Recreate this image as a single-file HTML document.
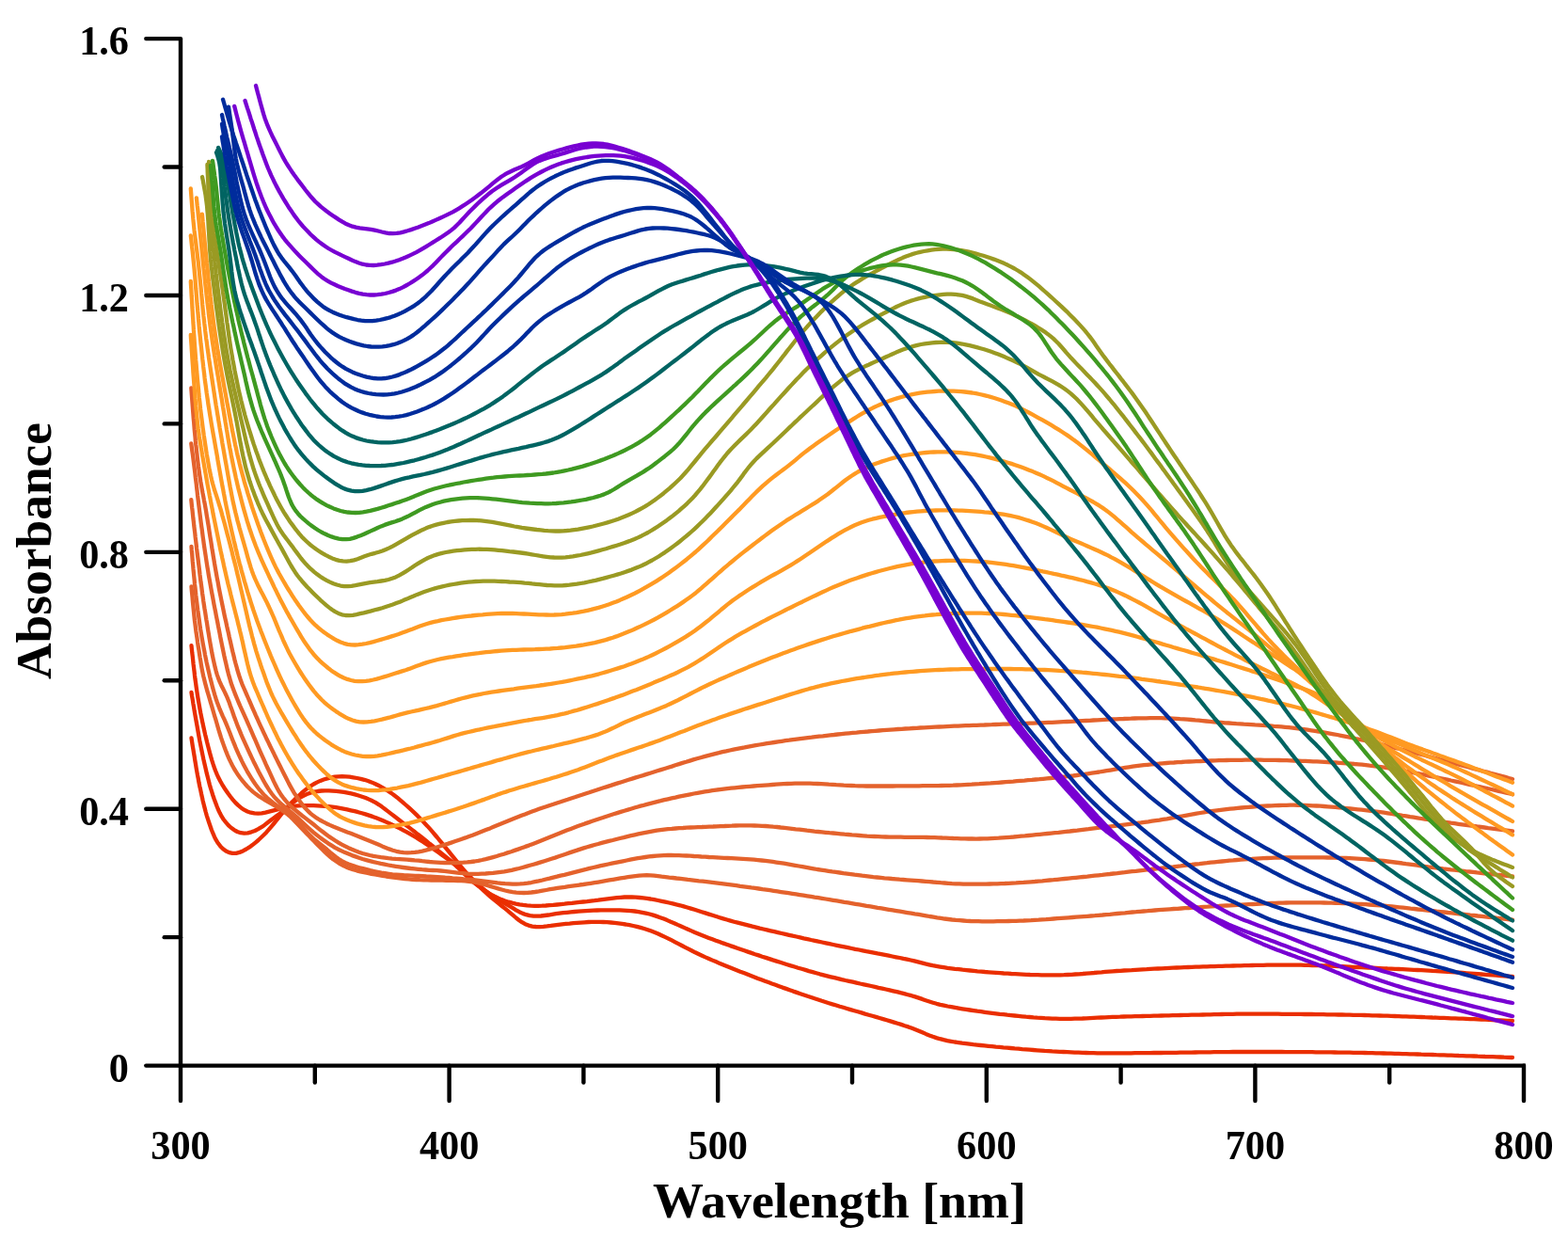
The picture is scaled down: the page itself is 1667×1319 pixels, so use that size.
<!DOCTYPE html>
<html><head><meta charset="utf-8"><title>Absorbance spectra</title>
<style>html,body{margin:0;padding:0;background:#fff;overflow:hidden}svg{display:block}</style></head>
<body><svg width="1667" height="1319" viewBox="0 0 1667 1319">
<rect width="1667" height="1319" fill="#fff"/>
<g fill="none" stroke-width="4.3" stroke-linejoin="round" stroke-linecap="round"><path d="M203.5,784.4 L204.1,788.4 L204.7,792.3 L205.4,796.3 L206.0,800.2 L206.7,804.2 L207.3,808.1 L208.0,812.1 L208.6,816.0 L209.3,820.0 L210.0,823.9 L210.8,827.8 L211.5,831.8 L212.3,835.7 L213.2,839.6 L214.0,843.5 L214.9,847.4 L215.7,851.3 L216.7,855.2 L217.7,859.1 L218.7,863.0 L219.8,866.8 L221.0,870.6 L222.3,874.5 L223.6,878.2 L224.9,882.0 L226.4,885.7 L228.0,889.4 L229.8,892.9 L231.9,896.3 L234.3,899.4 L237.1,902.2 L240.2,904.5 L243.6,906.1 L247.2,906.9 L251.0,906.8 L254.7,905.9 L258.3,904.4 L261.8,902.5 L265.2,900.4 L268.4,898.1 L271.5,895.6 L274.6,893.0 L277.5,890.3 L280.4,887.5 L283.2,884.7 L285.8,881.7 L288.4,878.6 L291.0,875.5 L293.5,872.4 L296.0,869.3 L298.5,866.2 L301.1,863.1 L303.7,860.1 L306.3,857.1 L309.0,854.1 L311.8,851.2 L314.7,848.4 L317.6,845.7 L320.5,843.0 L323.6,840.4 L326.7,837.9 L330.0,835.6 L333.3,833.5 L336.8,831.6 L340.5,829.9 L344.2,828.5 L348.0,827.4 L351.9,826.4 L355.8,825.7 L359.8,825.3 L363.7,825.2 L367.7,825.4 L371.7,825.7 L375.6,826.3 L379.6,827.0 L383.5,827.8 L387.4,828.8 L391.2,830.0 L394.9,831.4 L398.6,833.0 L402.2,834.7 L405.7,836.6 L409.2,838.6 L412.6,840.7 L415.9,842.9 L419.1,845.3 L422.3,847.7 L425.4,850.3 L428.4,852.9 L431.4,855.5 L434.4,858.2 L437.4,860.9 L440.3,863.6 L443.2,866.4 L446.0,869.2 L448.8,872.1 L451.5,875.0 L454.3,877.9 L457.0,880.9 L459.6,883.9 L462.2,887.0 L464.8,890.0 L467.3,893.1 L469.9,896.2 L472.4,899.3 L474.9,902.4 L477.5,905.5 L480.0,908.6 L482.5,911.7 L485.1,914.8 L487.6,917.9 L490.1,921.0 L492.7,924.1 L495.3,927.1 L498.0,930.1 L500.7,933.0 L503.4,936.0 L506.2,938.8 L509.1,941.7 L511.9,944.4 L514.8,947.2 L517.8,949.9 L520.8,952.6 L523.8,955.2 L526.9,957.7 L530.0,960.2 L533.2,962.7 L536.3,965.2 L539.4,967.7 L542.5,970.3 L545.6,972.9 L548.6,975.5 L551.7,978.0 L554.9,980.2 L558.4,982.2 L562.0,983.6 L565.8,984.6 L569.7,985.0 L573.7,985.1 L577.6,984.8 L581.6,984.4 L585.6,983.9 L589.6,983.3 L593.5,982.8 L597.5,982.3 L601.5,981.9 L605.5,981.6 L609.5,981.2 L613.4,980.9 L617.4,980.6 L621.4,980.3 L625.4,980.0 L629.4,979.8 L633.4,979.8 L637.4,979.8 L641.4,980.0 L645.4,980.2 L649.4,980.5 L653.4,980.9 L657.4,981.4 L661.3,981.9 L665.3,982.5 L669.2,983.2 L673.1,984.0 L677.0,984.9 L680.9,985.9 L684.8,987.0 L688.6,988.2 L692.4,989.6 L696.1,991.0 L699.8,992.5 L703.4,994.2 L707.0,995.9 L710.6,997.6 L714.2,999.4 L717.8,1001.3 L721.3,1003.1 L724.9,1005.0 L728.4,1006.8 L732.0,1008.7 L735.6,1010.5 L739.1,1012.3 L742.7,1014.0 L746.4,1015.7 L750.0,1017.4 L753.7,1019.0 L757.4,1020.6 L761.0,1022.1 L764.7,1023.7 L768.4,1025.2 L772.1,1026.7 L775.9,1028.2 L779.6,1029.7 L783.3,1031.2 L787.0,1032.7 L790.7,1034.1 L794.5,1035.6 L798.2,1037.0 L802.0,1038.4 L805.7,1039.9 L809.4,1041.3 L813.2,1042.7 L817.0,1044.1 L820.7,1045.5 L824.5,1046.8 L828.2,1048.2 L832.0,1049.6 L835.8,1050.9 L839.5,1052.2 L843.3,1053.6 L847.1,1054.9 L850.9,1056.2 L854.7,1057.5 L858.5,1058.8 L862.3,1060.0 L866.1,1061.3 L869.9,1062.5 L873.7,1063.8 L877.5,1065.0 L881.3,1066.2 L885.1,1067.4 L889.0,1068.5 L892.8,1069.7 L896.6,1070.8 L900.5,1072.0 L904.3,1073.1 L908.2,1074.2 L912.0,1075.3 L915.9,1076.4 L919.7,1077.6 L923.6,1078.7 L927.4,1079.8 L931.3,1080.9 L935.1,1082.0 L938.9,1083.1 L942.8,1084.3 L946.6,1085.4 L950.5,1086.6 L954.3,1087.7 L958.1,1088.9 L961.9,1090.2 L965.7,1091.4 L969.5,1092.8 L973.2,1094.2 L976.9,1095.7 L980.6,1097.3 L984.3,1098.9 L988.0,1100.4 L991.7,1101.8 L995.5,1103.1 L999.3,1104.2 L1003.2,1105.2 L1007.1,1106.1 L1011.1,1106.8 L1015.0,1107.5 L1019.0,1108.1 L1022.9,1108.7 L1026.9,1109.2 L1030.9,1109.7 L1034.8,1110.2 L1038.8,1110.6 L1042.8,1111.0 L1046.8,1111.4 L1050.8,1111.8 L1054.8,1112.2 L1058.7,1112.6 L1062.7,1112.9 L1066.7,1113.3 L1070.7,1113.6 L1074.7,1114.0 L1078.7,1114.4 L1082.7,1114.7 L1086.7,1115.1 L1090.6,1115.4 L1094.6,1115.7 L1098.6,1116.0 L1102.6,1116.3 L1106.6,1116.6 L1110.6,1116.9 L1114.6,1117.1 L1118.6,1117.4 L1122.6,1117.6 L1126.6,1117.8 L1130.6,1118.0 L1134.6,1118.2 L1138.6,1118.4 L1142.6,1118.6 L1146.6,1118.7 L1150.6,1118.9 L1154.6,1119.0 L1158.6,1119.1 L1162.6,1119.2 L1166.6,1119.3 L1170.6,1119.3 L1174.6,1119.3 L1178.6,1119.4 L1182.6,1119.4 L1186.6,1119.4 L1190.6,1119.3 L1194.6,1119.3 L1198.7,1119.3 L1202.7,1119.3 L1206.7,1119.2 L1210.7,1119.2 L1214.7,1119.1 L1218.7,1119.1 L1222.7,1119.1 L1226.7,1119.0 L1230.7,1119.0 L1234.7,1119.0 L1238.7,1118.9 L1242.7,1118.9 L1246.7,1118.8 L1250.7,1118.8 L1254.7,1118.7 L1258.7,1118.7 L1262.7,1118.6 L1266.7,1118.6 L1270.7,1118.5 L1274.7,1118.4 L1278.7,1118.4 L1282.7,1118.3 L1286.7,1118.3 L1290.7,1118.2 L1294.7,1118.2 L1298.8,1118.1 L1302.8,1118.1 L1306.8,1118.1 L1310.8,1118.0 L1314.8,1118.0 L1318.8,1118.0 L1322.8,1118.0 L1326.8,1118.0 L1330.8,1118.0 L1334.8,1118.0 L1338.8,1118.0 L1342.8,1118.0 L1346.8,1118.0 L1350.8,1118.0 L1354.8,1118.0 L1358.8,1118.0 L1362.8,1118.0 L1366.8,1118.1 L1370.8,1118.1 L1374.8,1118.1 L1378.8,1118.1 L1382.8,1118.1 L1386.8,1118.2 L1390.9,1118.2 L1394.9,1118.2 L1398.9,1118.3 L1402.9,1118.3 L1406.9,1118.4 L1410.9,1118.4 L1414.9,1118.4 L1418.9,1118.5 L1422.9,1118.6 L1426.9,1118.6 L1430.9,1118.7 L1434.9,1118.7 L1438.9,1118.8 L1442.9,1118.9 L1446.9,1118.9 L1450.9,1119.0 L1454.9,1119.1 L1458.9,1119.2 L1462.9,1119.3 L1466.9,1119.4 L1470.9,1119.5 L1474.9,1119.6 L1478.9,1119.7 L1482.9,1119.8 L1486.9,1119.9 L1490.9,1120.1 L1494.9,1120.2 L1498.9,1120.3 L1502.9,1120.4 L1506.9,1120.5 L1511.0,1120.7 L1515.0,1120.8 L1519.0,1120.9 L1523.0,1121.0 L1527.0,1121.2 L1531.0,1121.3 L1535.0,1121.4 L1539.0,1121.6 L1543.0,1121.7 L1547.0,1121.8 L1551.0,1122.0 L1555.0,1122.1 L1559.0,1122.3 L1563.0,1122.4 L1567.0,1122.5 L1571.0,1122.7 L1575.0,1122.8 L1579.0,1123.0 L1583.0,1123.1 L1587.0,1123.2 L1591.0,1123.4 L1595.0,1123.5 L1599.0,1123.7 L1603.0,1123.8 L1607.0,1124.0 L1608.0,1124.0" stroke="#ea2e00"/><path d="M203.5,735.9 L204.1,739.9 L204.8,743.8 L205.4,747.8 L206.1,751.7 L206.7,755.7 L207.4,759.6 L208.1,763.6 L208.8,767.5 L209.5,771.4 L210.2,775.4 L210.9,779.3 L211.6,783.3 L212.3,787.2 L213.1,791.1 L213.9,795.1 L214.7,799.0 L215.5,802.9 L216.3,806.8 L217.2,810.7 L218.1,814.6 L219.0,818.5 L219.9,822.4 L220.9,826.3 L221.9,830.2 L222.9,834.1 L224.0,837.9 L225.2,841.7 L226.4,845.5 L227.7,849.3 L229.1,853.1 L230.5,856.8 L232.0,860.5 L233.7,864.1 L235.6,867.7 L237.7,871.0 L240.2,874.1 L242.8,877.1 L245.7,879.8 L248.9,882.1 L252.3,884.0 L255.9,885.2 L259.6,885.6 L263.5,885.3 L267.2,884.3 L271.0,883.0 L274.5,881.2 L277.9,879.2 L281.2,876.9 L284.3,874.5 L287.5,872.0 L290.7,869.6 L293.9,867.3 L297.2,864.9 L300.3,862.5 L303.4,859.9 L306.4,857.3 L309.4,854.7 L312.5,852.2 L315.8,849.8 L319.1,847.7 L322.6,845.8 L326.2,844.1 L330.0,842.7 L333.8,841.7 L337.7,841.0 L341.7,840.5 L345.6,840.3 L349.6,840.4 L353.6,840.6 L357.6,840.9 L361.6,841.3 L365.6,841.9 L369.5,842.6 L373.4,843.4 L377.3,844.4 L381.1,845.5 L384.9,846.7 L388.7,848.0 L392.4,849.6 L396.0,851.3 L399.5,853.2 L402.9,855.3 L406.2,857.6 L409.4,860.0 L412.5,862.4 L415.7,864.9 L418.9,867.3 L422.1,869.7 L425.3,872.2 L428.4,874.6 L431.6,877.0 L434.8,879.4 L438.0,881.9 L441.2,884.3 L444.3,886.8 L447.5,889.2 L450.6,891.7 L453.7,894.2 L456.8,896.8 L460.0,899.3 L463.1,901.8 L466.2,904.3 L469.3,906.9 L472.4,909.4 L475.5,911.9 L478.6,914.5 L481.7,917.0 L484.8,919.5 L487.9,922.0 L491.0,924.6 L494.1,927.1 L497.1,929.8 L500.1,932.4 L503.0,935.1 L506.0,937.8 L508.9,940.5 L511.9,943.2 L515.0,945.8 L518.1,948.3 L521.3,950.7 L524.6,953.0 L528.0,955.1 L531.4,957.2 L534.9,959.2 L538.3,961.2 L541.8,963.2 L545.2,965.2 L548.7,967.3 L552.1,969.2 L555.7,970.9 L559.4,972.2 L563.3,973.2 L567.2,973.6 L571.2,973.7 L575.1,973.5 L579.1,973.0 L583.1,972.5 L587.0,971.9 L591.0,971.2 L594.9,970.7 L598.9,970.2 L602.9,969.8 L606.9,969.4 L610.9,969.0 L614.9,968.7 L618.8,968.4 L622.8,968.1 L626.8,967.8 L630.8,967.6 L634.8,967.5 L638.8,967.4 L642.8,967.3 L646.8,967.3 L650.9,967.3 L654.9,967.3 L658.9,967.4 L662.9,967.6 L666.9,967.8 L670.8,968.1 L674.8,968.5 L678.8,969.1 L682.7,969.8 L686.6,970.6 L690.5,971.5 L694.4,972.6 L698.2,973.9 L701.9,975.2 L705.7,976.6 L709.4,978.1 L713.1,979.7 L716.8,981.2 L720.4,982.9 L724.1,984.5 L727.7,986.1 L731.4,987.8 L735.1,989.4 L738.7,991.0 L742.4,992.5 L746.1,994.0 L749.9,995.5 L753.6,996.9 L757.4,998.3 L761.1,999.7 L764.9,1001.0 L768.6,1002.4 L772.4,1003.7 L776.2,1005.1 L780.0,1006.4 L783.8,1007.7 L787.5,1009.0 L791.3,1010.3 L795.1,1011.6 L798.9,1012.9 L802.7,1014.2 L806.5,1015.4 L810.3,1016.7 L814.1,1017.9 L817.9,1019.1 L821.7,1020.4 L825.6,1021.6 L829.4,1022.8 L833.2,1024.0 L837.0,1025.2 L840.8,1026.4 L844.7,1027.5 L848.5,1028.7 L852.4,1029.8 L856.2,1030.9 L860.0,1032.1 L863.9,1033.1 L867.8,1034.2 L871.6,1035.3 L875.5,1036.3 L879.4,1037.3 L883.3,1038.3 L887.1,1039.2 L891.0,1040.1 L894.9,1041.1 L898.8,1042.0 L902.7,1042.8 L906.7,1043.7 L910.6,1044.6 L914.5,1045.5 L918.4,1046.3 L922.3,1047.2 L926.2,1048.0 L930.1,1048.9 L934.0,1049.8 L937.9,1050.6 L941.8,1051.5 L945.7,1052.4 L949.6,1053.3 L953.5,1054.2 L957.4,1055.2 L961.3,1056.1 L965.2,1057.2 L969.0,1058.2 L972.9,1059.4 L976.7,1060.6 L980.5,1061.9 L984.2,1063.3 L988.0,1064.5 L991.9,1065.7 L995.7,1066.8 L999.6,1067.8 L1003.5,1068.6 L1007.4,1069.5 L1011.3,1070.2 L1015.3,1070.9 L1019.2,1071.6 L1023.2,1072.3 L1027.1,1072.9 L1031.1,1073.5 L1035.1,1074.1 L1039.0,1074.7 L1043.0,1075.2 L1047.0,1075.8 L1050.9,1076.3 L1054.9,1076.8 L1058.9,1077.3 L1062.8,1077.8 L1066.8,1078.2 L1070.8,1078.7 L1074.8,1079.1 L1078.8,1079.5 L1082.7,1079.9 L1086.7,1080.3 L1090.7,1080.7 L1094.7,1081.0 L1098.7,1081.4 L1102.7,1081.7 L1106.7,1081.9 L1110.7,1082.2 L1114.7,1082.4 L1118.7,1082.6 L1122.7,1082.7 L1126.7,1082.8 L1130.7,1082.8 L1134.7,1082.8 L1138.7,1082.8 L1142.7,1082.7 L1146.7,1082.6 L1150.7,1082.5 L1154.7,1082.3 L1158.7,1082.1 L1162.7,1081.9 L1166.7,1081.7 L1170.7,1081.5 L1174.7,1081.3 L1178.7,1081.1 L1182.7,1080.9 L1186.7,1080.8 L1190.7,1080.7 L1194.7,1080.5 L1198.7,1080.4 L1202.7,1080.3 L1206.7,1080.2 L1210.7,1080.1 L1214.7,1080.0 L1218.7,1079.9 L1222.7,1079.8 L1226.7,1079.7 L1230.7,1079.6 L1234.7,1079.5 L1238.7,1079.4 L1242.7,1079.3 L1246.7,1079.2 L1250.8,1079.1 L1254.8,1079.0 L1258.8,1078.9 L1262.8,1078.8 L1266.8,1078.7 L1270.8,1078.7 L1274.8,1078.6 L1278.8,1078.5 L1282.8,1078.4 L1286.8,1078.3 L1290.8,1078.2 L1294.8,1078.1 L1298.8,1078.0 L1302.8,1077.9 L1306.8,1077.8 L1310.8,1077.8 L1314.8,1077.7 L1318.8,1077.7 L1322.8,1077.7 L1326.8,1077.7 L1330.8,1077.7 L1334.8,1077.7 L1338.8,1077.7 L1342.8,1077.7 L1346.8,1077.7 L1350.8,1077.7 L1354.8,1077.7 L1358.9,1077.7 L1362.9,1077.8 L1366.9,1077.8 L1370.9,1077.8 L1374.9,1077.8 L1378.9,1077.9 L1382.9,1077.9 L1386.9,1078.0 L1390.9,1078.0 L1394.9,1078.0 L1398.9,1078.1 L1402.9,1078.1 L1406.9,1078.2 L1410.9,1078.3 L1414.9,1078.3 L1418.9,1078.4 L1422.9,1078.5 L1426.9,1078.5 L1430.9,1078.6 L1434.9,1078.7 L1438.9,1078.8 L1442.9,1078.8 L1446.9,1078.9 L1450.9,1079.0 L1454.9,1079.1 L1458.9,1079.3 L1463.0,1079.4 L1467.0,1079.5 L1471.0,1079.6 L1475.0,1079.7 L1479.0,1079.9 L1483.0,1080.0 L1487.0,1080.1 L1491.0,1080.3 L1495.0,1080.4 L1499.0,1080.6 L1503.0,1080.7 L1507.0,1080.9 L1511.0,1081.0 L1515.0,1081.2 L1519.0,1081.3 L1523.0,1081.5 L1527.0,1081.6 L1531.0,1081.8 L1535.0,1081.9 L1539.0,1082.1 L1543.0,1082.3 L1547.0,1082.4 L1551.0,1082.6 L1555.0,1082.7 L1559.0,1082.9 L1563.0,1083.1 L1567.0,1083.2 L1571.0,1083.4 L1575.0,1083.6 L1579.0,1083.7 L1583.0,1083.9 L1587.0,1084.1 L1591.0,1084.3 L1595.0,1084.4 L1599.0,1084.6 L1603.0,1084.8 L1607.0,1085.0 L1608.0,1085.0" stroke="#ea2e00"/><path d="M203.5,686.1 L203.9,690.1 L204.3,694.1 L204.8,698.0 L205.2,702.0 L205.6,706.0 L206.1,710.0 L206.6,714.0 L207.0,717.9 L207.5,721.9 L208.1,725.9 L208.6,729.8 L209.2,733.8 L209.8,737.8 L210.4,741.7 L211.1,745.7 L211.8,749.6 L212.5,753.6 L213.2,757.5 L214.0,761.4 L214.8,765.3 L215.6,769.3 L216.5,773.2 L217.3,777.1 L218.2,781.0 L219.2,784.9 L220.1,788.8 L221.1,792.7 L222.1,796.5 L223.1,800.4 L224.2,804.3 L225.3,808.1 L226.5,811.9 L227.8,815.7 L229.2,819.5 L230.7,823.1 L232.4,826.8 L234.2,830.3 L236.2,833.8 L238.3,837.2 L240.5,840.5 L242.8,843.8 L245.2,847.0 L247.7,850.1 L250.3,853.1 L253.2,855.9 L256.2,858.4 L259.5,860.7 L263.0,862.5 L266.6,863.7 L270.5,864.4 L274.4,864.6 L278.3,864.3 L282.2,863.6 L286.1,862.6 L290.0,861.6 L293.9,860.6 L297.7,859.7 L301.6,858.7 L305.5,857.9 L309.5,857.2 L313.4,856.7 L317.4,856.3 L321.4,856.1 L325.4,856.1 L329.4,856.1 L333.4,856.2 L337.4,856.4 L341.4,856.6 L345.4,856.9 L349.4,857.2 L353.4,857.6 L357.3,858.2 L361.3,858.8 L365.2,859.6 L369.1,860.4 L373.0,861.3 L376.9,862.2 L380.8,863.2 L384.7,864.3 L388.5,865.4 L392.3,866.6 L396.1,867.9 L399.9,869.3 L403.6,870.7 L407.3,872.3 L411.0,873.9 L414.6,875.5 L418.2,877.2 L421.8,878.9 L425.4,880.7 L429.0,882.6 L432.5,884.4 L436.0,886.4 L439.5,888.4 L442.9,890.4 L446.3,892.6 L449.7,894.7 L453.0,897.0 L456.3,899.2 L459.6,901.5 L462.9,903.8 L466.2,906.1 L469.5,908.4 L472.7,910.7 L475.9,913.1 L479.1,915.5 L482.2,918.0 L485.2,920.6 L488.2,923.4 L491.0,926.2 L493.8,929.0 L496.7,931.8 L499.7,934.5 L502.7,937.1 L505.8,939.6 L509.0,942.0 L512.3,944.3 L515.6,946.6 L518.9,948.8 L522.3,950.8 L525.8,952.7 L529.4,954.5 L533.1,956.1 L536.9,957.5 L540.7,958.7 L544.5,959.7 L548.4,960.6 L552.3,961.4 L556.3,961.9 L560.3,962.3 L564.3,962.6 L568.3,962.8 L572.3,962.8 L576.3,962.7 L580.2,962.5 L584.2,962.2 L588.2,961.9 L592.2,961.5 L596.2,961.1 L600.2,960.7 L604.2,960.2 L608.1,959.8 L612.1,959.3 L616.1,958.9 L620.1,958.5 L624.1,958.1 L628.0,957.6 L632.0,957.2 L636.0,956.7 L640.0,956.1 L643.9,955.6 L647.9,955.1 L651.9,954.6 L655.8,954.1 L659.8,953.8 L663.8,953.5 L667.8,953.4 L671.8,953.5 L675.8,953.7 L679.8,954.0 L683.8,954.4 L687.7,954.9 L691.7,955.5 L695.6,956.2 L699.6,957.0 L703.5,957.8 L707.4,958.6 L711.3,959.5 L715.2,960.4 L719.1,961.4 L723.0,962.3 L726.9,963.4 L730.7,964.5 L734.5,965.6 L738.4,966.8 L742.2,968.0 L746.0,969.2 L749.8,970.4 L753.6,971.6 L757.4,972.8 L761.3,974.0 L765.1,975.2 L768.9,976.4 L772.8,977.5 L776.6,978.6 L780.5,979.7 L784.3,980.7 L788.2,981.7 L792.1,982.7 L796.0,983.7 L799.9,984.7 L803.8,985.6 L807.6,986.6 L811.5,987.5 L815.4,988.4 L819.3,989.3 L823.2,990.2 L827.1,991.1 L831.0,992.0 L834.9,992.9 L838.9,993.8 L842.8,994.7 L846.7,995.5 L850.6,996.4 L854.5,997.3 L858.4,998.1 L862.3,999.0 L866.2,999.8 L870.1,1000.7 L874.0,1001.5 L878.0,1002.4 L881.9,1003.2 L885.8,1004.0 L889.7,1004.8 L893.6,1005.6 L897.6,1006.4 L901.5,1007.2 L905.4,1008.0 L909.3,1008.8 L913.3,1009.5 L917.2,1010.3 L921.1,1011.1 L925.1,1011.8 L929.0,1012.6 L932.9,1013.4 L936.9,1014.1 L940.8,1014.9 L944.7,1015.7 L948.6,1016.5 L952.6,1017.3 L956.5,1018.0 L960.4,1018.9 L964.3,1019.7 L968.2,1020.5 L972.1,1021.4 L976.0,1022.4 L979.9,1023.4 L983.8,1024.4 L987.7,1025.3 L991.6,1026.2 L995.5,1026.9 L999.5,1027.6 L1003.4,1028.2 L1007.4,1028.8 L1011.4,1029.3 L1015.3,1029.8 L1019.3,1030.2 L1023.3,1030.7 L1027.3,1031.1 L1031.3,1031.5 L1035.2,1031.9 L1039.2,1032.3 L1043.2,1032.6 L1047.2,1033.0 L1051.2,1033.3 L1055.2,1033.6 L1059.2,1033.9 L1063.2,1034.2 L1067.2,1034.5 L1071.2,1034.7 L1075.2,1035.0 L1079.2,1035.2 L1083.2,1035.4 L1087.2,1035.6 L1091.2,1035.8 L1095.2,1036.0 L1099.2,1036.1 L1103.2,1036.2 L1107.2,1036.3 L1111.2,1036.4 L1115.2,1036.4 L1119.2,1036.4 L1123.2,1036.4 L1127.2,1036.3 L1131.2,1036.2 L1135.2,1036.0 L1139.2,1035.8 L1143.2,1035.5 L1147.2,1035.3 L1151.2,1035.0 L1155.1,1034.6 L1159.1,1034.3 L1163.1,1034.0 L1167.1,1033.6 L1171.1,1033.3 L1175.1,1032.9 L1179.1,1032.6 L1183.1,1032.3 L1187.1,1032.0 L1191.1,1031.8 L1195.1,1031.5 L1199.1,1031.3 L1203.1,1031.1 L1207.1,1030.8 L1211.1,1030.6 L1215.1,1030.4 L1219.1,1030.2 L1223.0,1029.9 L1227.0,1029.7 L1231.0,1029.5 L1235.0,1029.3 L1239.0,1029.1 L1243.0,1028.9 L1247.0,1028.7 L1251.0,1028.5 L1255.0,1028.4 L1259.0,1028.2 L1263.0,1028.0 L1267.0,1027.9 L1271.0,1027.7 L1275.0,1027.6 L1279.0,1027.4 L1283.1,1027.3 L1287.1,1027.2 L1291.1,1027.1 L1295.1,1026.9 L1299.1,1026.8 L1303.1,1026.7 L1307.1,1026.6 L1311.1,1026.5 L1315.1,1026.4 L1319.1,1026.3 L1323.1,1026.2 L1327.1,1026.1 L1331.1,1026.0 L1335.1,1025.9 L1339.1,1025.8 L1343.1,1025.8 L1347.1,1025.7 L1351.1,1025.7 L1355.1,1025.6 L1359.1,1025.6 L1363.1,1025.6 L1367.1,1025.6 L1371.1,1025.6 L1375.1,1025.6 L1379.1,1025.6 L1383.1,1025.7 L1387.1,1025.8 L1391.1,1025.9 L1395.1,1026.0 L1399.1,1026.1 L1403.1,1026.2 L1407.1,1026.4 L1411.1,1026.5 L1415.1,1026.7 L1419.1,1026.9 L1423.1,1027.1 L1427.1,1027.2 L1431.1,1027.4 L1435.1,1027.6 L1439.1,1027.8 L1443.1,1028.0 L1447.1,1028.2 L1451.1,1028.4 L1455.1,1028.6 L1459.1,1028.7 L1463.1,1028.9 L1467.1,1029.1 L1471.1,1029.3 L1475.1,1029.5 L1479.1,1029.6 L1483.1,1029.8 L1487.1,1030.0 L1491.1,1030.2 L1495.1,1030.4 L1499.1,1030.6 L1503.1,1030.8 L1507.1,1031.0 L1511.1,1031.2 L1515.1,1031.4 L1519.1,1031.6 L1523.1,1031.9 L1527.1,1032.1 L1531.1,1032.4 L1535.1,1032.6 L1539.1,1032.9 L1543.1,1033.1 L1547.1,1033.4 L1551.1,1033.7 L1555.1,1034.0 L1559.1,1034.3 L1563.1,1034.6 L1567.1,1034.9 L1571.1,1035.2 L1575.1,1035.5 L1579.1,1035.8 L1583.0,1036.1 L1587.0,1036.4 L1591.0,1036.7 L1595.0,1037.0 L1599.0,1037.3 L1603.0,1037.6 L1607.0,1037.9 L1608.0,1038.0" stroke="#ea2e00"/><path d="M203.5,623.3 L203.8,627.3 L204.2,631.3 L204.6,635.3 L204.9,639.3 L205.3,643.2 L205.7,647.2 L206.1,651.2 L206.5,655.2 L206.9,659.2 L207.4,663.1 L207.9,667.1 L208.4,671.1 L209.0,675.0 L209.6,679.0 L210.1,683.0 L210.7,686.9 L211.4,690.9 L212.0,694.8 L212.6,698.8 L213.3,702.7 L213.9,706.7 L214.6,710.6 L215.4,714.6 L216.2,718.5 L217.2,722.4 L218.1,726.2 L219.2,730.1 L220.2,734.0 L221.4,737.8 L222.5,741.6 L223.6,745.5 L224.8,749.3 L225.9,753.2 L227.0,757.0 L228.1,760.8 L229.3,764.7 L230.4,768.5 L231.5,772.4 L232.6,776.2 L233.8,780.0 L235.0,783.9 L236.3,787.7 L237.6,791.4 L239.0,795.2 L240.4,798.9 L241.9,802.6 L243.5,806.3 L245.2,809.9 L247.0,813.5 L248.9,817.0 L251.0,820.4 L253.2,823.8 L255.5,827.0 L258.0,830.1 L260.6,833.2 L263.3,836.2 L266.1,839.0 L269.0,841.6 L272.2,844.1 L275.4,846.4 L278.8,848.5 L282.2,850.6 L285.7,852.6 L289.2,854.6 L292.6,856.6 L296.0,858.7 L299.4,860.9 L302.6,863.2 L305.8,865.6 L308.8,868.2 L311.7,871.0 L314.5,873.9 L317.2,876.8 L320.0,879.7 L322.7,882.6 L325.5,885.5 L328.3,888.3 L331.1,891.2 L333.9,894.0 L336.7,896.9 L339.5,899.8 L342.3,902.6 L345.2,905.4 L348.1,908.2 L351.1,910.8 L354.2,913.3 L357.5,915.6 L360.8,917.8 L364.3,919.7 L367.9,921.4 L371.6,922.9 L375.4,924.2 L379.2,925.3 L383.1,926.3 L387.0,927.2 L390.9,928.0 L394.8,928.8 L398.7,929.5 L402.7,930.2 L406.6,930.8 L410.6,931.5 L414.6,932.0 L418.5,932.6 L422.5,933.1 L426.5,933.6 L430.4,934.0 L434.4,934.4 L438.4,934.8 L442.4,935.0 L446.4,935.2 L450.4,935.3 L454.4,935.4 L458.4,935.5 L462.4,935.6 L466.4,935.6 L470.4,935.7 L474.4,935.8 L478.4,935.8 L482.4,935.9 L486.4,936.0 L490.4,936.1 L494.4,936.4 L498.4,936.8 L502.4,937.3 L506.3,938.0 L510.2,938.9 L514.1,939.9 L517.9,941.0 L521.7,942.1 L525.6,943.3 L529.4,944.4 L533.3,945.5 L537.1,946.5 L541.0,947.4 L545.0,948.1 L548.9,948.6 L552.9,948.9 L556.9,949.0 L560.9,948.8 L564.8,948.5 L568.8,948.0 L572.8,947.4 L576.7,946.7 L580.6,946.0 L584.6,945.2 L588.5,944.6 L592.5,943.9 L596.4,943.3 L600.4,942.8 L604.4,942.2 L608.3,941.7 L612.3,941.1 L616.2,940.5 L620.2,940.0 L624.2,939.4 L628.1,938.8 L632.1,938.1 L636.0,937.5 L640.0,936.8 L643.9,936.1 L647.9,935.4 L651.8,934.8 L655.8,934.1 L659.7,933.4 L663.7,932.8 L667.6,932.2 L671.6,931.6 L675.5,931.1 L679.5,930.6 L683.5,930.3 L687.5,930.2 L691.5,930.4 L695.4,930.7 L699.4,931.2 L703.4,931.7 L707.4,932.1 L711.3,932.6 L715.3,933.0 L719.3,933.5 L723.3,933.9 L727.2,934.4 L731.2,934.9 L735.2,935.3 L739.2,935.8 L743.1,936.3 L747.1,936.7 L751.1,937.2 L755.1,937.7 L759.0,938.2 L763.0,938.7 L767.0,939.2 L771.0,939.7 L774.9,940.2 L778.9,940.7 L782.9,941.2 L786.8,941.8 L790.8,942.3 L794.8,942.8 L798.7,943.4 L802.7,943.9 L806.7,944.5 L810.6,945.1 L814.6,945.6 L818.6,946.2 L822.5,946.8 L826.5,947.4 L830.4,948.0 L834.4,948.6 L838.3,949.2 L842.3,949.8 L846.3,950.4 L850.2,951.0 L854.2,951.7 L858.1,952.3 L862.1,952.9 L866.0,953.6 L870.0,954.2 L873.9,954.8 L877.9,955.5 L881.8,956.1 L885.8,956.8 L889.7,957.4 L893.7,958.1 L897.6,958.8 L901.6,959.4 L905.5,960.1 L909.5,960.8 L913.4,961.4 L917.4,962.1 L921.3,962.8 L925.3,963.4 L929.2,964.1 L933.1,964.8 L937.1,965.4 L941.0,966.1 L945.0,966.8 L948.9,967.4 L952.9,968.1 L956.8,968.7 L960.8,969.4 L964.7,970.0 L968.7,970.6 L972.6,971.3 L976.6,971.9 L980.5,972.6 L984.5,973.3 L988.4,974.0 L992.4,974.6 L996.3,975.3 L1000.3,975.9 L1004.2,976.5 L1008.2,977.0 L1012.2,977.5 L1016.2,977.9 L1020.2,978.2 L1024.1,978.5 L1028.1,978.8 L1032.1,979.0 L1036.1,979.1 L1040.1,979.2 L1044.1,979.3 L1048.1,979.3 L1052.2,979.3 L1056.2,979.3 L1060.2,979.2 L1064.2,979.2 L1068.2,979.1 L1072.2,979.0 L1076.2,978.9 L1080.2,978.8 L1084.2,978.6 L1088.2,978.5 L1092.2,978.3 L1096.2,978.1 L1100.2,977.8 L1104.2,977.6 L1108.2,977.3 L1112.1,977.1 L1116.1,976.8 L1120.1,976.5 L1124.1,976.2 L1128.1,975.9 L1132.1,975.6 L1136.1,975.3 L1140.1,975.0 L1144.1,974.7 L1148.1,974.4 L1152.1,974.1 L1156.1,973.8 L1160.0,973.5 L1164.0,973.2 L1168.0,972.8 L1172.0,972.5 L1176.0,972.1 L1180.0,971.8 L1184.0,971.4 L1188.0,971.0 L1192.0,970.6 L1195.9,970.3 L1199.9,969.9 L1203.9,969.5 L1207.9,969.2 L1211.9,968.8 L1215.9,968.5 L1219.9,968.2 L1223.9,967.8 L1227.8,967.5 L1231.8,967.2 L1235.8,966.9 L1239.8,966.6 L1243.8,966.3 L1247.8,966.0 L1251.8,965.8 L1255.8,965.5 L1259.8,965.2 L1263.8,965.0 L1267.8,964.7 L1271.8,964.4 L1275.8,964.2 L1279.8,963.9 L1283.8,963.7 L1287.8,963.4 L1291.7,963.2 L1295.7,963.0 L1299.7,962.7 L1303.7,962.5 L1307.7,962.3 L1311.7,962.0 L1315.7,961.8 L1319.7,961.6 L1323.7,961.4 L1327.7,961.2 L1331.7,961.0 L1335.7,960.8 L1339.7,960.5 L1343.7,960.3 L1347.7,960.2 L1351.7,960.0 L1355.7,959.8 L1359.7,959.7 L1363.7,959.6 L1367.7,959.5 L1371.7,959.4 L1375.7,959.3 L1379.7,959.3 L1383.7,959.3 L1387.7,959.3 L1391.7,959.3 L1395.7,959.3 L1399.7,959.4 L1403.7,959.4 L1407.7,959.5 L1411.7,959.6 L1415.7,959.7 L1419.7,959.8 L1423.8,959.9 L1427.8,960.1 L1431.8,960.2 L1435.8,960.4 L1439.8,960.6 L1443.7,960.8 L1447.7,961.0 L1451.7,961.2 L1455.7,961.5 L1459.7,961.8 L1463.7,962.1 L1467.7,962.4 L1471.7,962.7 L1475.7,963.1 L1479.7,963.5 L1483.7,963.9 L1487.6,964.3 L1491.6,964.7 L1495.6,965.1 L1499.6,965.6 L1503.6,966.0 L1507.5,966.5 L1511.5,966.9 L1515.5,967.4 L1519.5,967.8 L1523.4,968.2 L1527.4,968.7 L1531.4,969.1 L1535.4,969.5 L1539.4,970.0 L1543.3,970.4 L1547.3,970.8 L1551.3,971.3 L1555.3,971.7 L1559.3,972.1 L1563.2,972.6 L1567.2,973.0 L1571.2,973.5 L1575.2,973.9 L1579.2,974.4 L1583.1,974.8 L1587.1,975.2 L1591.1,975.7 L1595.1,976.1 L1599.0,976.6 L1603.0,977.0 L1607.0,977.5 L1608.0,977.6" stroke="#e4622c"/><path d="M203.5,581.0 L203.8,585.0 L204.2,589.0 L204.5,593.0 L204.8,597.0 L205.2,600.9 L205.5,604.9 L205.9,608.9 L206.3,612.9 L206.7,616.9 L207.0,620.9 L207.5,624.8 L207.9,628.8 L208.3,632.8 L208.8,636.8 L209.3,640.8 L209.8,644.7 L210.3,648.7 L210.9,652.7 L211.4,656.6 L212.0,660.6 L212.5,664.5 L213.1,668.5 L213.8,672.5 L214.4,676.4 L215.1,680.4 L215.8,684.3 L216.5,688.2 L217.3,692.2 L218.0,696.1 L218.8,700.0 L219.6,703.9 L220.5,707.8 L221.4,711.7 L222.3,715.6 L223.2,719.5 L224.2,723.4 L225.2,727.3 L226.2,731.2 L227.3,735.0 L228.4,738.9 L229.6,742.7 L230.9,746.5 L232.3,750.2 L233.7,753.9 L235.3,757.6 L236.9,761.3 L238.6,764.9 L240.2,768.6 L241.7,772.3 L243.2,776.0 L244.7,779.7 L246.1,783.4 L247.6,787.2 L249.1,790.9 L250.6,794.6 L252.2,798.3 L253.8,801.9 L255.5,805.5 L257.2,809.1 L259.0,812.7 L260.9,816.3 L262.8,819.8 L264.8,823.2 L266.9,826.6 L269.1,830.0 L271.3,833.3 L273.7,836.5 L276.2,839.7 L278.8,842.7 L281.5,845.6 L284.4,848.3 L287.5,850.9 L290.6,853.4 L293.8,855.7 L297.2,858.0 L300.5,860.1 L303.8,862.4 L307.0,864.7 L310.1,867.3 L313.0,870.0 L315.8,872.8 L318.5,875.8 L321.2,878.8 L323.8,881.8 L326.5,884.7 L329.3,887.6 L332.2,890.4 L335.2,893.0 L338.3,895.5 L341.4,898.0 L344.6,900.5 L347.7,903.0 L350.7,905.6 L353.8,908.1 L356.9,910.6 L360.1,913.0 L363.5,915.1 L367.0,916.9 L370.7,918.5 L374.4,919.8 L378.2,921.1 L382.1,922.2 L385.9,923.2 L389.8,924.2 L393.7,925.2 L397.6,926.0 L401.5,926.8 L405.5,927.6 L409.4,928.2 L413.4,928.8 L417.3,929.3 L421.3,929.6 L425.3,929.9 L429.3,930.2 L433.3,930.4 L437.3,930.6 L441.3,930.8 L445.3,931.0 L449.3,931.2 L453.3,931.5 L457.3,931.7 L461.3,931.9 L465.3,932.1 L469.3,932.4 L473.3,932.7 L477.3,932.9 L481.2,933.3 L485.2,933.6 L489.2,933.9 L493.2,934.3 L497.2,934.6 L501.2,935.0 L505.2,935.4 L509.1,935.9 L513.1,936.4 L517.1,936.9 L521.0,937.4 L525.0,937.9 L529.0,938.4 L533.0,938.8 L536.9,939.2 L540.9,939.4 L544.9,939.6 L548.9,939.6 L552.9,939.4 L556.9,939.1 L560.9,938.6 L564.8,938.0 L568.7,937.2 L572.7,936.4 L576.6,935.5 L580.4,934.5 L584.3,933.6 L588.2,932.6 L592.1,931.7 L596.0,930.7 L599.9,929.8 L603.8,928.8 L607.6,927.8 L611.5,926.8 L615.4,925.8 L619.3,924.8 L623.2,923.9 L627.0,922.9 L630.9,922.0 L634.8,921.1 L638.7,920.2 L642.6,919.4 L646.6,918.5 L650.5,917.7 L654.4,916.9 L658.3,916.1 L662.2,915.3 L666.2,914.5 L670.1,913.7 L674.0,912.9 L678.0,912.2 L681.9,911.6 L685.9,911.0 L689.8,910.4 L693.8,910.0 L697.8,909.6 L701.8,909.3 L705.8,909.1 L709.8,909.0 L713.8,909.0 L717.8,909.1 L721.8,909.2 L725.8,909.3 L729.8,909.5 L733.8,909.7 L737.8,910.0 L741.7,910.2 L745.7,910.5 L749.7,910.7 L753.7,911.0 L757.7,911.2 L761.7,911.4 L765.7,911.6 L769.7,911.8 L773.7,912.0 L777.7,912.2 L781.7,912.4 L785.7,912.6 L789.7,912.8 L793.7,913.1 L797.7,913.4 L801.7,913.7 L805.7,914.1 L809.7,914.5 L813.6,914.9 L817.6,915.4 L821.6,915.9 L825.5,916.5 L829.5,917.1 L833.4,917.7 L837.4,918.4 L841.3,919.1 L845.3,919.8 L849.2,920.5 L853.1,921.2 L857.1,921.9 L861.0,922.6 L865.0,923.3 L868.9,924.0 L872.9,924.6 L876.8,925.2 L880.8,925.8 L884.7,926.4 L888.7,926.9 L892.7,927.5 L896.6,928.1 L900.6,928.6 L904.6,929.1 L908.5,929.7 L912.5,930.2 L916.5,930.7 L920.4,931.1 L924.4,931.6 L928.4,932.1 L932.4,932.5 L936.4,932.9 L940.3,933.3 L944.3,933.6 L948.3,934.0 L952.3,934.3 L956.3,934.7 L960.3,935.0 L964.3,935.3 L968.3,935.6 L972.3,935.9 L976.2,936.2 L980.2,936.5 L984.2,936.8 L988.2,937.1 L992.2,937.5 L996.2,937.8 L1000.2,938.2 L1004.2,938.5 L1008.2,938.8 L1012.1,939.1 L1016.1,939.3 L1020.1,939.4 L1024.1,939.6 L1028.1,939.6 L1032.1,939.7 L1036.2,939.7 L1040.2,939.7 L1044.2,939.6 L1048.2,939.6 L1052.2,939.5 L1056.2,939.4 L1060.2,939.3 L1064.2,939.1 L1068.2,939.0 L1072.2,938.8 L1076.2,938.6 L1080.2,938.4 L1084.1,938.1 L1088.1,937.9 L1092.1,937.6 L1096.1,937.3 L1100.1,937.0 L1104.1,936.6 L1108.1,936.3 L1112.1,935.9 L1116.1,935.5 L1120.0,935.2 L1124.0,934.8 L1128.0,934.4 L1132.0,934.0 L1136.0,933.6 L1140.0,933.2 L1143.9,932.8 L1147.9,932.4 L1151.9,932.0 L1155.9,931.6 L1159.9,931.1 L1163.8,930.7 L1167.8,930.3 L1171.8,929.9 L1175.8,929.4 L1179.8,929.0 L1183.7,928.5 L1187.7,928.1 L1191.7,927.6 L1195.7,927.2 L1199.6,926.7 L1203.6,926.2 L1207.6,925.8 L1211.6,925.3 L1215.6,924.9 L1219.5,924.4 L1223.5,924.0 L1227.5,923.5 L1231.5,923.1 L1235.4,922.6 L1239.4,922.2 L1243.4,921.7 L1247.4,921.3 L1251.3,920.8 L1255.3,920.4 L1259.3,919.9 L1263.3,919.4 L1267.2,919.0 L1271.2,918.5 L1275.2,918.1 L1279.2,917.6 L1283.2,917.2 L1287.1,916.7 L1291.1,916.3 L1295.1,915.9 L1299.1,915.5 L1303.1,915.1 L1307.0,914.7 L1311.0,914.4 L1315.0,914.0 L1319.0,913.7 L1323.0,913.4 L1327.0,913.1 L1331.0,912.9 L1335.0,912.6 L1339.0,912.4 L1343.0,912.2 L1347.0,912.0 L1351.0,911.9 L1355.0,911.7 L1359.0,911.6 L1363.0,911.5 L1367.0,911.4 L1371.0,911.4 L1375.0,911.3 L1379.0,911.3 L1383.0,911.3 L1387.0,911.3 L1391.0,911.3 L1395.0,911.3 L1399.0,911.3 L1403.0,911.3 L1407.0,911.4 L1411.0,911.5 L1415.0,911.5 L1419.0,911.6 L1423.0,911.8 L1427.0,911.9 L1431.0,912.0 L1435.0,912.2 L1439.0,912.4 L1443.0,912.6 L1447.0,912.9 L1451.0,913.2 L1455.0,913.5 L1459.0,913.8 L1463.0,914.2 L1466.9,914.6 L1470.9,915.0 L1474.9,915.5 L1478.9,916.0 L1482.8,916.5 L1486.8,917.0 L1490.8,917.5 L1494.7,918.1 L1498.7,918.6 L1502.7,919.2 L1506.6,919.7 L1510.6,920.3 L1514.5,920.8 L1518.5,921.4 L1522.5,921.9 L1526.5,922.4 L1530.4,922.9 L1534.4,923.4 L1538.4,923.8 L1542.4,924.3 L1546.3,924.7 L1550.3,925.2 L1554.3,925.6 L1558.3,926.1 L1562.2,926.5 L1566.2,926.9 L1570.2,927.4 L1574.2,927.8 L1578.2,928.3 L1582.1,928.7 L1586.1,929.1 L1590.1,929.6 L1594.1,930.0 L1598.1,930.4 L1602.0,930.9 L1606.0,931.3 L1608.0,931.5" stroke="#e4622c"/><path d="M203.3,531.2 L203.7,535.2 L204.1,539.2 L204.6,543.1 L205.0,547.1 L205.4,551.1 L205.9,555.1 L206.3,559.1 L206.8,563.0 L207.3,567.0 L207.7,571.0 L208.2,575.0 L208.7,578.9 L209.1,582.9 L209.6,586.9 L210.1,590.9 L210.6,594.8 L211.1,598.8 L211.6,602.8 L212.1,606.7 L212.5,610.7 L213.0,614.7 L213.5,618.7 L214.1,622.6 L214.6,626.6 L215.1,630.6 L215.7,634.5 L216.2,638.5 L216.8,642.4 L217.4,646.4 L218.1,650.4 L218.7,654.3 L219.3,658.3 L220.0,662.2 L220.6,666.2 L221.2,670.1 L221.9,674.1 L222.5,678.0 L223.2,682.0 L223.9,685.9 L224.6,689.8 L225.3,693.8 L226.1,697.7 L226.9,701.6 L227.8,705.5 L228.7,709.4 L229.7,713.3 L230.8,717.1 L232.1,720.9 L233.6,724.6 L235.2,728.2 L237.0,731.8 L238.8,735.4 L240.5,739.0 L242.1,742.7 L243.6,746.4 L244.9,750.2 L246.3,753.9 L247.6,757.7 L248.9,761.5 L250.3,765.2 L251.7,769.0 L253.1,772.7 L254.7,776.4 L256.2,780.1 L257.8,783.8 L259.4,787.4 L261.1,791.1 L262.7,794.7 L264.4,798.4 L266.1,802.0 L267.8,805.6 L269.5,809.2 L271.3,812.8 L273.1,816.4 L274.9,820.0 L276.8,823.5 L278.7,827.0 L280.6,830.5 L282.6,834.0 L284.7,837.4 L286.9,840.8 L289.2,844.0 L291.7,847.1 L294.4,850.0 L297.2,852.8 L300.2,855.5 L303.3,858.1 L306.3,860.7 L309.4,863.2 L312.5,865.8 L315.5,868.4 L318.4,871.1 L321.3,873.9 L324.2,876.6 L327.2,879.3 L330.2,882.0 L333.2,884.6 L336.3,887.1 L339.5,889.6 L342.7,892.0 L345.9,894.3 L349.2,896.6 L352.6,898.7 L356.0,900.8 L359.5,902.7 L363.1,904.4 L366.8,906.1 L370.5,907.6 L374.2,909.1 L377.9,910.4 L381.7,911.7 L385.5,913.0 L389.4,914.1 L393.2,915.1 L397.1,916.1 L401.0,917.0 L404.9,917.9 L408.8,918.7 L412.8,919.5 L416.7,920.2 L420.7,920.8 L424.6,921.4 L428.6,922.0 L432.5,922.5 L436.5,923.0 L440.5,923.4 L444.5,923.8 L448.5,924.2 L452.5,924.5 L456.4,924.8 L460.4,925.0 L464.4,925.2 L468.4,925.5 L472.4,925.9 L476.4,926.3 L480.4,926.8 L484.3,927.3 L488.3,927.8 L492.3,928.2 L496.3,928.6 L500.2,928.8 L504.2,928.9 L508.2,928.9 L512.2,928.7 L516.2,928.5 L520.2,928.2 L524.2,927.9 L528.2,927.4 L532.1,926.9 L536.1,926.3 L540.0,925.6 L544.0,924.8 L547.9,923.9 L551.8,923.0 L555.6,922.0 L559.5,920.9 L563.3,919.8 L567.2,918.7 L571.0,917.6 L574.9,916.4 L578.7,915.2 L582.5,914.0 L586.3,912.8 L590.1,911.6 L593.9,910.3 L597.7,909.0 L601.5,907.7 L605.3,906.4 L609.1,905.1 L612.9,903.9 L616.7,902.6 L620.5,901.4 L624.3,900.3 L628.2,899.1 L632.0,898.0 L635.9,897.0 L639.7,895.9 L643.6,894.9 L647.5,893.9 L651.4,893.0 L655.2,892.0 L659.1,891.0 L663.0,890.1 L666.9,889.1 L670.8,888.2 L674.7,887.3 L678.6,886.4 L682.5,885.6 L686.4,884.8 L690.4,884.1 L694.3,883.4 L698.3,882.7 L702.2,882.2 L706.2,881.7 L710.2,881.2 L714.2,880.9 L718.2,880.5 L722.1,880.2 L726.1,880.0 L730.1,879.7 L734.1,879.5 L738.1,879.3 L742.1,879.1 L746.1,879.0 L750.1,878.8 L754.1,878.6 L758.1,878.5 L762.1,878.3 L766.1,878.1 L770.1,878.0 L774.1,877.8 L778.1,877.7 L782.1,877.5 L786.1,877.4 L790.1,877.4 L794.1,877.4 L798.1,877.4 L802.1,877.5 L806.1,877.6 L810.1,877.8 L814.1,878.0 L818.1,878.3 L822.1,878.7 L826.1,879.0 L830.1,879.5 L834.0,879.9 L838.0,880.3 L842.0,880.8 L846.0,881.3 L849.9,881.7 L853.9,882.2 L857.9,882.7 L861.9,883.1 L865.9,883.6 L869.8,884.0 L873.8,884.4 L877.8,884.8 L881.8,885.2 L885.8,885.5 L889.8,885.9 L893.7,886.3 L897.7,886.7 L901.7,887.0 L905.7,887.4 L909.7,887.7 L913.7,888.0 L917.7,888.3 L921.7,888.6 L925.7,888.8 L929.7,889.0 L933.7,889.2 L937.6,889.4 L941.7,889.5 L945.7,889.6 L949.7,889.6 L953.7,889.7 L957.7,889.7 L961.7,889.8 L965.7,889.8 L969.7,889.8 L973.7,889.8 L977.7,889.9 L981.7,889.9 L985.7,890.0 L989.7,890.1 L993.7,890.2 L997.7,890.3 L1001.7,890.5 L1005.7,890.6 L1009.7,890.8 L1013.7,891.0 L1017.7,891.1 L1021.7,891.3 L1025.7,891.4 L1029.7,891.5 L1033.7,891.5 L1037.7,891.6 L1041.7,891.5 L1045.7,891.4 L1049.7,891.3 L1053.7,891.1 L1057.7,890.9 L1061.7,890.7 L1065.7,890.4 L1069.7,890.1 L1073.6,889.8 L1077.6,889.5 L1081.6,889.1 L1085.6,888.7 L1089.6,888.4 L1093.6,888.0 L1097.6,887.6 L1101.5,887.2 L1105.5,886.8 L1109.5,886.4 L1113.5,886.0 L1117.5,885.6 L1121.5,885.2 L1125.4,884.8 L1129.4,884.3 L1133.4,883.9 L1137.4,883.5 L1141.4,883.0 L1145.3,882.6 L1149.3,882.1 L1153.3,881.6 L1157.3,881.2 L1161.2,880.7 L1165.2,880.2 L1169.2,879.7 L1173.2,879.3 L1177.1,878.8 L1181.1,878.3 L1185.1,877.8 L1189.0,877.4 L1193.0,876.9 L1197.0,876.4 L1201.0,875.9 L1204.9,875.4 L1208.9,874.9 L1212.9,874.4 L1216.8,873.8 L1220.8,873.3 L1224.8,872.7 L1228.7,872.2 L1232.7,871.6 L1236.6,870.9 L1240.6,870.3 L1244.5,869.6 L1248.5,868.9 L1252.4,868.2 L1256.4,867.5 L1260.3,866.8 L1264.2,866.1 L1268.2,865.4 L1272.1,864.7 L1276.1,864.0 L1280.0,863.4 L1284.0,862.7 L1287.9,862.1 L1291.9,861.6 L1295.9,861.1 L1299.8,860.6 L1303.8,860.1 L1307.8,859.7 L1311.8,859.3 L1315.7,858.9 L1319.7,858.5 L1323.7,858.1 L1327.7,857.8 L1331.7,857.5 L1335.7,857.2 L1339.7,856.9 L1343.7,856.7 L1347.7,856.5 L1351.7,856.3 L1355.7,856.1 L1359.7,856.0 L1363.7,855.9 L1367.7,855.8 L1371.7,855.7 L1375.7,855.7 L1379.7,855.8 L1383.7,855.9 L1387.7,856.0 L1391.7,856.1 L1395.7,856.3 L1399.7,856.5 L1403.7,856.7 L1407.7,857.0 L1411.7,857.3 L1415.6,857.6 L1419.6,857.9 L1423.6,858.3 L1427.6,858.7 L1431.6,859.1 L1435.6,859.5 L1439.6,859.9 L1443.5,860.3 L1447.5,860.7 L1451.5,861.2 L1455.5,861.6 L1459.4,862.1 L1463.4,862.6 L1467.4,863.2 L1471.3,863.7 L1475.3,864.3 L1479.3,864.9 L1483.2,865.5 L1487.2,866.1 L1491.1,866.8 L1495.1,867.4 L1499.0,868.1 L1503.0,868.7 L1506.9,869.3 L1510.9,870.0 L1514.8,870.6 L1518.8,871.2 L1522.7,871.8 L1526.7,872.4 L1530.7,873.0 L1534.6,873.6 L1538.6,874.1 L1542.5,874.7 L1546.5,875.2 L1550.5,875.8 L1554.4,876.3 L1558.4,876.9 L1562.4,877.4 L1566.3,877.9 L1570.3,878.5 L1574.3,879.0 L1578.2,879.5 L1582.2,880.1 L1586.2,880.6 L1590.1,881.1 L1594.1,881.7 L1598.1,882.2 L1602.0,882.7 L1606.0,883.2 L1608.0,883.5" stroke="#e4622c"/><path d="M203.3,471.4 L203.8,475.4 L204.3,479.3 L204.9,483.3 L205.4,487.3 L205.9,491.3 L206.4,495.2 L206.9,499.2 L207.4,503.2 L207.8,507.2 L208.3,511.1 L208.8,515.1 L209.2,519.1 L209.7,523.1 L210.1,527.0 L210.6,531.0 L211.1,535.0 L211.6,539.0 L212.1,542.9 L212.6,546.9 L213.1,550.9 L213.6,554.9 L214.1,558.8 L214.7,562.8 L215.2,566.8 L215.7,570.7 L216.3,574.7 L216.8,578.7 L217.4,582.6 L218.0,586.6 L218.6,590.5 L219.2,594.5 L219.8,598.5 L220.4,602.4 L221.1,606.4 L221.7,610.3 L222.4,614.3 L223.1,618.2 L223.8,622.2 L224.5,626.1 L225.2,630.0 L226.0,634.0 L226.7,637.9 L227.4,641.8 L228.2,645.8 L229.0,649.7 L229.7,653.6 L230.5,657.6 L231.3,661.5 L232.0,665.4 L232.8,669.3 L233.6,673.3 L234.3,677.2 L235.1,681.1 L235.9,685.1 L236.7,689.0 L237.5,692.9 L238.3,696.8 L239.2,700.7 L240.1,704.6 L241.0,708.5 L241.9,712.4 L242.9,716.3 L244.0,720.2 L245.1,724.0 L246.3,727.8 L247.7,731.6 L249.1,735.3 L250.6,739.1 L252.1,742.8 L253.6,746.4 L255.2,750.1 L256.9,753.8 L258.5,757.4 L260.2,761.1 L261.8,764.7 L263.4,768.4 L265.0,772.0 L266.6,775.7 L268.2,779.4 L269.8,783.1 L271.4,786.7 L273.0,790.4 L274.6,794.1 L276.2,797.8 L277.8,801.4 L279.5,805.1 L281.1,808.7 L282.7,812.4 L284.4,816.0 L286.1,819.7 L287.8,823.3 L289.4,826.9 L291.1,830.6 L292.9,834.2 L294.7,837.7 L296.6,841.2 L298.7,844.6 L301.1,847.8 L303.6,850.9 L306.2,853.9 L309.1,856.7 L312.0,859.4 L315.1,862.0 L318.2,864.5 L321.3,867.0 L324.5,869.4 L327.7,871.9 L330.8,874.3 L334.0,876.8 L337.1,879.3 L340.2,881.8 L343.4,884.3 L346.6,886.7 L349.8,889.1 L353.1,891.3 L356.5,893.5 L359.9,895.6 L363.4,897.6 L366.9,899.4 L370.5,901.2 L374.1,902.8 L377.8,904.3 L381.6,905.7 L385.4,907.0 L389.2,908.0 L393.1,909.0 L397.0,909.8 L401.0,910.5 L404.9,911.2 L408.9,911.7 L412.9,912.2 L416.8,912.6 L420.8,912.9 L424.8,913.1 L428.8,913.4 L432.8,913.7 L436.8,914.0 L440.8,914.4 L444.8,914.7 L448.8,915.2 L452.7,915.6 L456.7,916.0 L460.7,916.3 L464.7,916.6 L468.7,916.9 L472.7,917.0 L476.7,917.1 L480.7,917.1 L484.7,917.0 L488.7,916.9 L492.7,916.7 L496.7,916.4 L500.7,916.0 L504.6,915.5 L508.6,914.8 L512.5,914.0 L516.4,913.1 L520.3,912.1 L524.1,911.1 L528.0,910.0 L531.8,908.8 L535.7,907.7 L539.5,906.4 L543.3,905.2 L547.1,903.9 L550.9,902.6 L554.6,901.3 L558.4,899.9 L562.2,898.6 L565.9,897.2 L569.7,895.8 L573.4,894.3 L577.1,892.8 L580.8,891.3 L584.5,889.8 L588.3,888.3 L592.0,886.8 L595.7,885.3 L599.4,883.8 L603.1,882.3 L606.9,880.9 L610.6,879.5 L614.4,878.1 L618.1,876.8 L621.9,875.4 L625.7,874.1 L629.5,872.8 L633.3,871.5 L637.1,870.2 L640.9,869.0 L644.7,867.7 L648.5,866.5 L652.3,865.3 L656.1,864.1 L659.9,862.9 L663.8,861.7 L667.6,860.6 L671.4,859.5 L675.3,858.3 L679.1,857.2 L683.0,856.2 L686.9,855.1 L690.7,854.1 L694.6,853.1 L698.5,852.1 L702.4,851.2 L706.3,850.2 L710.2,849.3 L714.1,848.4 L718.0,847.6 L721.9,846.7 L725.8,845.9 L729.7,845.1 L733.7,844.3 L737.6,843.5 L741.5,842.8 L745.5,842.1 L749.4,841.4 L753.4,840.8 L757.3,840.2 L761.3,839.6 L765.3,839.1 L769.2,838.6 L773.2,838.1 L777.2,837.7 L781.2,837.3 L785.2,836.9 L789.1,836.5 L793.1,836.1 L797.1,835.8 L801.1,835.5 L805.1,835.2 L809.1,834.9 L813.1,834.6 L817.1,834.3 L821.1,834.0 L825.1,833.7 L829.1,833.4 L833.1,833.2 L837.1,833.0 L841.1,832.8 L845.1,832.7 L849.1,832.6 L853.1,832.6 L857.1,832.6 L861.1,832.7 L865.1,832.8 L869.1,833.0 L873.1,833.2 L877.1,833.4 L881.1,833.7 L885.1,833.9 L889.1,834.2 L893.1,834.4 L897.1,834.7 L901.1,834.9 L905.1,835.0 L909.1,835.2 L913.1,835.3 L917.1,835.4 L921.1,835.5 L925.1,835.5 L929.1,835.5 L933.1,835.5 L937.1,835.5 L941.1,835.5 L945.1,835.5 L949.1,835.5 L953.1,835.4 L957.1,835.4 L961.1,835.4 L965.1,835.3 L969.1,835.3 L973.1,835.3 L977.1,835.3 L981.1,835.2 L985.1,835.2 L989.1,835.2 L993.1,835.2 L997.1,835.1 L1001.1,835.0 L1005.1,834.9 L1009.1,834.8 L1013.2,834.7 L1017.2,834.5 L1021.2,834.3 L1025.2,834.1 L1029.1,833.9 L1033.1,833.7 L1037.1,833.4 L1041.1,833.2 L1045.1,832.9 L1049.1,832.6 L1053.1,832.4 L1057.1,832.1 L1061.1,831.8 L1065.1,831.5 L1069.1,831.2 L1073.1,830.9 L1077.1,830.6 L1081.1,830.2 L1085.1,829.9 L1089.1,829.6 L1093.0,829.2 L1097.0,828.9 L1101.0,828.5 L1105.0,828.2 L1109.0,827.8 L1113.0,827.4 L1117.0,827.0 L1121.0,826.6 L1124.9,826.2 L1128.9,825.8 L1132.9,825.4 L1136.9,824.9 L1140.9,824.5 L1144.8,824.0 L1148.8,823.4 L1152.8,822.9 L1156.7,822.3 L1160.7,821.7 L1164.6,821.1 L1168.6,820.5 L1172.5,819.8 L1176.5,819.1 L1180.4,818.5 L1184.4,817.8 L1188.3,817.2 L1192.3,816.5 L1196.2,815.9 L1200.2,815.3 L1204.2,814.7 L1208.1,814.2 L1212.1,813.7 L1216.1,813.2 L1220.1,812.8 L1224.1,812.4 L1228.0,812.0 L1232.0,811.7 L1236.0,811.3 L1240.0,811.0 L1244.0,810.7 L1248.0,810.5 L1252.0,810.2 L1256.0,810.0 L1260.0,809.7 L1264.0,809.5 L1268.0,809.3 L1272.0,809.1 L1276.0,809.0 L1280.0,808.8 L1284.0,808.6 L1288.0,808.5 L1292.0,808.4 L1296.0,808.2 L1300.0,808.1 L1304.0,808.0 L1308.0,807.9 L1312.0,807.9 L1316.0,807.8 L1320.0,807.8 L1324.0,807.7 L1328.0,807.7 L1332.0,807.7 L1336.0,807.7 L1340.0,807.7 L1344.0,807.8 L1348.0,807.8 L1352.0,807.9 L1356.0,807.9 L1360.1,808.0 L1364.1,808.1 L1368.1,808.2 L1372.1,808.4 L1376.1,808.5 L1380.1,808.6 L1384.1,808.8 L1388.1,808.9 L1392.1,809.1 L1396.1,809.3 L1400.1,809.4 L1404.1,809.6 L1408.1,809.8 L1412.1,810.0 L1416.1,810.3 L1420.1,810.5 L1424.1,810.8 L1428.1,811.0 L1432.0,811.3 L1436.0,811.6 L1440.0,812.0 L1444.0,812.3 L1448.0,812.7 L1452.0,813.1 L1456.0,813.6 L1459.9,814.0 L1463.9,814.6 L1467.9,815.1 L1471.8,815.7 L1475.8,816.3 L1479.7,816.9 L1483.7,817.6 L1487.6,818.3 L1491.6,819.0 L1495.5,819.8 L1499.4,820.6 L1503.4,821.3 L1507.3,822.1 L1511.2,822.9 L1515.1,823.7 L1519.0,824.6 L1523.0,825.4 L1526.9,826.2 L1530.8,827.0 L1534.7,827.8 L1538.7,828.6 L1542.6,829.5 L1546.5,830.3 L1550.4,831.2 L1554.3,832.0 L1558.2,832.9 L1562.1,833.8 L1566.0,834.6 L1569.9,835.5 L1573.8,836.4 L1577.8,837.3 L1581.7,838.2 L1585.6,839.0 L1589.5,839.9 L1593.4,840.8 L1597.3,841.7 L1601.2,842.6 L1605.1,843.5 L1608.0,844.2" stroke="#e4622c"/><path d="M203.3,412.3 L203.6,416.3 L203.9,420.3 L204.2,424.3 L204.5,428.3 L204.8,432.3 L205.1,436.3 L205.4,440.2 L205.7,444.2 L206.1,448.2 L206.4,452.2 L206.7,456.2 L207.1,460.2 L207.5,464.2 L207.8,468.2 L208.2,472.2 L208.7,476.1 L209.1,480.1 L209.6,484.1 L210.0,488.1 L210.5,492.0 L211.0,496.0 L211.6,500.0 L212.1,503.9 L212.7,507.9 L213.3,511.9 L214.0,515.8 L214.7,519.7 L215.4,523.7 L216.2,527.6 L216.9,531.6 L217.7,535.5 L218.4,539.4 L219.1,543.4 L219.7,547.3 L220.4,551.3 L221.0,555.2 L221.7,559.2 L222.3,563.1 L222.9,567.1 L223.5,571.0 L224.2,575.0 L224.8,578.9 L225.4,582.9 L226.1,586.9 L226.7,590.8 L227.4,594.8 L228.0,598.7 L228.7,602.6 L229.4,606.6 L230.1,610.5 L230.8,614.5 L231.6,618.4 L232.3,622.3 L233.0,626.3 L233.8,630.2 L234.6,634.1 L235.4,638.1 L236.2,642.0 L237.0,645.9 L237.8,649.8 L238.6,653.7 L239.5,657.7 L240.4,661.6 L241.2,665.5 L242.1,669.4 L243.0,673.3 L243.8,677.2 L244.7,681.1 L245.6,685.0 L246.5,688.9 L247.4,692.8 L248.4,696.7 L249.3,700.6 L250.3,704.5 L251.4,708.3 L252.4,712.2 L253.6,716.0 L254.8,719.8 L256.1,723.6 L257.5,727.3 L259.1,731.0 L260.7,734.7 L262.3,738.4 L263.9,742.0 L265.5,745.7 L267.1,749.4 L268.7,753.1 L270.3,756.7 L271.9,760.4 L273.6,764.0 L275.2,767.7 L276.9,771.3 L278.6,774.9 L280.3,778.6 L282.0,782.2 L283.7,785.8 L285.5,789.4 L287.2,793.0 L289.0,796.6 L290.8,800.2 L292.5,803.8 L294.3,807.4 L296.1,811.0 L297.9,814.5 L299.7,818.1 L301.5,821.7 L303.3,825.3 L305.1,828.8 L306.9,832.4 L308.8,835.9 L310.8,839.4 L312.8,842.8 L315.0,846.2 L317.2,849.5 L319.6,852.7 L322.0,855.9 L324.6,859.0 L327.3,861.9 L330.2,864.6 L333.3,867.1 L336.6,869.4 L340.0,871.5 L343.5,873.4 L347.0,875.2 L350.6,876.9 L354.3,878.5 L358.0,880.0 L361.7,881.5 L365.5,882.9 L369.2,884.4 L373.0,885.8 L376.7,887.3 L380.4,888.7 L384.1,890.2 L387.8,891.7 L391.6,893.2 L395.3,894.7 L399.0,896.2 L402.7,897.8 L406.3,899.4 L410.0,900.9 L413.7,902.4 L417.5,903.7 L421.3,904.8 L425.2,905.7 L429.1,906.2 L433.1,906.3 L437.1,906.2 L441.1,905.9 L445.0,905.3 L448.9,904.6 L452.8,903.7 L456.7,902.7 L460.6,901.7 L464.4,900.5 L468.3,899.3 L472.1,898.1 L475.9,896.9 L479.7,895.6 L483.5,894.3 L487.3,893.0 L491.0,891.7 L494.8,890.4 L498.6,889.0 L502.3,887.7 L506.1,886.2 L509.8,884.8 L513.5,883.3 L517.3,881.8 L521.0,880.4 L524.7,878.8 L528.4,877.3 L532.1,875.8 L535.8,874.3 L539.5,872.8 L543.2,871.3 L546.9,869.8 L550.7,868.3 L554.4,866.8 L558.1,865.4 L561.8,863.9 L565.6,862.5 L569.3,861.2 L573.1,859.8 L576.9,858.5 L580.7,857.3 L584.5,856.0 L588.3,854.8 L592.1,853.5 L595.9,852.3 L599.7,851.0 L603.5,849.8 L607.3,848.5 L611.1,847.3 L614.9,846.0 L618.7,844.8 L622.5,843.5 L626.4,842.3 L630.2,841.0 L634.0,839.8 L637.8,838.5 L641.6,837.3 L645.4,836.1 L649.2,834.9 L653.0,833.6 L656.8,832.4 L660.7,831.2 L664.5,830.0 L668.3,828.8 L672.1,827.6 L675.9,826.4 L679.8,825.2 L683.6,824.1 L687.4,822.9 L691.2,821.7 L695.1,820.5 L698.9,819.3 L702.7,818.1 L706.5,817.0 L710.4,815.8 L714.2,814.6 L718.0,813.3 L721.8,812.1 L725.6,810.9 L729.5,809.8 L733.3,808.6 L737.1,807.4 L741.0,806.3 L744.8,805.2 L748.7,804.1 L752.5,803.1 L756.4,802.1 L760.3,801.1 L764.2,800.2 L768.1,799.2 L772.0,798.4 L775.9,797.5 L779.8,796.7 L783.7,795.9 L787.7,795.1 L791.6,794.4 L795.5,793.6 L799.5,792.9 L803.4,792.2 L807.4,791.5 L811.3,790.9 L815.3,790.2 L819.2,789.6 L823.2,789.0 L827.1,788.4 L831.1,787.8 L835.0,787.2 L839.0,786.7 L843.0,786.1 L847.0,785.6 L850.9,785.1 L854.9,784.6 L858.9,784.1 L862.8,783.7 L866.8,783.2 L870.8,782.7 L874.8,782.3 L878.8,781.8 L882.7,781.4 L886.7,781.0 L890.7,780.5 L894.7,780.1 L898.7,779.7 L902.6,779.3 L906.6,778.9 L910.6,778.6 L914.6,778.2 L918.6,777.8 L922.6,777.5 L926.6,777.1 L930.6,776.8 L934.6,776.5 L938.5,776.2 L942.5,775.9 L946.5,775.6 L950.5,775.3 L954.5,775.0 L958.5,774.8 L962.5,774.5 L966.5,774.3 L970.5,774.0 L974.5,773.8 L978.5,773.5 L982.5,773.3 L986.5,773.1 L990.5,772.9 L994.5,772.7 L998.5,772.5 L1002.5,772.3 L1006.5,772.1 L1010.5,771.9 L1014.5,771.7 L1018.5,771.6 L1022.5,771.4 L1026.5,771.2 L1030.5,771.1 L1034.5,770.9 L1038.5,770.8 L1042.5,770.6 L1046.5,770.5 L1050.5,770.3 L1054.5,770.2 L1058.5,770.0 L1062.5,769.9 L1066.5,769.7 L1070.5,769.6 L1074.5,769.4 L1078.5,769.3 L1082.5,769.1 L1086.5,769.0 L1090.5,768.9 L1094.5,768.7 L1098.5,768.6 L1102.5,768.4 L1106.5,768.3 L1110.5,768.1 L1114.5,767.9 L1118.5,767.8 L1122.5,767.6 L1126.5,767.4 L1130.5,767.2 L1134.5,767.0 L1138.5,766.8 L1142.5,766.6 L1146.5,766.4 L1150.5,766.2 L1154.5,766.0 L1158.5,765.8 L1162.5,765.5 L1166.5,765.3 L1170.5,765.1 L1174.5,764.9 L1178.5,764.7 L1182.5,764.5 L1186.5,764.3 L1190.5,764.1 L1194.5,764.0 L1198.5,763.8 L1202.5,763.7 L1206.5,763.5 L1210.5,763.4 L1214.5,763.3 L1218.5,763.3 L1222.5,763.2 L1226.5,763.2 L1230.5,763.2 L1234.5,763.2 L1238.5,763.3 L1242.5,763.4 L1246.5,763.6 L1250.5,763.8 L1254.5,764.1 L1258.5,764.3 L1262.5,764.6 L1266.5,765.0 L1270.5,765.4 L1274.5,765.7 L1278.4,766.1 L1282.4,766.5 L1286.4,766.9 L1290.4,767.3 L1294.4,767.6 L1298.4,767.9 L1302.4,768.3 L1306.4,768.5 L1310.4,768.8 L1314.4,769.1 L1318.3,769.3 L1322.3,769.6 L1326.3,769.8 L1330.3,770.1 L1334.3,770.4 L1338.3,770.6 L1342.3,770.9 L1346.3,771.2 L1350.3,771.4 L1354.3,771.8 L1358.3,772.1 L1362.3,772.4 L1366.3,772.8 L1370.2,773.2 L1374.2,773.6 L1378.2,774.1 L1382.2,774.6 L1386.1,775.1 L1390.1,775.7 L1394.1,776.3 L1398.0,776.9 L1402.0,777.5 L1405.9,778.2 L1409.9,778.9 L1413.8,779.6 L1417.8,780.3 L1421.7,781.0 L1425.6,781.8 L1429.6,782.6 L1433.5,783.3 L1437.4,784.1 L1441.3,785.0 L1445.2,785.8 L1449.1,786.7 L1453.1,787.5 L1457.0,788.4 L1460.9,789.4 L1464.7,790.3 L1468.6,791.2 L1472.5,792.2 L1476.4,793.1 L1480.3,794.1 L1484.2,795.1 L1488.1,796.0 L1492.0,797.0 L1495.8,798.0 L1499.7,799.0 L1503.6,800.0 L1507.5,801.0 L1511.3,802.0 L1515.2,803.0 L1519.1,804.1 L1522.9,805.1 L1526.8,806.1 L1530.7,807.2 L1534.5,808.2 L1538.4,809.3 L1542.3,810.3 L1546.1,811.4 L1550.0,812.4 L1553.9,813.4 L1557.7,814.5 L1561.6,815.5 L1565.5,816.6 L1569.3,817.6 L1573.2,818.6 L1577.1,819.7 L1580.9,820.7 L1584.8,821.8 L1588.7,822.8 L1592.5,823.8 L1596.4,824.9 L1600.3,825.9 L1604.1,827.0 L1608.0,828.0" stroke="#e4622c"/><path d="M202.8,355.8 L203.0,359.8 L203.3,363.8 L203.6,367.8 L203.8,371.8 L204.1,375.8 L204.3,379.8 L204.6,383.8 L204.9,387.8 L205.2,391.8 L205.4,395.8 L205.7,399.7 L206.0,403.7 L206.3,407.7 L206.6,411.7 L206.9,415.7 L207.2,419.7 L207.5,423.7 L207.9,427.7 L208.2,431.7 L208.6,435.7 L209.0,439.7 L209.4,443.6 L209.8,447.6 L210.2,451.6 L210.7,455.6 L211.3,459.5 L211.8,463.5 L212.4,467.5 L213.1,471.4 L213.7,475.4 L214.4,479.3 L215.0,483.3 L215.7,487.2 L216.4,491.1 L217.1,495.1 L217.8,499.0 L218.5,503.0 L219.2,506.9 L219.9,510.9 L220.6,514.8 L221.3,518.7 L222.1,522.7 L222.8,526.6 L223.6,530.5 L224.3,534.5 L225.1,538.4 L225.9,542.3 L226.6,546.3 L227.4,550.2 L228.2,554.1 L229.0,558.0 L229.8,562.0 L230.6,565.9 L231.4,569.8 L232.2,573.7 L233.0,577.7 L233.8,581.6 L234.6,585.5 L235.5,589.4 L236.3,593.3 L237.2,597.2 L238.0,601.2 L238.9,605.1 L239.8,609.0 L240.7,612.9 L241.6,616.8 L242.5,620.7 L243.5,624.5 L244.5,628.4 L245.4,632.3 L246.4,636.2 L247.4,640.1 L248.4,644.0 L249.4,647.8 L250.4,651.7 L251.4,655.6 L252.4,659.5 L253.3,663.4 L254.3,667.2 L255.2,671.1 L256.2,675.0 L257.1,678.9 L258.0,682.8 L258.8,686.7 L259.7,690.7 L260.6,694.6 L261.5,698.5 L262.4,702.4 L263.3,706.3 L264.3,710.1 L265.3,714.0 L266.5,717.8 L267.7,721.6 L269.1,725.4 L270.5,729.1 L272.1,732.8 L273.7,736.5 L275.2,740.2 L276.8,743.8 L278.4,747.5 L280.0,751.2 L281.6,754.9 L283.2,758.5 L284.8,762.2 L286.5,765.8 L288.2,769.5 L289.9,773.1 L291.6,776.7 L293.4,780.3 L295.1,783.9 L297.0,787.5 L298.8,791.0 L300.7,794.5 L302.6,798.0 L304.6,801.5 L306.6,805.0 L308.7,808.4 L310.8,811.8 L312.9,815.2 L315.1,818.6 L317.4,821.9 L319.7,825.1 L322.1,828.4 L324.5,831.6 L326.9,834.7 L329.4,837.8 L332.0,840.9 L334.6,844.0 L337.3,846.9 L340.0,849.9 L342.8,852.7 L345.7,855.5 L348.6,858.2 L351.6,860.9 L354.7,863.4 L357.9,865.7 L361.3,867.8 L364.9,869.6 L368.5,871.3 L372.2,872.8 L376.0,874.1 L379.8,875.4 L383.6,876.4 L387.5,877.4 L391.4,878.1 L395.4,878.6 L399.4,879.0 L403.4,879.1 L407.4,879.0 L411.3,878.8 L415.3,878.4 L419.3,877.9 L423.2,877.2 L427.2,876.5 L431.1,875.7 L435.0,874.8 L438.9,873.8 L442.7,872.8 L446.6,871.7 L450.4,870.6 L454.3,869.4 L458.1,868.3 L461.9,867.1 L465.7,865.9 L469.6,864.7 L473.4,863.6 L477.2,862.4 L481.1,861.2 L484.9,860.0 L488.7,858.7 L492.5,857.5 L496.3,856.2 L500.1,854.9 L503.9,853.6 L507.6,852.3 L511.4,850.9 L515.2,849.6 L518.9,848.2 L522.7,846.8 L526.5,845.5 L530.2,844.1 L534.0,842.8 L537.8,841.6 L541.6,840.3 L545.4,839.2 L549.3,838.0 L553.1,836.8 L557.0,835.7 L560.8,834.6 L564.6,833.5 L568.5,832.4 L572.3,831.3 L576.2,830.2 L580.0,829.1 L583.9,828.0 L587.7,826.8 L591.6,825.7 L595.4,824.5 L599.2,823.3 L603.0,822.1 L606.8,820.8 L610.6,819.5 L614.4,818.2 L618.1,816.8 L621.9,815.4 L625.6,814.0 L629.4,812.5 L633.1,811.1 L636.8,809.6 L640.6,808.2 L644.3,806.7 L648.1,805.3 L651.8,804.0 L655.6,802.6 L659.4,801.3 L663.2,800.0 L666.9,798.7 L670.7,797.4 L674.5,796.1 L678.3,794.8 L682.1,793.6 L685.9,792.3 L689.7,790.9 L693.5,789.6 L697.2,788.3 L701.0,786.9 L704.7,785.5 L708.5,784.1 L712.2,782.7 L716.0,781.2 L719.7,779.8 L723.4,778.3 L727.2,776.9 L730.9,775.4 L734.6,774.0 L738.4,772.5 L742.1,771.1 L745.8,769.7 L749.6,768.3 L753.3,766.9 L757.1,765.5 L760.9,764.2 L764.7,762.8 L768.4,761.5 L772.2,760.2 L776.0,758.9 L779.8,757.6 L783.6,756.4 L787.4,755.1 L791.2,753.8 L795.0,752.6 L798.8,751.4 L802.6,750.1 L806.4,748.9 L810.3,747.7 L814.1,746.5 L817.9,745.2 L821.7,744.0 L825.5,742.8 L829.3,741.6 L833.1,740.4 L836.9,739.1 L840.8,737.9 L844.6,736.7 L848.4,735.6 L852.3,734.4 L856.1,733.3 L859.9,732.2 L863.8,731.2 L867.7,730.1 L871.6,729.2 L875.5,728.2 L879.4,727.3 L883.3,726.4 L887.2,725.6 L891.1,724.8 L895.0,724.0 L899.0,723.3 L902.9,722.6 L906.8,721.9 L910.8,721.2 L914.7,720.6 L918.7,720.0 L922.7,719.3 L926.6,718.8 L930.6,718.2 L934.6,717.7 L938.5,717.1 L942.5,716.6 L946.5,716.2 L950.5,715.7 L954.4,715.3 L958.4,714.9 L962.4,714.5 L966.4,714.1 L970.4,713.8 L974.4,713.5 L978.4,713.2 L982.4,712.9 L986.4,712.6 L990.3,712.4 L994.3,712.2 L998.3,712.0 L1002.3,711.8 L1006.3,711.6 L1010.3,711.5 L1014.4,711.4 L1018.4,711.3 L1022.4,711.2 L1026.4,711.2 L1030.4,711.1 L1034.4,711.1 L1038.4,711.0 L1042.4,711.0 L1046.4,711.0 L1050.4,711.0 L1054.4,711.0 L1058.4,711.0 L1062.4,711.0 L1066.4,711.0 L1070.4,711.0 L1074.4,711.0 L1078.4,711.1 L1082.4,711.2 L1086.4,711.2 L1090.4,711.3 L1094.4,711.4 L1098.4,711.5 L1102.4,711.7 L1106.4,711.8 L1110.4,712.0 L1114.4,712.2 L1118.4,712.4 L1122.4,712.6 L1126.4,712.9 L1130.4,713.1 L1134.4,713.4 L1138.4,713.7 L1142.4,714.0 L1146.4,714.3 L1150.4,714.7 L1154.4,715.0 L1158.4,715.4 L1162.3,715.8 L1166.3,716.2 L1170.3,716.6 L1174.3,717.0 L1178.3,717.4 L1182.3,717.8 L1186.2,718.3 L1190.2,718.8 L1194.2,719.2 L1198.2,719.7 L1202.1,720.2 L1206.1,720.7 L1210.1,721.2 L1214.0,721.8 L1218.0,722.3 L1222.0,722.9 L1225.9,723.4 L1229.9,724.0 L1233.9,724.5 L1237.8,725.1 L1241.8,725.7 L1245.8,726.3 L1249.7,726.9 L1253.7,727.5 L1257.6,728.1 L1261.6,728.7 L1265.5,729.3 L1269.5,729.9 L1273.5,730.5 L1277.4,731.2 L1281.4,731.8 L1285.3,732.4 L1289.3,733.1 L1293.2,733.8 L1297.2,734.5 L1301.1,735.2 L1305.0,735.9 L1309.0,736.6 L1312.9,737.3 L1316.8,738.1 L1320.8,738.9 L1324.7,739.6 L1328.6,740.4 L1332.6,741.2 L1336.5,742.0 L1340.4,742.9 L1344.3,743.7 L1348.2,744.6 L1352.1,745.4 L1356.0,746.3 L1359.9,747.2 L1363.8,748.1 L1367.7,749.1 L1371.6,750.0 L1375.5,751.0 L1379.4,752.0 L1383.2,753.1 L1387.1,754.1 L1391.0,755.2 L1394.8,756.3 L1398.7,757.4 L1402.5,758.5 L1406.3,759.6 L1410.2,760.7 L1414.0,761.9 L1417.9,763.0 L1421.7,764.2 L1425.5,765.4 L1429.3,766.6 L1433.2,767.7 L1437.0,768.9 L1440.8,770.2 L1444.6,771.4 L1448.4,772.7 L1452.2,773.9 L1456.0,775.2 L1459.8,776.6 L1463.5,777.9 L1467.3,779.3 L1471.0,780.7 L1474.8,782.2 L1478.5,783.6 L1482.2,785.1 L1486.0,786.6 L1489.7,788.0 L1493.4,789.5 L1497.2,790.9 L1500.9,792.3 L1504.7,793.7 L1508.4,795.1 L1512.2,796.4 L1515.9,797.8 L1519.7,799.1 L1523.5,800.5 L1527.3,801.8 L1531.0,803.2 L1534.8,804.5 L1538.6,805.9 L1542.3,807.2 L1546.1,808.6 L1549.9,810.0 L1553.6,811.3 L1557.4,812.7 L1561.1,814.1 L1564.9,815.5 L1568.6,816.9 L1572.4,818.3 L1576.1,819.7 L1579.9,821.1 L1583.6,822.5 L1587.4,823.9 L1591.1,825.4 L1594.9,826.8 L1598.6,828.2 L1602.4,829.6 L1606.1,831.0 L1608.0,831.7" stroke="#ff9a22"/><path d="M202.8,299.0 L203.0,303.0 L203.3,307.0 L203.5,311.0 L203.7,315.0 L204.0,319.0 L204.2,323.0 L204.4,327.0 L204.7,331.0 L204.9,335.0 L205.2,339.0 L205.4,343.0 L205.7,346.9 L205.9,350.9 L206.2,354.9 L206.5,358.9 L206.7,362.9 L207.0,366.9 L207.3,370.9 L207.6,374.9 L207.9,378.9 L208.2,382.9 L208.6,386.9 L208.9,390.9 L209.2,394.8 L209.6,398.8 L209.9,402.8 L210.3,406.8 L210.7,410.8 L211.1,414.8 L211.4,418.8 L211.8,422.7 L212.3,426.7 L212.7,430.7 L213.1,434.7 L213.6,438.7 L214.1,442.6 L214.6,446.6 L215.1,450.6 L215.6,454.5 L216.2,458.5 L216.7,462.5 L217.3,466.4 L217.9,470.4 L218.5,474.3 L219.1,478.3 L219.7,482.3 L220.4,486.2 L221.1,490.1 L221.8,494.1 L222.5,498.0 L223.3,501.9 L224.1,505.8 L225.0,509.7 L226.0,513.6 L227.1,517.5 L228.2,521.3 L229.5,525.1 L230.7,528.9 L231.9,532.7 L233.1,536.6 L234.3,540.4 L235.4,544.2 L236.4,548.1 L237.5,552.0 L238.6,555.8 L239.6,559.7 L240.6,563.5 L241.6,567.4 L242.7,571.3 L243.7,575.2 L244.7,579.0 L245.7,582.9 L246.7,586.8 L247.6,590.7 L248.6,594.6 L249.6,598.4 L250.6,602.3 L251.5,606.2 L252.4,610.1 L253.4,614.0 L254.3,617.9 L255.2,621.8 L256.1,625.7 L257.0,629.6 L257.9,633.5 L258.8,637.4 L259.7,641.3 L260.6,645.2 L261.5,649.1 L262.4,653.0 L263.3,656.9 L264.2,660.8 L265.1,664.7 L266.1,668.6 L267.1,672.5 L268.0,676.3 L269.1,680.2 L270.1,684.1 L271.2,687.9 L272.3,691.8 L273.5,695.6 L274.7,699.4 L276.0,703.2 L277.2,707.0 L278.5,710.8 L279.9,714.6 L281.2,718.3 L282.5,722.1 L283.9,725.9 L285.4,729.6 L286.9,733.3 L288.4,737.0 L290.1,740.6 L291.9,744.2 L293.7,747.8 L295.6,751.3 L297.6,754.8 L299.5,758.2 L301.6,761.7 L303.6,765.1 L305.7,768.6 L307.7,772.0 L309.8,775.4 L311.9,778.8 L314.1,782.2 L316.2,785.6 L318.4,788.9 L320.7,792.2 L323.0,795.5 L325.4,798.7 L327.8,801.8 L330.4,805.0 L332.9,808.0 L335.6,811.0 L338.3,813.9 L341.1,816.8 L344.0,819.6 L346.9,822.3 L349.9,824.9 L353.1,827.4 L356.4,829.6 L359.8,831.6 L363.4,833.4 L367.0,834.9 L370.8,836.1 L374.7,837.2 L378.6,838.1 L382.5,838.8 L386.4,839.5 L390.4,839.9 L394.4,840.1 L398.4,840.2 L402.4,840.0 L406.4,839.7 L410.3,839.3 L414.3,838.8 L418.3,838.1 L422.2,837.5 L426.1,836.7 L430.1,835.9 L434.0,835.1 L437.9,834.2 L441.7,833.2 L445.6,832.2 L449.5,831.1 L453.3,830.0 L457.2,828.9 L461.0,827.8 L464.9,826.7 L468.7,825.6 L472.6,824.5 L476.4,823.4 L480.3,822.3 L484.1,821.2 L488.0,820.1 L491.8,819.0 L495.6,817.9 L499.5,816.8 L503.3,815.6 L507.2,814.5 L511.0,813.4 L514.9,812.3 L518.7,811.2 L522.6,810.1 L526.4,808.9 L530.2,807.8 L534.1,806.8 L537.9,805.7 L541.8,804.6 L545.7,803.5 L549.5,802.5 L553.4,801.4 L557.3,800.4 L561.1,799.4 L565.0,798.5 L568.9,797.5 L572.8,796.6 L576.7,795.7 L580.6,794.8 L584.5,793.9 L588.4,793.0 L592.3,792.0 L596.2,791.1 L600.1,790.2 L604.0,789.3 L607.9,788.4 L611.8,787.4 L615.6,786.4 L619.5,785.4 L623.4,784.4 L627.2,783.3 L631.1,782.1 L634.9,780.9 L638.6,779.5 L642.3,778.1 L646.0,776.5 L649.6,774.8 L653.2,773.1 L656.8,771.3 L660.4,769.5 L664.1,767.8 L667.7,766.2 L671.4,764.7 L675.1,763.2 L678.8,761.7 L682.6,760.3 L686.3,758.8 L690.0,757.4 L693.8,756.0 L697.5,754.5 L701.2,753.0 L704.9,751.4 L708.6,749.9 L712.2,748.2 L715.9,746.5 L719.5,744.8 L723.0,743.0 L726.6,741.2 L730.2,739.3 L733.7,737.5 L737.3,735.6 L740.8,733.8 L744.4,732.0 L748.0,730.2 L751.6,728.5 L755.2,726.8 L758.8,725.1 L762.5,723.4 L766.1,721.8 L769.8,720.2 L773.4,718.6 L777.1,717.0 L780.8,715.4 L784.5,713.8 L788.2,712.2 L791.8,710.7 L795.5,709.1 L799.2,707.6 L802.9,706.1 L806.6,704.6 L810.3,703.1 L814.1,701.6 L817.8,700.1 L821.5,698.6 L825.2,697.2 L829.0,695.7 L832.7,694.3 L836.5,692.9 L840.2,691.5 L844.0,690.2 L847.8,688.8 L851.5,687.5 L855.3,686.2 L859.1,684.9 L862.9,683.6 L866.7,682.4 L870.5,681.1 L874.3,679.9 L878.1,678.7 L881.9,677.5 L885.8,676.3 L889.6,675.2 L893.4,674.1 L897.3,673.0 L901.2,671.9 L905.0,670.8 L908.9,669.8 L912.7,668.8 L916.6,667.7 L920.5,666.7 L924.4,665.8 L928.3,664.8 L932.1,663.8 L936.0,662.9 L939.9,662.0 L943.8,661.1 L947.7,660.3 L951.7,659.4 L955.6,658.7 L959.5,657.9 L963.5,657.2 L967.4,656.6 L971.4,655.9 L975.3,655.4 L979.3,654.8 L983.3,654.4 L987.2,653.9 L991.2,653.5 L995.2,653.2 L999.2,652.8 L1003.2,652.6 L1007.2,652.3 L1011.2,652.1 L1015.2,651.9 L1019.2,651.8 L1023.2,651.7 L1027.2,651.6 L1031.2,651.6 L1035.2,651.6 L1039.2,651.6 L1043.2,651.7 L1047.2,651.8 L1051.2,652.0 L1055.2,652.2 L1059.2,652.4 L1063.2,652.7 L1067.2,653.0 L1071.1,653.4 L1075.1,653.8 L1079.1,654.2 L1083.1,654.6 L1087.1,655.1 L1091.0,655.6 L1095.0,656.1 L1099.0,656.6 L1102.9,657.1 L1106.9,657.6 L1110.9,658.2 L1114.9,658.7 L1118.8,659.2 L1122.8,659.8 L1126.7,660.3 L1130.7,660.9 L1134.7,661.5 L1138.6,662.0 L1142.6,662.6 L1146.5,663.3 L1150.5,663.9 L1154.4,664.6 L1158.4,665.3 L1162.3,666.0 L1166.3,666.7 L1170.2,667.5 L1174.1,668.3 L1178.0,669.1 L1181.9,669.9 L1185.8,670.8 L1189.7,671.7 L1193.6,672.7 L1197.5,673.7 L1201.4,674.7 L1205.2,675.7 L1209.1,676.8 L1213.0,677.9 L1216.8,678.9 L1220.7,680.0 L1224.5,681.2 L1228.3,682.3 L1232.2,683.4 L1236.0,684.6 L1239.9,685.7 L1243.7,686.8 L1247.5,688.0 L1251.4,689.1 L1255.2,690.2 L1259.1,691.3 L1262.9,692.4 L1266.7,693.6 L1270.6,694.7 L1274.4,695.8 L1278.3,696.9 L1282.1,698.1 L1285.9,699.2 L1289.8,700.4 L1293.6,701.6 L1297.4,702.7 L1301.3,703.9 L1305.1,705.1 L1308.9,706.3 L1312.7,707.5 L1316.5,708.7 L1320.3,709.9 L1324.2,711.1 L1328.0,712.3 L1331.8,713.6 L1335.6,714.8 L1339.4,716.1 L1343.2,717.3 L1347.0,718.6 L1350.8,719.9 L1354.6,721.1 L1358.4,722.4 L1362.1,723.8 L1365.9,725.1 L1369.7,726.4 L1373.5,727.8 L1377.2,729.1 L1381.0,730.4 L1384.8,731.8 L1388.5,733.1 L1392.3,734.5 L1396.0,736.0 L1399.7,737.6 L1403.3,739.3 L1406.8,741.1 L1410.3,743.1 L1413.7,745.2 L1417.0,747.4 L1420.3,749.8 L1423.5,752.2 L1426.6,754.7 L1429.7,757.2 L1432.8,759.7 L1436.0,762.2 L1439.1,764.7 L1442.3,767.1 L1445.5,769.5 L1448.7,771.8 L1452.1,774.0 L1455.5,776.1 L1459.0,778.1 L1462.5,779.9 L1466.1,781.7 L1469.7,783.4 L1473.4,785.0 L1477.1,786.6 L1480.8,788.1 L1484.5,789.6 L1488.2,791.1 L1491.9,792.6 L1495.6,794.2 L1499.3,795.7 L1503.0,797.3 L1506.7,798.8 L1510.3,800.4 L1514.0,801.9 L1517.7,803.4 L1521.4,805.0 L1525.1,806.5 L1528.8,808.0 L1532.5,809.5 L1536.2,811.1 L1539.9,812.6 L1543.6,814.2 L1547.3,815.8 L1550.9,817.4 L1554.6,819.1 L1558.2,820.7 L1561.9,822.4 L1565.5,824.1 L1569.1,825.8 L1572.7,827.5 L1576.4,829.2 L1580.0,830.9 L1583.6,832.6 L1587.2,834.3 L1590.8,836.0 L1594.5,837.7 L1598.1,839.5 L1601.7,841.2 L1605.3,842.9 L1608.0,844.2" stroke="#ff9a22"/><path d="M202.8,250.5 L203.3,254.5 L203.7,258.5 L204.1,262.4 L204.6,266.4 L205.0,270.4 L205.4,274.4 L205.8,278.4 L206.2,282.4 L206.6,286.3 L206.9,290.3 L207.3,294.3 L207.6,298.3 L207.9,302.3 L208.2,306.3 L208.6,310.3 L208.9,314.3 L209.2,318.3 L209.5,322.3 L209.9,326.2 L210.2,330.2 L210.6,334.2 L210.9,338.2 L211.3,342.2 L211.6,346.2 L212.0,350.2 L212.4,354.2 L212.8,358.1 L213.2,362.1 L213.6,366.1 L214.1,370.1 L214.5,374.1 L214.9,378.0 L215.3,382.0 L215.8,386.0 L216.2,390.0 L216.7,394.0 L217.2,397.9 L217.6,401.9 L218.1,405.9 L218.7,409.9 L219.2,413.8 L219.7,417.8 L220.3,421.8 L220.9,425.7 L221.4,429.7 L222.1,433.6 L222.7,437.6 L223.3,441.5 L224.0,445.5 L224.6,449.4 L225.3,453.4 L226.0,457.3 L226.7,461.3 L227.4,465.2 L228.1,469.2 L228.8,473.1 L229.5,477.1 L230.2,481.0 L230.9,484.9 L231.5,488.9 L232.2,492.8 L232.9,496.8 L233.6,500.7 L234.3,504.7 L235.0,508.6 L235.7,512.5 L236.4,516.5 L237.2,520.4 L237.9,524.4 L238.7,528.3 L239.4,532.2 L240.2,536.1 L241.0,540.1 L241.9,544.0 L242.7,547.9 L243.5,551.8 L244.4,555.7 L245.2,559.6 L246.1,563.5 L247.0,567.4 L247.9,571.3 L248.8,575.2 L249.8,579.1 L250.7,583.0 L251.7,586.9 L252.6,590.8 L253.6,594.7 L254.6,598.6 L255.7,602.4 L256.7,606.3 L257.8,610.1 L258.9,614.0 L259.9,617.9 L261.1,621.7 L262.2,625.5 L263.3,629.4 L264.5,633.2 L265.7,637.0 L266.9,640.8 L268.2,644.7 L269.4,648.5 L270.7,652.2 L272.0,656.0 L273.3,659.8 L274.7,663.6 L276.1,667.3 L277.5,671.1 L279.0,674.8 L280.4,678.5 L281.9,682.3 L283.4,686.0 L284.9,689.7 L286.4,693.4 L287.9,697.1 L289.5,700.8 L291.1,704.5 L292.7,708.1 L294.3,711.8 L295.9,715.4 L297.6,719.1 L299.3,722.7 L301.1,726.3 L302.9,729.9 L304.7,733.4 L306.6,737.0 L308.5,740.5 L310.4,744.0 L312.4,747.5 L314.4,750.9 L316.5,754.4 L318.6,757.8 L320.7,761.1 L323.0,764.4 L325.4,767.6 L327.9,770.7 L330.6,773.7 L333.4,776.6 L336.3,779.3 L339.3,781.9 L342.5,784.4 L345.6,786.8 L348.9,789.1 L352.2,791.3 L355.6,793.4 L359.1,795.4 L362.6,797.2 L366.3,798.9 L370.0,800.3 L373.8,801.5 L377.7,802.5 L381.6,803.2 L385.6,803.8 L389.5,804.0 L393.5,804.0 L397.5,803.8 L401.4,803.3 L405.4,802.6 L409.3,801.8 L413.2,801.0 L417.1,800.1 L421.0,799.2 L424.9,798.3 L428.8,797.4 L432.7,796.4 L436.6,795.5 L440.5,794.5 L444.3,793.4 L448.2,792.4 L452.1,791.3 L455.9,790.3 L459.8,789.2 L463.6,788.1 L467.5,787.0 L471.3,785.8 L475.1,784.6 L478.9,783.4 L482.7,782.1 L486.6,781.0 L490.4,779.9 L494.3,778.9 L498.2,778.0 L502.1,777.1 L506.0,776.2 L509.9,775.4 L513.8,774.5 L517.8,773.7 L521.7,772.9 L525.6,772.2 L529.5,771.4 L533.5,770.6 L537.4,769.9 L541.3,769.1 L545.3,768.3 L549.2,767.6 L553.1,766.9 L557.1,766.2 L561.0,765.5 L565.0,764.9 L568.9,764.2 L572.9,763.6 L576.8,763.0 L580.8,762.3 L584.7,761.6 L588.7,760.9 L592.6,760.1 L596.5,759.2 L600.4,758.3 L604.3,757.3 L608.1,756.2 L612.0,755.2 L615.8,754.1 L619.7,752.9 L623.5,751.7 L627.3,750.5 L631.1,749.3 L634.9,748.1 L638.7,746.8 L642.5,745.5 L646.3,744.2 L650.1,742.9 L653.9,741.6 L657.6,740.2 L661.4,738.9 L665.2,737.5 L668.9,736.1 L672.6,734.6 L676.4,733.2 L680.1,731.7 L683.8,730.2 L687.5,728.7 L691.2,727.2 L694.9,725.6 L698.6,724.1 L702.3,722.6 L706.0,721.0 L709.7,719.4 L713.3,717.8 L717.0,716.2 L720.6,714.5 L724.2,712.7 L727.8,710.9 L731.3,709.1 L734.8,707.1 L738.3,705.1 L741.7,703.0 L745.1,700.9 L748.5,698.7 L751.8,696.5 L755.1,694.2 L758.4,691.9 L761.7,689.7 L765.0,687.4 L768.3,685.2 L771.7,683.0 L775.1,680.9 L778.5,678.8 L781.9,676.7 L785.4,674.7 L788.8,672.7 L792.3,670.8 L795.8,668.8 L799.4,666.9 L802.9,665.0 L806.4,663.1 L809.9,661.2 L813.5,659.4 L817.0,657.5 L820.6,655.7 L824.2,653.9 L827.8,652.1 L831.3,650.3 L834.9,648.5 L838.5,646.7 L842.1,645.0 L845.7,643.2 L849.3,641.4 L852.9,639.7 L856.5,637.9 L860.1,636.1 L863.7,634.4 L867.3,632.7 L870.9,631.0 L874.5,629.3 L878.2,627.6 L881.8,625.9 L885.5,624.3 L889.2,622.7 L892.9,621.2 L896.6,619.7 L900.3,618.2 L904.0,616.8 L907.8,615.5 L911.6,614.2 L915.4,612.9 L919.2,611.6 L923.0,610.4 L926.8,609.3 L930.7,608.1 L934.5,607.0 L938.4,606.0 L942.3,605.0 L946.1,604.0 L950.0,603.1 L953.9,602.2 L957.9,601.4 L961.8,600.6 L965.7,599.9 L969.7,599.2 L973.6,598.6 L977.6,598.1 L981.6,597.6 L985.6,597.2 L989.5,596.8 L993.5,596.5 L997.5,596.3 L1001.5,596.1 L1005.5,596.0 L1009.5,595.9 L1013.5,595.8 L1017.5,595.9 L1021.5,595.9 L1025.5,596.0 L1029.5,596.1 L1033.5,596.3 L1037.5,596.5 L1041.5,596.8 L1045.5,597.1 L1049.5,597.4 L1053.5,597.8 L1057.5,598.3 L1061.4,598.8 L1065.4,599.3 L1069.4,599.9 L1073.3,600.5 L1077.3,601.2 L1081.2,601.9 L1085.2,602.6 L1089.1,603.3 L1093.0,604.1 L1096.9,604.9 L1100.9,605.7 L1104.8,606.5 L1108.7,607.4 L1112.6,608.2 L1116.5,609.0 L1120.4,609.9 L1124.4,610.7 L1128.3,611.6 L1132.2,612.4 L1136.1,613.3 L1140.0,614.2 L1143.9,615.1 L1147.8,616.1 L1151.7,617.0 L1155.5,618.1 L1159.4,619.1 L1163.2,620.3 L1167.1,621.4 L1170.9,622.7 L1174.7,624.0 L1178.4,625.3 L1182.2,626.8 L1185.9,628.3 L1189.5,629.9 L1193.2,631.5 L1196.8,633.2 L1200.4,635.0 L1204.0,636.8 L1207.5,638.6 L1211.1,640.5 L1214.6,642.4 L1218.1,644.4 L1221.6,646.3 L1225.0,648.3 L1228.5,650.3 L1232.0,652.3 L1235.5,654.3 L1239.0,656.3 L1242.4,658.2 L1245.9,660.2 L1249.4,662.1 L1252.9,664.1 L1256.5,666.0 L1260.0,667.9 L1263.5,669.7 L1267.1,671.6 L1270.6,673.5 L1274.1,675.4 L1277.6,677.3 L1281.2,679.2 L1284.7,681.1 L1288.2,683.0 L1291.7,684.9 L1295.3,686.8 L1298.8,688.7 L1302.4,690.5 L1305.9,692.4 L1309.4,694.2 L1313.0,696.1 L1316.6,697.9 L1320.1,699.7 L1323.7,701.5 L1327.3,703.3 L1330.9,705.1 L1334.5,706.9 L1338.0,708.7 L1341.6,710.5 L1345.2,712.2 L1348.8,714.0 L1352.4,715.8 L1356.0,717.5 L1359.6,719.3 L1363.2,721.0 L1366.8,722.7 L1370.5,724.4 L1374.1,726.2 L1377.6,728.0 L1381.2,729.8 L1384.7,731.7 L1388.2,733.7 L1391.6,735.7 L1395.0,737.8 L1398.4,740.0 L1401.8,742.2 L1405.1,744.4 L1408.4,746.6 L1411.7,748.9 L1415.0,751.2 L1418.3,753.5 L1421.5,755.8 L1424.8,758.1 L1428.1,760.4 L1431.4,762.7 L1434.7,765.0 L1438.0,767.2 L1441.3,769.4 L1444.7,771.6 L1448.1,773.7 L1451.5,775.8 L1454.9,777.9 L1458.4,779.9 L1461.9,781.9 L1465.4,783.8 L1468.9,785.8 L1472.4,787.7 L1475.9,789.6 L1479.5,791.4 L1483.0,793.3 L1486.6,795.1 L1490.1,797.0 L1493.7,798.8 L1497.3,800.6 L1500.8,802.4 L1504.4,804.2 L1508.0,805.9 L1511.6,807.7 L1515.2,809.4 L1518.8,811.1 L1522.5,812.8 L1526.1,814.5 L1529.7,816.2 L1533.3,817.9 L1537.0,819.7 L1540.6,821.4 L1544.2,823.1 L1547.8,824.9 L1551.3,826.7 L1554.9,828.5 L1558.5,830.4 L1562.0,832.2 L1565.6,834.0 L1569.1,835.9 L1572.7,837.8 L1576.2,839.6 L1579.7,841.5 L1583.3,843.4 L1586.8,845.3 L1590.4,847.1 L1593.9,849.0 L1597.4,850.9 L1600.9,852.8 L1604.5,854.7 L1608.0,856.6" stroke="#ff9a22"/><path d="M202.8,200.5 L203.1,204.5 L203.4,208.5 L203.7,212.5 L204.0,216.5 L204.3,220.5 L204.6,224.5 L205.0,228.4 L205.3,232.4 L205.7,236.4 L206.1,240.4 L206.5,244.4 L207.0,248.4 L207.5,252.3 L208.0,256.3 L208.5,260.3 L209.0,264.2 L209.5,268.2 L210.0,272.2 L210.5,276.2 L211.0,280.1 L211.4,284.1 L211.8,288.1 L212.2,292.1 L212.6,296.1 L213.0,300.0 L213.4,304.0 L213.8,308.0 L214.1,312.0 L214.5,316.0 L214.9,320.0 L215.2,324.0 L215.6,328.0 L216.0,331.9 L216.4,335.9 L216.9,339.9 L217.3,343.9 L217.8,347.9 L218.2,351.8 L218.7,355.8 L219.2,359.8 L219.8,363.7 L220.3,367.7 L220.8,371.7 L221.4,375.6 L221.9,379.6 L222.5,383.6 L223.1,387.5 L223.7,391.5 L224.3,395.5 L224.9,399.4 L225.5,403.4 L226.1,407.3 L226.7,411.3 L227.3,415.3 L227.9,419.2 L228.5,423.2 L229.1,427.1 L229.7,431.1 L230.4,435.0 L231.0,439.0 L231.7,442.9 L232.3,446.9 L233.0,450.8 L233.6,454.8 L234.3,458.7 L235.0,462.7 L235.7,466.6 L236.3,470.6 L237.0,474.5 L237.7,478.4 L238.4,482.4 L239.1,486.3 L239.8,490.3 L240.5,494.2 L241.2,498.2 L241.9,502.1 L242.6,506.1 L243.3,510.0 L244.0,513.9 L244.7,517.9 L245.5,521.8 L246.2,525.7 L247.0,529.7 L247.8,533.6 L248.7,537.5 L249.6,541.4 L250.5,545.3 L251.5,549.2 L252.4,553.1 L253.5,556.9 L254.5,560.8 L255.6,564.6 L256.7,568.5 L257.8,572.3 L258.9,576.2 L260.0,580.0 L261.1,583.9 L262.2,587.8 L263.2,591.6 L264.3,595.5 L265.5,599.3 L266.6,603.1 L267.9,606.9 L269.3,610.7 L270.8,614.4 L272.4,618.0 L274.1,621.7 L275.9,625.2 L277.7,628.8 L279.6,632.3 L281.5,635.9 L283.3,639.4 L285.0,643.0 L286.7,646.7 L288.4,650.3 L290.0,654.0 L291.6,657.7 L293.1,661.4 L294.6,665.1 L296.1,668.8 L297.7,672.5 L299.3,676.1 L300.8,679.8 L302.5,683.5 L304.2,687.1 L305.9,690.7 L307.7,694.3 L309.6,697.8 L311.6,701.3 L313.6,704.8 L315.6,708.2 L317.7,711.6 L319.8,715.0 L322.0,718.4 L324.2,721.7 L326.5,725.0 L328.8,728.2 L331.2,731.4 L333.7,734.6 L336.3,737.7 L338.9,740.6 L341.7,743.5 L344.6,746.3 L347.6,748.9 L350.7,751.4 L353.9,753.8 L357.2,756.1 L360.6,758.3 L364.0,760.3 L367.4,762.3 L371.0,764.1 L374.7,765.5 L378.5,766.6 L382.4,767.3 L386.3,767.5 L390.3,767.3 L394.2,766.9 L398.2,766.3 L402.1,765.5 L406.0,764.7 L409.9,763.7 L413.8,762.7 L417.6,761.6 L421.5,760.5 L425.3,759.4 L429.2,758.4 L433.1,757.4 L437.0,756.5 L440.9,755.7 L444.8,754.8 L448.7,753.9 L452.6,753.0 L456.5,752.1 L460.4,751.1 L464.3,750.1 L468.1,749.0 L472.0,747.9 L475.8,746.8 L479.6,745.6 L483.5,744.5 L487.3,743.4 L491.2,742.3 L495.0,741.3 L498.9,740.3 L502.8,739.4 L506.7,738.6 L510.7,737.8 L514.6,737.0 L518.5,736.3 L522.5,735.7 L526.4,735.1 L530.4,734.5 L534.4,733.9 L538.3,733.4 L542.3,732.8 L546.3,732.3 L550.2,731.7 L554.2,731.2 L558.2,730.7 L562.1,730.2 L566.1,729.6 L570.1,729.1 L574.0,728.5 L578.0,728.0 L582.0,727.4 L585.9,726.8 L589.9,726.2 L593.8,725.5 L597.8,724.8 L601.7,724.1 L605.6,723.3 L609.6,722.5 L613.5,721.7 L617.4,720.9 L621.3,720.1 L625.2,719.2 L629.1,718.3 L633.0,717.3 L636.9,716.3 L640.7,715.2 L644.6,714.1 L648.4,713.0 L652.3,711.8 L656.1,710.6 L659.9,709.4 L663.7,708.2 L667.5,706.8 L671.2,705.5 L675.0,704.1 L678.7,702.6 L682.4,701.1 L686.1,699.5 L689.8,697.9 L693.4,696.2 L697.0,694.5 L700.6,692.7 L704.1,690.9 L707.7,689.0 L711.2,687.1 L714.7,685.2 L718.2,683.2 L721.7,681.2 L725.1,679.2 L728.5,677.1 L731.9,674.9 L735.2,672.7 L738.5,670.5 L741.8,668.1 L745.0,665.7 L748.1,663.3 L751.3,660.8 L754.4,658.3 L757.5,655.7 L760.6,653.2 L763.7,650.6 L766.7,648.0 L769.8,645.5 L772.9,642.9 L776.0,640.5 L779.2,638.0 L782.5,635.7 L785.7,633.4 L789.1,631.2 L792.4,629.0 L795.8,626.8 L799.2,624.7 L802.6,622.6 L806.0,620.5 L809.4,618.4 L812.9,616.4 L816.3,614.4 L819.8,612.4 L823.3,610.5 L826.9,608.6 L830.4,606.7 L833.8,604.7 L837.3,602.7 L840.8,600.6 L844.2,598.5 L847.5,596.4 L850.9,594.2 L854.2,592.0 L857.5,589.8 L860.9,587.5 L864.2,585.3 L867.5,583.0 L870.8,580.8 L874.1,578.5 L877.4,576.3 L880.8,574.1 L884.1,571.9 L887.5,569.8 L890.9,567.7 L894.4,565.6 L897.9,563.7 L901.4,561.8 L905.0,560.0 L908.6,558.3 L912.3,556.8 L916.0,555.3 L919.8,554.0 L923.6,552.8 L927.5,551.7 L931.3,550.8 L935.2,549.9 L939.2,549.1 L943.1,548.3 L947.0,547.6 L951.0,546.9 L954.9,546.2 L958.9,545.6 L962.8,545.0 L966.8,544.5 L970.8,544.1 L974.8,543.7 L978.8,543.3 L982.7,543.0 L986.7,542.8 L990.7,542.6 L994.7,542.5 L998.7,542.4 L1002.7,542.3 L1006.7,542.3 L1010.7,542.4 L1014.8,542.4 L1018.8,542.6 L1022.8,542.7 L1026.8,542.9 L1030.8,543.1 L1034.7,543.3 L1038.7,543.6 L1042.7,543.9 L1046.7,544.3 L1050.7,544.6 L1054.7,545.1 L1058.7,545.5 L1062.6,546.1 L1066.6,546.7 L1070.5,547.3 L1074.5,548.1 L1078.4,549.0 L1082.2,549.9 L1086.1,551.0 L1089.9,552.2 L1093.7,553.4 L1097.5,554.7 L1101.3,556.1 L1105.0,557.5 L1108.7,559.1 L1112.4,560.7 L1116.0,562.4 L1119.6,564.1 L1123.2,565.8 L1126.9,567.5 L1130.5,569.2 L1134.1,570.9 L1137.8,572.6 L1141.4,574.2 L1145.1,575.8 L1148.8,577.3 L1152.5,578.9 L1156.1,580.5 L1159.8,582.1 L1163.5,583.7 L1167.1,585.3 L1170.8,587.0 L1174.4,588.7 L1178.0,590.4 L1181.5,592.3 L1185.1,594.1 L1188.6,596.1 L1192.1,598.1 L1195.5,600.1 L1199.0,602.1 L1202.4,604.2 L1205.8,606.3 L1209.2,608.4 L1212.6,610.6 L1216.0,612.7 L1219.4,614.8 L1222.8,616.9 L1226.2,619.0 L1229.6,621.1 L1233.0,623.2 L1236.5,625.2 L1239.9,627.2 L1243.4,629.2 L1246.9,631.2 L1250.4,633.2 L1253.9,635.1 L1257.4,637.1 L1260.9,639.0 L1264.4,640.9 L1267.9,642.9 L1271.4,644.8 L1274.9,646.8 L1278.3,648.7 L1281.8,650.7 L1285.3,652.7 L1288.7,654.8 L1292.2,656.8 L1295.6,658.9 L1299.0,661.0 L1302.4,663.1 L1305.8,665.3 L1309.1,667.4 L1312.5,669.6 L1315.8,671.8 L1319.2,674.0 L1322.5,676.3 L1325.9,678.5 L1329.2,680.7 L1332.6,682.8 L1335.9,685.0 L1339.3,687.2 L1342.6,689.4 L1346.0,691.5 L1349.4,693.7 L1352.7,695.9 L1356.1,698.1 L1359.4,700.3 L1362.8,702.5 L1366.1,704.7 L1369.5,706.9 L1372.8,709.1 L1376.2,711.3 L1379.5,713.5 L1382.8,715.7 L1386.1,718.0 L1389.4,720.3 L1392.5,722.8 L1395.6,725.3 L1398.7,727.9 L1401.6,730.6 L1404.5,733.3 L1407.4,736.1 L1410.2,739.0 L1413.0,741.9 L1415.8,744.7 L1418.6,747.6 L1421.3,750.5 L1424.1,753.4 L1426.9,756.3 L1429.7,759.1 L1432.5,762.0 L1435.4,764.8 L1438.3,767.5 L1441.2,770.3 L1444.2,772.9 L1447.2,775.5 L1450.3,778.1 L1453.5,780.5 L1456.7,782.9 L1459.9,785.2 L1463.2,787.5 L1466.6,789.7 L1469.9,791.9 L1473.3,794.0 L1476.7,796.1 L1480.2,798.1 L1483.6,800.2 L1487.1,802.2 L1490.5,804.3 L1493.9,806.3 L1497.4,808.4 L1500.8,810.5 L1504.2,812.6 L1507.6,814.7 L1511.0,816.8 L1514.4,818.8 L1517.9,820.9 L1521.3,823.0 L1524.7,825.1 L1528.2,827.1 L1531.6,829.2 L1535.1,831.2 L1538.5,833.2 L1541.9,835.3 L1545.4,837.3 L1548.9,839.3 L1552.3,841.3 L1555.8,843.3 L1559.2,845.3 L1562.7,847.3 L1566.2,849.3 L1569.7,851.3 L1573.1,853.3 L1576.6,855.3 L1580.1,857.2 L1583.6,859.2 L1587.1,861.2 L1590.6,863.2 L1594.0,865.1 L1597.5,867.1 L1601.0,869.1 L1604.5,871.0 L1608.0,873.0" stroke="#ff9a22"/><path d="M208.9,210.3 L209.3,214.3 L209.7,218.3 L210.2,222.2 L210.6,226.2 L211.0,230.2 L211.4,234.2 L211.8,238.2 L212.2,242.1 L212.6,246.1 L213.0,250.1 L213.4,254.1 L213.8,258.1 L214.2,262.1 L214.6,266.0 L215.0,270.0 L215.4,274.0 L215.8,278.0 L216.2,282.0 L216.6,285.9 L217.1,289.9 L217.5,293.9 L217.9,297.9 L218.3,301.9 L218.8,305.8 L219.2,309.8 L219.6,313.8 L220.1,317.8 L220.5,321.8 L221.0,325.7 L221.5,329.7 L221.9,333.7 L222.4,337.7 L222.9,341.6 L223.4,345.6 L224.0,349.6 L224.5,353.5 L225.1,357.5 L225.6,361.4 L226.2,365.4 L226.8,369.4 L227.4,373.3 L228.0,377.3 L228.7,381.2 L229.3,385.2 L229.9,389.1 L230.6,393.1 L231.2,397.0 L231.9,401.0 L232.5,404.9 L233.2,408.9 L233.8,412.8 L234.5,416.8 L235.1,420.7 L235.8,424.7 L236.4,428.6 L237.0,432.6 L237.7,436.5 L238.3,440.5 L239.0,444.4 L239.6,448.4 L240.3,452.3 L240.9,456.3 L241.6,460.2 L242.2,464.2 L242.9,468.1 L243.6,472.1 L244.3,476.0 L245.1,479.9 L245.8,483.9 L246.6,487.8 L247.4,491.7 L248.2,495.6 L249.0,499.5 L249.9,503.5 L250.7,507.4 L251.6,511.3 L252.5,515.2 L253.4,519.1 L254.4,522.9 L255.4,526.8 L256.4,530.7 L257.4,534.6 L258.4,538.4 L259.5,542.3 L260.6,546.1 L261.7,550.0 L262.8,553.8 L264.0,557.6 L265.2,561.5 L266.5,565.3 L267.8,569.1 L269.1,572.8 L270.5,576.6 L271.9,580.3 L273.4,584.0 L274.9,587.7 L276.5,591.4 L278.1,595.1 L279.7,598.7 L281.4,602.4 L283.1,606.0 L284.8,609.6 L286.5,613.3 L288.2,616.9 L289.9,620.5 L291.6,624.1 L293.4,627.7 L295.1,631.3 L296.9,634.9 L298.7,638.4 L300.6,642.0 L302.4,645.5 L304.3,649.1 L306.3,652.6 L308.2,656.1 L310.2,659.5 L312.2,663.0 L314.2,666.5 L316.2,669.9 L318.3,673.4 L320.3,676.8 L322.4,680.2 L324.6,683.5 L326.9,686.8 L329.2,690.1 L331.7,693.2 L334.2,696.3 L336.9,699.2 L339.7,702.1 L342.7,704.8 L345.7,707.4 L348.8,710.0 L351.9,712.4 L355.2,714.7 L358.6,716.8 L362.0,718.8 L365.6,720.5 L369.3,721.9 L373.1,723.0 L377.0,723.8 L381.0,724.2 L384.9,724.2 L388.9,723.8 L392.8,723.3 L396.8,722.5 L400.6,721.6 L404.5,720.5 L408.3,719.4 L412.2,718.2 L416.0,717.0 L419.8,715.8 L423.6,714.6 L427.4,713.4 L431.2,712.2 L435.0,710.9 L438.8,709.5 L442.5,708.1 L446.3,706.7 L450.0,705.4 L453.8,704.1 L457.7,703.0 L461.5,702.0 L465.4,701.0 L469.3,700.2 L473.3,699.4 L477.2,698.7 L481.2,698.1 L485.1,697.4 L489.1,696.8 L493.0,696.2 L497.0,695.7 L501.0,695.1 L504.9,694.6 L508.9,694.2 L512.9,693.7 L516.8,693.2 L520.8,692.8 L524.8,692.4 L528.8,692.0 L532.8,691.7 L536.8,691.4 L540.8,691.1 L544.8,690.9 L548.8,690.8 L552.8,690.6 L556.8,690.5 L560.8,690.4 L564.8,690.3 L568.8,690.2 L572.8,690.0 L576.8,689.9 L580.8,689.7 L584.7,689.5 L588.7,689.2 L592.7,688.9 L596.7,688.5 L600.7,688.1 L604.7,687.6 L608.6,687.1 L612.6,686.6 L616.6,686.0 L620.5,685.4 L624.4,684.7 L628.4,683.9 L632.3,683.1 L636.2,682.1 L640.1,681.1 L643.9,680.1 L647.7,678.9 L651.5,677.7 L655.3,676.4 L659.1,675.0 L662.8,673.6 L666.5,672.1 L670.2,670.6 L673.9,669.0 L677.5,667.3 L681.2,665.6 L684.8,663.9 L688.4,662.1 L691.9,660.3 L695.5,658.5 L699.0,656.6 L702.5,654.6 L706.0,652.6 L709.4,650.6 L712.8,648.5 L716.2,646.4 L719.6,644.3 L723.0,642.1 L726.3,639.9 L729.6,637.6 L732.9,635.3 L736.1,632.9 L739.3,630.5 L742.3,627.9 L745.4,625.3 L748.4,622.7 L751.4,620.1 L754.4,617.4 L757.4,614.8 L760.4,612.1 L763.4,609.5 L766.4,606.8 L769.4,604.2 L772.5,601.6 L775.5,599.0 L778.6,596.5 L781.7,593.9 L784.8,591.4 L787.9,588.9 L791.1,586.4 L794.2,584.0 L797.4,581.5 L800.6,579.0 L803.7,576.6 L806.9,574.2 L810.1,571.8 L813.3,569.4 L816.5,567.0 L819.8,564.6 L823.0,562.3 L826.3,560.0 L829.6,557.7 L832.9,555.5 L836.2,553.2 L839.6,551.1 L843.0,549.0 L846.4,546.8 L849.8,544.8 L853.2,542.7 L856.6,540.6 L860.0,538.5 L863.4,536.4 L866.8,534.3 L870.2,532.1 L873.5,529.8 L876.8,527.5 L880.0,525.2 L883.2,522.7 L886.3,520.3 L889.4,517.8 L892.5,515.3 L895.7,512.8 L898.9,510.3 L902.1,508.0 L905.4,505.7 L908.7,503.6 L912.2,501.5 L915.7,499.6 L919.3,497.9 L922.9,496.2 L926.6,494.6 L930.3,493.1 L934.1,491.7 L937.8,490.4 L941.6,489.2 L945.5,488.0 L949.3,486.9 L953.2,486.0 L957.1,485.0 L961.0,484.2 L964.9,483.5 L968.9,482.8 L972.8,482.3 L976.8,481.8 L980.8,481.4 L984.8,481.0 L988.8,480.7 L992.8,480.5 L996.8,480.4 L1000.8,480.3 L1004.8,480.3 L1008.8,480.4 L1012.8,480.6 L1016.7,480.8 L1020.7,481.2 L1024.7,481.6 L1028.7,482.0 L1032.6,482.6 L1036.6,483.2 L1040.5,483.9 L1044.5,484.7 L1048.4,485.5 L1052.3,486.4 L1056.2,487.4 L1060.0,488.4 L1063.9,489.5 L1067.7,490.6 L1071.6,491.7 L1075.4,492.9 L1079.2,494.2 L1083.0,495.5 L1086.7,496.8 L1090.5,498.2 L1094.2,499.7 L1097.9,501.1 L1101.6,502.7 L1105.3,504.3 L1108.9,505.9 L1112.5,507.7 L1116.1,509.4 L1119.7,511.2 L1123.3,513.1 L1126.8,514.9 L1130.3,516.8 L1133.9,518.7 L1137.4,520.5 L1141.0,522.3 L1144.6,524.2 L1148.1,526.0 L1151.7,527.8 L1155.2,529.7 L1158.8,531.6 L1162.2,533.5 L1165.7,535.6 L1169.1,537.7 L1172.4,539.9 L1175.7,542.2 L1178.9,544.6 L1182.0,547.1 L1185.1,549.7 L1188.1,552.3 L1191.1,554.9 L1194.1,557.6 L1197.1,560.2 L1200.1,562.9 L1203.0,565.6 L1206.0,568.2 L1209.1,570.8 L1212.1,573.4 L1215.2,576.0 L1218.2,578.6 L1221.3,581.2 L1224.4,583.8 L1227.4,586.3 L1230.5,588.9 L1233.6,591.5 L1236.6,594.0 L1239.7,596.6 L1242.7,599.2 L1245.8,601.8 L1248.9,604.4 L1251.9,607.0 L1255.0,609.6 L1258.0,612.1 L1261.1,614.7 L1264.1,617.3 L1267.1,619.9 L1270.2,622.5 L1273.2,625.1 L1276.3,627.7 L1279.4,630.3 L1282.4,632.9 L1285.5,635.4 L1288.6,638.0 L1291.6,640.6 L1294.7,643.1 L1297.8,645.6 L1300.9,648.1 L1304.1,650.7 L1307.2,653.1 L1310.3,655.6 L1313.5,658.1 L1316.6,660.6 L1319.7,663.1 L1322.9,665.6 L1326.0,668.1 L1329.1,670.6 L1332.2,673.2 L1335.3,675.7 L1338.3,678.3 L1341.4,680.9 L1344.5,683.4 L1347.5,686.0 L1350.6,688.6 L1353.6,691.2 L1356.7,693.8 L1359.7,696.4 L1362.7,699.0 L1365.8,701.6 L1368.8,704.2 L1371.8,706.8 L1374.9,709.4 L1377.9,712.0 L1381.0,714.6 L1384.0,717.2 L1387.0,719.8 L1390.1,722.5 L1393.1,725.1 L1396.1,727.7 L1399.1,730.3 L1402.1,733.0 L1405.1,735.6 L1408.1,738.3 L1411.1,741.0 L1414.0,743.7 L1416.9,746.5 L1419.8,749.3 L1422.7,752.0 L1425.5,754.8 L1428.4,757.6 L1431.3,760.4 L1434.1,763.2 L1437.0,766.0 L1439.9,768.7 L1442.8,771.5 L1445.8,774.2 L1448.8,776.8 L1451.8,779.5 L1454.8,782.1 L1457.9,784.7 L1460.9,787.3 L1464.0,789.8 L1467.1,792.4 L1470.2,794.9 L1473.3,797.4 L1476.4,799.9 L1479.6,802.4 L1482.7,804.9 L1485.9,807.3 L1489.1,809.8 L1492.2,812.2 L1495.4,814.6 L1498.7,817.0 L1501.9,819.3 L1505.1,821.7 L1508.4,824.0 L1511.6,826.3 L1514.9,828.6 L1518.2,830.9 L1521.5,833.2 L1524.8,835.4 L1528.1,837.7 L1531.5,839.9 L1534.8,842.1 L1538.1,844.3 L1541.5,846.5 L1544.8,848.7 L1548.2,850.8 L1551.6,853.0 L1555.0,855.1 L1558.4,857.3 L1561.8,859.4 L1565.2,861.5 L1568.6,863.6 L1572.0,865.7 L1575.4,867.7 L1578.8,869.8 L1582.2,871.9 L1585.7,873.9 L1589.1,876.0 L1592.5,878.1 L1596.0,880.1 L1599.4,882.2 L1602.8,884.2 L1606.3,886.3 L1608.0,887.3" stroke="#ff9a22"/><path d="M214.9,227.7 L215.3,231.7 L215.6,235.7 L216.0,239.7 L216.4,243.6 L216.8,247.6 L217.2,251.6 L217.5,255.6 L217.9,259.6 L218.3,263.6 L218.7,267.6 L219.1,271.5 L219.5,275.5 L219.9,279.5 L220.4,283.5 L220.8,287.5 L221.2,291.4 L221.6,295.4 L222.0,299.4 L222.5,303.4 L222.9,307.4 L223.3,311.4 L223.7,315.3 L224.2,319.3 L224.6,323.3 L225.1,327.3 L225.6,331.2 L226.1,335.2 L226.6,339.2 L227.1,343.2 L227.6,347.1 L228.2,351.1 L228.8,355.0 L229.4,359.0 L230.0,363.0 L230.6,366.9 L231.2,370.9 L231.9,374.8 L232.6,378.8 L233.2,382.7 L233.9,386.7 L234.6,390.6 L235.3,394.5 L236.0,398.5 L236.8,402.4 L237.5,406.4 L238.2,410.3 L238.9,414.2 L239.7,418.2 L240.4,422.1 L241.1,426.0 L241.8,430.0 L242.6,433.9 L243.3,437.8 L244.0,441.8 L244.8,445.7 L245.5,449.7 L246.3,453.6 L247.0,457.5 L247.8,461.4 L248.6,465.4 L249.4,469.3 L250.2,473.2 L251.1,477.1 L251.9,481.0 L252.8,484.9 L253.8,488.8 L254.7,492.7 L255.7,496.6 L256.7,500.5 L257.7,504.3 L258.8,508.2 L259.8,512.1 L260.9,515.9 L262.1,519.7 L263.2,523.6 L264.4,527.4 L265.6,531.2 L266.8,535.0 L268.0,538.9 L269.3,542.7 L270.6,546.5 L271.9,550.2 L273.2,554.0 L274.5,557.8 L275.9,561.6 L277.2,565.3 L278.7,569.1 L280.1,572.8 L281.6,576.5 L283.1,580.2 L284.6,583.9 L286.2,587.6 L287.8,591.3 L289.4,594.9 L291.1,598.6 L292.8,602.2 L294.7,605.7 L296.5,609.3 L298.5,612.8 L300.5,616.3 L302.5,619.7 L304.5,623.1 L306.6,626.5 L308.8,629.9 L310.9,633.3 L313.1,636.7 L315.4,640.0 L317.6,643.3 L320.0,646.5 L322.4,649.7 L324.8,652.9 L327.4,656.0 L330.0,659.0 L332.8,661.9 L335.6,664.7 L338.6,667.3 L341.7,669.9 L344.8,672.3 L348.1,674.6 L351.5,676.8 L354.9,678.9 L358.4,680.8 L362.0,682.5 L365.7,683.8 L369.5,684.8 L373.4,685.3 L377.4,685.5 L381.3,685.2 L385.3,684.7 L389.2,684.0 L393.1,683.1 L397.0,682.1 L400.8,681.0 L404.7,679.9 L408.5,678.8 L412.4,677.6 L416.2,676.4 L420.0,675.2 L423.8,674.0 L427.6,672.6 L431.3,671.2 L435.1,669.8 L438.8,668.4 L442.5,666.9 L446.3,665.5 L450.1,664.2 L453.9,663.0 L457.7,661.9 L461.6,660.9 L465.5,660.1 L469.4,659.2 L473.3,658.5 L477.3,657.8 L481.2,657.1 L485.2,656.5 L489.2,655.9 L493.1,655.4 L497.1,654.9 L501.1,654.5 L505.0,654.0 L509.0,653.6 L513.0,653.3 L517.0,652.9 L521.0,652.6 L525.0,652.4 L529.0,652.2 L533.0,652.0 L537.0,652.0 L541.0,652.0 L545.0,652.0 L549.0,652.1 L553.0,652.3 L557.0,652.5 L561.0,652.7 L565.0,652.9 L569.0,653.1 L573.0,653.3 L577.0,653.4 L581.0,653.5 L585.0,653.6 L589.0,653.5 L593.0,653.3 L597.0,653.1 L601.0,652.7 L604.9,652.2 L608.9,651.7 L612.9,651.1 L616.8,650.4 L620.7,649.7 L624.6,648.8 L628.5,647.9 L632.4,646.9 L636.3,645.9 L640.1,644.7 L643.9,643.5 L647.7,642.2 L651.5,640.8 L655.2,639.4 L658.9,637.9 L662.6,636.3 L666.2,634.7 L669.9,633.0 L673.5,631.3 L677.0,629.5 L680.6,627.6 L684.1,625.7 L687.6,623.7 L691.1,621.7 L694.5,619.7 L697.9,617.6 L701.3,615.4 L704.6,613.2 L707.9,611.0 L711.2,608.7 L714.5,606.3 L717.7,604.0 L720.9,601.6 L724.1,599.1 L727.2,596.7 L730.4,594.2 L733.5,591.6 L736.5,589.1 L739.6,586.5 L742.6,583.8 L745.5,581.1 L748.5,578.4 L751.4,575.7 L754.3,572.9 L757.1,570.1 L760.0,567.3 L762.9,564.5 L765.7,561.7 L768.5,558.9 L771.4,556.0 L774.2,553.2 L777.1,550.4 L779.9,547.6 L782.7,544.7 L785.6,541.9 L788.4,539.0 L791.1,536.2 L793.9,533.3 L796.7,530.4 L799.5,527.6 L802.3,524.7 L805.2,521.9 L808.1,519.1 L811.0,516.4 L814.0,513.8 L817.1,511.2 L820.2,508.7 L823.3,506.2 L826.5,503.8 L829.7,501.4 L832.9,499.0 L836.1,496.6 L839.3,494.1 L842.4,491.6 L845.5,489.1 L848.5,486.5 L851.6,483.9 L854.7,481.4 L857.9,479.0 L861.1,476.5 L864.3,474.2 L867.6,471.8 L870.8,469.5 L874.1,467.2 L877.4,464.9 L880.7,462.7 L884.0,460.4 L887.3,458.2 L890.7,456.0 L894.0,453.8 L897.4,451.6 L900.7,449.4 L904.1,447.3 L907.5,445.1 L910.9,443.0 L914.3,440.9 L917.8,438.9 L921.3,437.0 L924.8,435.1 L928.4,433.3 L932.0,431.6 L935.7,430.0 L939.4,428.5 L943.1,427.0 L946.8,425.6 L950.6,424.3 L954.4,423.1 L958.3,422.0 L962.1,420.9 L966.0,420.0 L969.9,419.1 L973.9,418.4 L977.8,417.7 L981.8,417.2 L985.7,416.7 L989.7,416.3 L993.7,416.0 L997.7,415.7 L1001.7,415.6 L1005.7,415.5 L1009.7,415.6 L1013.7,415.7 L1017.7,415.8 L1021.7,416.1 L1025.7,416.5 L1029.7,417.0 L1033.6,417.5 L1037.6,418.2 L1041.5,419.0 L1045.4,419.8 L1049.3,420.8 L1053.1,421.9 L1057.0,423.0 L1060.8,424.2 L1064.6,425.5 L1068.3,426.9 L1072.1,428.3 L1075.8,429.8 L1079.5,431.4 L1083.1,433.0 L1086.7,434.8 L1090.2,436.6 L1093.8,438.5 L1097.3,440.4 L1100.8,442.3 L1104.3,444.3 L1107.8,446.2 L1111.3,448.2 L1114.8,450.2 L1118.2,452.2 L1121.6,454.3 L1125.1,456.4 L1128.4,458.5 L1131.8,460.7 L1135.1,462.9 L1138.4,465.2 L1141.6,467.6 L1144.9,469.9 L1148.0,472.4 L1151.2,474.9 L1154.3,477.4 L1157.4,479.9 L1160.5,482.4 L1163.6,485.0 L1166.6,487.6 L1169.7,490.2 L1172.7,492.8 L1175.8,495.3 L1178.9,497.9 L1181.9,500.5 L1184.9,503.1 L1188.0,505.8 L1191.0,508.4 L1194.0,511.1 L1196.9,513.7 L1199.9,516.5 L1202.8,519.2 L1205.6,522.0 L1208.5,524.9 L1211.2,527.7 L1214.0,530.7 L1216.6,533.6 L1219.3,536.7 L1221.9,539.7 L1224.5,542.7 L1227.0,545.8 L1229.6,548.9 L1232.1,552.0 L1234.7,555.1 L1237.2,558.2 L1239.8,561.3 L1242.4,564.3 L1245.0,567.3 L1247.6,570.4 L1250.2,573.4 L1252.9,576.4 L1255.5,579.4 L1258.2,582.4 L1260.9,585.3 L1263.6,588.3 L1266.3,591.3 L1269.0,594.2 L1271.7,597.1 L1274.5,600.0 L1277.3,602.9 L1280.1,605.8 L1282.9,608.6 L1285.7,611.4 L1288.6,614.2 L1291.5,617.0 L1294.3,619.8 L1297.2,622.6 L1300.0,625.4 L1302.9,628.2 L1305.7,631.1 L1308.5,634.0 L1311.3,636.8 L1314.0,639.8 L1316.7,642.7 L1319.4,645.7 L1322.0,648.7 L1324.6,651.7 L1327.2,654.8 L1329.8,657.8 L1332.4,660.9 L1335.0,663.9 L1337.6,667.0 L1340.2,670.0 L1342.8,673.1 L1345.5,676.1 L1348.1,679.1 L1350.8,682.0 L1353.5,684.9 L1356.3,687.8 L1359.1,690.7 L1361.9,693.6 L1364.7,696.4 L1367.6,699.2 L1370.4,702.0 L1373.3,704.8 L1376.2,707.6 L1379.1,710.4 L1382.0,713.1 L1384.9,715.9 L1387.8,718.6 L1390.7,721.3 L1393.7,724.1 L1396.6,726.8 L1399.6,729.5 L1402.5,732.1 L1405.5,734.8 L1408.5,737.5 L1411.4,740.2 L1414.4,742.9 L1417.4,745.6 L1420.3,748.3 L1423.3,751.0 L1426.3,753.7 L1429.2,756.4 L1432.2,759.0 L1435.2,761.7 L1438.1,764.4 L1441.1,767.1 L1444.1,769.8 L1447.0,772.5 L1449.9,775.2 L1452.8,778.0 L1455.7,780.8 L1458.6,783.6 L1461.4,786.4 L1464.3,789.2 L1467.1,792.1 L1469.9,794.9 L1472.6,797.8 L1475.4,800.7 L1478.2,803.6 L1481.0,806.4 L1483.8,809.3 L1486.6,812.1 L1489.5,814.9 L1492.4,817.7 L1495.2,820.5 L1498.2,823.2 L1501.1,825.9 L1504.1,828.6 L1507.1,831.3 L1510.1,833.9 L1513.2,836.5 L1516.2,839.1 L1519.3,841.6 L1522.4,844.2 L1525.5,846.7 L1528.6,849.2 L1531.8,851.7 L1534.9,854.2 L1538.0,856.7 L1541.2,859.1 L1544.4,861.6 L1547.5,864.1 L1550.7,866.5 L1553.9,868.9 L1557.1,871.3 L1560.3,873.8 L1563.5,876.1 L1566.7,878.5 L1569.9,880.9 L1573.1,883.3 L1576.4,885.6 L1579.6,888.0 L1582.8,890.4 L1586.1,892.7 L1589.3,895.1 L1592.6,897.4 L1595.8,899.7 L1599.1,902.1 L1602.3,904.4 L1605.6,906.8 L1608.0,908.5" stroke="#ff9a22"/><path d="M215.0,188.0 L215.8,191.9 L216.5,195.9 L217.2,199.8 L217.9,203.7 L218.6,207.7 L219.1,211.7 L219.6,215.6 L220.1,219.6 L220.4,223.6 L220.8,227.6 L221.1,231.6 L221.4,235.6 L221.6,239.6 L221.8,243.6 L222.1,247.5 L222.3,251.5 L222.5,255.5 L222.8,259.5 L223.0,263.5 L223.3,267.5 L223.7,271.5 L224.0,275.5 L224.4,279.5 L224.8,283.5 L225.3,287.4 L225.7,291.4 L226.2,295.4 L226.7,299.4 L227.2,303.3 L227.7,307.3 L228.2,311.3 L228.7,315.3 L229.2,319.2 L229.7,323.2 L230.2,327.2 L230.8,331.1 L231.3,335.1 L231.8,339.1 L232.4,343.0 L232.9,347.0 L233.5,351.0 L234.1,354.9 L234.7,358.9 L235.3,362.8 L235.9,366.8 L236.5,370.7 L237.1,374.7 L237.8,378.6 L238.5,382.6 L239.2,386.5 L239.9,390.5 L240.7,394.4 L241.4,398.3 L242.2,402.3 L243.0,406.2 L243.8,410.1 L244.6,414.0 L245.4,417.9 L246.3,421.9 L247.1,425.8 L247.9,429.7 L248.7,433.6 L249.5,437.5 L250.3,441.5 L251.0,445.4 L251.8,449.3 L252.5,453.3 L253.2,457.2 L253.9,461.1 L254.6,465.1 L255.3,469.0 L256.1,473.0 L256.8,476.9 L257.6,480.8 L258.4,484.7 L259.3,488.6 L260.2,492.5 L261.1,496.4 L262.2,500.3 L263.3,504.1 L264.4,508.0 L265.6,511.8 L266.9,515.6 L268.2,519.4 L269.6,523.1 L271.0,526.9 L272.5,530.6 L274.0,534.3 L275.6,538.0 L277.2,541.6 L278.9,545.2 L280.7,548.8 L282.6,552.4 L284.5,555.9 L286.4,559.4 L288.3,562.9 L290.2,566.4 L292.1,569.9 L294.1,573.5 L296.0,577.0 L298.0,580.5 L299.9,583.9 L301.8,587.4 L303.8,591.0 L305.7,594.5 L307.6,598.0 L309.6,601.5 L311.7,604.9 L313.8,608.2 L316.1,611.5 L318.6,614.7 L321.1,617.7 L323.8,620.7 L326.5,623.7 L329.3,626.5 L332.1,629.4 L334.9,632.2 L337.8,635.0 L340.7,637.8 L343.7,640.5 L346.7,643.1 L349.8,645.6 L353.0,648.0 L356.3,650.1 L359.8,651.9 L363.5,653.3 L367.3,654.0 L371.2,654.1 L375.1,653.8 L379.0,653.1 L382.9,652.2 L386.8,651.3 L390.7,650.3 L394.6,649.4 L398.5,648.3 L402.3,647.3 L406.2,646.2 L410.0,645.0 L413.8,643.8 L417.6,642.5 L421.3,641.1 L425.1,639.7 L428.8,638.1 L432.5,636.6 L436.1,635.0 L439.8,633.5 L443.5,631.9 L447.2,630.4 L451.0,629.0 L454.8,627.7 L458.6,626.5 L462.4,625.4 L466.3,624.3 L470.2,623.4 L474.1,622.5 L478.0,621.7 L481.9,621.0 L485.9,620.3 L489.8,619.7 L493.8,619.2 L497.8,618.7 L501.7,618.3 L505.7,618.0 L509.7,617.8 L513.7,617.6 L517.7,617.6 L521.7,617.6 L525.7,617.7 L529.7,617.8 L533.7,618.0 L537.7,618.2 L541.7,618.5 L545.7,618.7 L549.7,618.9 L553.7,619.2 L557.7,619.6 L561.7,619.9 L565.7,620.4 L569.6,620.8 L573.6,621.2 L577.6,621.6 L581.6,622.0 L585.6,622.2 L589.6,622.4 L593.6,622.4 L597.6,622.3 L601.6,622.0 L605.5,621.7 L609.5,621.2 L613.5,620.7 L617.4,620.0 L621.4,619.3 L625.3,618.5 L629.2,617.7 L633.1,616.8 L637.0,615.8 L640.9,614.9 L644.7,613.9 L648.6,612.8 L652.5,611.7 L656.3,610.6 L660.1,609.5 L663.9,608.2 L667.7,606.9 L671.5,605.6 L675.2,604.1 L678.9,602.6 L682.6,601.0 L686.2,599.3 L689.7,597.4 L693.3,595.5 L696.7,593.5 L700.2,591.5 L703.5,589.3 L706.9,587.1 L710.2,584.8 L713.4,582.5 L716.6,580.1 L719.8,577.7 L723.0,575.2 L726.1,572.7 L729.2,570.2 L732.2,567.6 L735.2,565.0 L738.2,562.3 L741.1,559.6 L744.0,556.8 L746.9,554.0 L749.7,551.2 L752.5,548.3 L755.3,545.4 L758.0,542.5 L760.7,539.5 L763.4,536.6 L766.1,533.6 L768.8,530.6 L771.4,527.6 L774.1,524.6 L776.7,521.6 L779.2,518.5 L781.8,515.4 L784.3,512.3 L786.7,509.1 L789.1,505.9 L791.4,502.6 L793.8,499.5 L796.3,496.3 L798.9,493.2 L801.6,490.3 L804.3,487.4 L807.2,484.6 L810.1,481.9 L813.1,479.1 L816.0,476.4 L818.9,473.7 L821.9,471.0 L824.8,468.2 L827.7,465.5 L830.6,462.7 L833.5,460.0 L836.4,457.2 L839.3,454.4 L842.2,451.7 L845.1,448.9 L848.0,446.2 L850.9,443.4 L853.8,440.7 L856.8,438.0 L859.7,435.3 L862.6,432.5 L865.6,429.8 L868.5,427.1 L871.4,424.3 L874.3,421.6 L877.3,418.9 L880.2,416.2 L883.2,413.5 L886.2,410.9 L889.3,408.3 L892.4,405.8 L895.6,403.3 L898.8,401.0 L902.1,398.8 L905.5,396.7 L909.0,394.7 L912.5,392.8 L916.1,391.1 L919.7,389.3 L923.4,387.7 L927.0,386.0 L930.7,384.4 L934.3,382.8 L938.0,381.2 L941.6,379.5 L945.3,377.9 L948.9,376.2 L952.6,374.6 L956.3,373.1 L960.0,371.6 L963.8,370.2 L967.6,369.0 L971.4,367.9 L975.3,366.9 L979.2,366.0 L983.1,365.3 L987.1,364.8 L991.1,364.3 L995.0,364.0 L999.0,363.8 L1003.0,363.7 L1007.0,363.8 L1011.0,364.0 L1015.0,364.4 L1019.0,364.9 L1022.9,365.5 L1026.8,366.3 L1030.7,367.1 L1034.6,368.1 L1038.5,369.1 L1042.4,370.2 L1046.2,371.3 L1050.0,372.5 L1053.8,373.8 L1057.6,375.2 L1061.3,376.6 L1065.0,378.1 L1068.7,379.6 L1072.4,381.2 L1076.0,382.8 L1079.7,384.5 L1083.3,386.2 L1086.8,388.1 L1090.3,390.0 L1093.8,391.9 L1097.3,393.9 L1100.8,395.9 L1104.3,397.8 L1107.9,399.6 L1111.4,401.5 L1115.0,403.3 L1118.5,405.2 L1122.0,407.1 L1125.5,409.1 L1128.9,411.3 L1132.2,413.5 L1135.4,415.9 L1138.5,418.4 L1141.5,421.1 L1144.4,423.8 L1147.2,426.7 L1149.9,429.6 L1152.6,432.6 L1155.2,435.6 L1157.8,438.6 L1160.4,441.7 L1162.9,444.8 L1165.5,447.8 L1168.1,450.9 L1170.7,453.9 L1173.3,457.0 L1176.0,460.0 L1178.6,463.0 L1181.2,466.0 L1183.9,469.0 L1186.5,472.0 L1189.1,475.0 L1191.8,478.1 L1194.4,481.1 L1197.0,484.1 L1199.6,487.1 L1202.2,490.2 L1204.9,493.2 L1207.5,496.2 L1210.1,499.2 L1212.7,502.3 L1215.3,505.3 L1218.0,508.3 L1220.6,511.4 L1223.2,514.4 L1225.8,517.4 L1228.4,520.4 L1231.0,523.5 L1233.7,526.5 L1236.3,529.5 L1238.9,532.5 L1241.6,535.5 L1244.2,538.5 L1246.9,541.5 L1249.6,544.5 L1252.2,547.5 L1254.9,550.4 L1257.6,553.4 L1260.3,556.3 L1263.0,559.3 L1265.8,562.2 L1268.5,565.2 L1271.2,568.1 L1273.9,571.1 L1276.6,574.0 L1279.3,577.0 L1282.0,580.0 L1284.6,582.9 L1287.3,585.9 L1290.0,588.9 L1292.6,591.9 L1295.3,594.9 L1297.9,597.9 L1300.6,600.9 L1303.2,603.9 L1305.9,606.9 L1308.5,609.9 L1311.1,613.0 L1313.7,616.0 L1316.3,619.1 L1318.9,622.1 L1321.4,625.2 L1324.0,628.3 L1326.6,631.3 L1329.1,634.4 L1331.7,637.5 L1334.2,640.6 L1336.8,643.7 L1339.3,646.8 L1341.9,649.8 L1344.5,652.9 L1347.0,656.0 L1349.6,659.0 L1352.2,662.1 L1354.8,665.1 L1357.4,668.2 L1359.9,671.3 L1362.5,674.4 L1365.0,677.5 L1367.5,680.6 L1370.0,683.8 L1372.4,686.9 L1374.8,690.1 L1377.1,693.4 L1379.5,696.6 L1381.8,699.9 L1384.1,703.2 L1386.3,706.5 L1388.6,709.8 L1390.9,713.1 L1393.1,716.4 L1395.4,719.7 L1397.7,723.0 L1400.0,726.2 L1402.4,729.5 L1404.7,732.7 L1407.2,735.9 L1409.6,739.1 L1412.1,742.2 L1414.7,745.3 L1417.2,748.3 L1419.9,751.3 L1422.5,754.3 L1425.2,757.3 L1427.9,760.3 L1430.6,763.2 L1433.3,766.2 L1435.9,769.2 L1438.6,772.2 L1441.3,775.1 L1443.9,778.1 L1446.6,781.1 L1449.3,784.1 L1451.9,787.1 L1454.6,790.1 L1457.2,793.1 L1459.9,796.1 L1462.5,799.1 L1465.1,802.1 L1467.8,805.2 L1470.4,808.2 L1473.0,811.2 L1475.6,814.3 L1478.2,817.3 L1480.8,820.3 L1483.4,823.4 L1486.0,826.4 L1488.6,829.5 L1491.2,832.6 L1493.7,835.6 L1496.3,838.7 L1498.8,841.8 L1501.4,844.9 L1503.9,848.0 L1506.4,851.2 L1508.8,854.3 L1511.3,857.4 L1513.9,860.5 L1516.5,863.6 L1519.1,866.6 L1521.8,869.6 L1524.5,872.5 L1527.4,875.3 L1530.3,878.1 L1533.2,880.8 L1536.2,883.4 L1539.2,886.0 L1542.3,888.5 L1545.5,891.0 L1548.7,893.4 L1552.0,895.7 L1555.3,897.9 L1558.7,900.0 L1562.2,902.0 L1565.7,904.0 L1569.2,905.8 L1572.8,907.6 L1576.4,909.3 L1580.1,910.9 L1583.7,912.5 L1587.4,914.1 L1591.1,915.6 L1594.9,917.0 L1598.6,918.4 L1602.4,919.8 L1606.1,921.2 L1608.0,921.9" stroke="#9a9a23"/><path d="M220.4,175.0 L220.6,179.0 L220.7,183.0 L220.9,187.0 L221.1,191.0 L221.3,195.0 L221.4,199.0 L221.6,203.0 L221.8,207.0 L222.0,211.0 L222.1,215.0 L222.3,219.0 L222.6,223.0 L222.8,227.0 L223.1,231.0 L223.5,235.0 L223.9,238.9 L224.3,242.9 L224.8,246.9 L225.2,250.9 L225.7,254.9 L226.2,258.8 L226.6,262.8 L227.1,266.8 L227.6,270.8 L228.0,274.7 L228.4,278.7 L228.9,282.7 L229.3,286.7 L229.7,290.7 L230.2,294.6 L230.6,298.6 L231.1,302.6 L231.6,306.6 L232.1,310.5 L232.6,314.5 L233.1,318.5 L233.6,322.5 L234.1,326.4 L234.6,330.4 L235.1,334.4 L235.7,338.3 L236.2,342.3 L236.8,346.3 L237.3,350.2 L237.9,354.2 L238.5,358.2 L239.1,362.1 L239.7,366.1 L240.3,370.0 L241.0,374.0 L241.7,377.9 L242.4,381.9 L243.1,385.8 L243.9,389.7 L244.6,393.7 L245.4,397.6 L246.3,401.5 L247.1,405.4 L248.0,409.3 L248.8,413.2 L249.7,417.1 L250.6,421.0 L251.5,424.9 L252.4,428.8 L253.3,432.7 L254.2,436.6 L255.1,440.5 L256.0,444.4 L256.9,448.3 L257.8,452.2 L258.7,456.1 L259.6,460.1 L260.5,464.0 L261.4,467.9 L262.3,471.7 L263.3,475.6 L264.2,479.5 L265.2,483.4 L266.3,487.3 L267.4,491.1 L268.5,494.9 L269.7,498.8 L271.0,502.6 L272.3,506.3 L273.7,510.1 L275.1,513.8 L276.6,517.5 L278.2,521.2 L279.7,524.9 L281.3,528.6 L282.9,532.2 L284.6,535.9 L286.2,539.6 L287.8,543.2 L289.5,546.9 L291.1,550.5 L292.9,554.1 L294.7,557.7 L296.6,561.2 L298.7,564.6 L301.0,567.9 L303.3,571.1 L305.8,574.3 L308.2,577.5 L310.6,580.6 L313.0,583.9 L315.4,587.1 L317.7,590.3 L320.1,593.5 L322.7,596.6 L325.3,599.6 L328.1,602.4 L331.0,605.2 L334.0,607.8 L337.1,610.3 L340.4,612.7 L343.7,614.9 L347.2,616.8 L350.7,618.6 L354.4,620.2 L358.1,621.5 L362.0,622.5 L365.9,623.1 L369.8,623.2 L373.7,622.9 L377.7,622.2 L381.6,621.4 L385.5,620.6 L389.4,619.8 L393.4,619.1 L397.3,618.6 L401.3,618.1 L405.3,617.5 L409.2,616.9 L413.1,616.0 L416.9,614.8 L420.6,613.4 L424.2,611.6 L427.7,609.7 L431.1,607.6 L434.4,605.5 L437.8,603.3 L441.1,601.0 L444.5,598.9 L447.9,596.8 L451.4,594.8 L454.9,593.0 L458.6,591.5 L462.3,590.1 L466.1,588.9 L470.0,587.9 L473.9,587.0 L477.8,586.3 L481.8,585.7 L485.8,585.2 L489.7,584.8 L493.7,584.4 L497.7,584.1 L501.7,583.9 L505.7,583.8 L509.7,583.7 L513.7,583.8 L517.7,583.9 L521.7,584.1 L525.7,584.4 L529.7,584.8 L533.7,585.2 L537.7,585.6 L541.6,586.1 L545.6,586.5 L549.6,587.0 L553.6,587.5 L557.5,588.0 L561.5,588.6 L565.4,589.3 L569.4,590.0 L573.3,590.7 L577.3,591.3 L581.2,591.8 L585.2,592.3 L589.2,592.5 L593.2,592.6 L597.2,592.6 L601.2,592.3 L605.1,591.9 L609.1,591.4 L613.1,590.7 L617.0,590.0 L620.9,589.2 L624.8,588.3 L628.7,587.4 L632.6,586.4 L636.4,585.4 L640.3,584.3 L644.2,583.2 L648.0,582.0 L651.8,580.9 L655.7,579.7 L659.5,578.5 L663.3,577.2 L667.0,575.9 L670.8,574.5 L674.5,573.0 L678.2,571.4 L681.8,569.7 L685.3,567.9 L688.9,566.0 L692.3,564.0 L695.7,561.9 L699.1,559.7 L702.4,557.5 L705.7,555.2 L709.0,552.9 L712.2,550.5 L715.4,548.1 L718.5,545.6 L721.6,543.1 L724.6,540.4 L727.6,537.8 L730.6,535.1 L733.4,532.3 L736.2,529.4 L738.9,526.5 L741.5,523.4 L744.1,520.3 L746.6,517.2 L749.0,514.0 L751.4,510.8 L753.8,507.6 L756.1,504.4 L758.5,501.1 L760.8,497.9 L763.2,494.6 L765.5,491.4 L768.0,488.2 L770.5,485.1 L773.0,482.0 L775.7,479.0 L778.4,476.1 L781.2,473.2 L784.0,470.4 L786.9,467.6 L789.8,464.9 L792.7,462.1 L795.6,459.3 L798.4,456.5 L801.2,453.6 L803.9,450.7 L806.6,447.8 L809.3,444.8 L812.0,441.8 L814.6,438.8 L817.3,435.8 L820.0,432.8 L822.7,429.9 L825.3,426.9 L828.0,423.9 L830.7,420.9 L833.4,418.0 L836.1,415.0 L838.8,412.0 L841.5,409.1 L844.2,406.2 L846.9,403.2 L849.7,400.4 L852.5,397.5 L855.3,394.6 L858.2,391.8 L861.1,389.1 L864.0,386.3 L866.9,383.6 L869.9,380.9 L872.9,378.3 L875.9,375.6 L878.9,373.0 L882.0,370.4 L885.1,367.9 L888.2,365.4 L891.4,362.9 L894.5,360.5 L897.8,358.1 L901.0,355.8 L904.3,353.5 L907.6,351.3 L911.0,349.1 L914.4,347.0 L917.8,344.9 L921.3,342.9 L924.8,340.9 L928.3,339.0 L931.8,337.1 L935.3,335.2 L938.8,333.3 L942.4,331.5 L945.9,329.6 L949.5,327.8 L953.1,326.0 L956.7,324.4 L960.4,322.8 L964.1,321.3 L967.9,319.9 L971.7,318.7 L975.5,317.6 L979.4,316.6 L983.3,315.8 L987.2,315.0 L991.2,314.3 L995.1,313.8 L999.1,313.3 L1003.1,312.9 L1007.1,312.7 L1011.1,312.7 L1015.1,312.9 L1019.0,313.3 L1022.9,313.9 L1026.8,314.9 L1030.6,316.1 L1034.4,317.4 L1038.1,318.9 L1041.8,320.4 L1045.5,321.8 L1049.3,323.2 L1053.0,324.6 L1056.8,326.0 L1060.6,327.4 L1064.3,328.8 L1068.0,330.3 L1071.7,331.8 L1075.4,333.4 L1079.0,335.1 L1082.6,336.8 L1086.2,338.6 L1089.8,340.4 L1093.3,342.3 L1096.8,344.2 L1100.3,346.2 L1103.7,348.3 L1107.1,350.4 L1110.5,352.6 L1113.7,354.9 L1116.9,357.4 L1119.9,359.9 L1122.8,362.7 L1125.6,365.5 L1128.3,368.5 L1130.9,371.5 L1133.5,374.6 L1136.2,377.6 L1138.8,380.6 L1141.6,383.5 L1144.3,386.4 L1147.1,389.3 L1149.9,392.1 L1152.7,395.0 L1155.5,397.9 L1158.3,400.7 L1161.0,403.6 L1163.8,406.5 L1166.5,409.5 L1169.2,412.4 L1171.9,415.4 L1174.5,418.4 L1177.1,421.5 L1179.7,424.5 L1182.2,427.6 L1184.8,430.7 L1187.3,433.8 L1189.8,437.0 L1192.3,440.1 L1194.8,443.2 L1197.2,446.4 L1199.7,449.6 L1202.1,452.7 L1204.6,455.9 L1207.0,459.1 L1209.4,462.2 L1211.9,465.4 L1214.3,468.6 L1216.7,471.8 L1219.1,475.0 L1221.5,478.2 L1223.9,481.4 L1226.3,484.7 L1228.6,487.9 L1231.0,491.1 L1233.4,494.3 L1235.7,497.6 L1238.1,500.8 L1240.4,504.0 L1242.8,507.3 L1245.2,510.5 L1247.5,513.8 L1249.9,517.0 L1252.2,520.2 L1254.6,523.5 L1257.0,526.7 L1259.3,529.9 L1261.7,533.2 L1264.0,536.4 L1266.4,539.7 L1268.7,542.9 L1271.0,546.2 L1273.3,549.5 L1275.6,552.7 L1277.9,556.0 L1280.1,559.3 L1282.4,562.7 L1284.5,566.0 L1286.7,569.4 L1288.8,572.8 L1290.9,576.2 L1292.9,579.7 L1295.0,583.1 L1297.0,586.5 L1299.1,589.9 L1301.3,593.3 L1303.5,596.7 L1305.7,600.0 L1308.0,603.2 L1310.4,606.5 L1312.8,609.6 L1315.3,612.8 L1317.8,615.9 L1320.4,619.0 L1323.0,622.0 L1325.6,625.1 L1328.2,628.1 L1330.8,631.1 L1333.5,634.1 L1336.1,637.1 L1338.8,640.1 L1341.4,643.1 L1344.1,646.1 L1346.8,649.1 L1349.4,652.1 L1352.1,655.1 L1354.8,658.1 L1357.4,661.1 L1360.0,664.1 L1362.6,667.1 L1365.2,670.2 L1367.8,673.2 L1370.4,676.3 L1372.9,679.4 L1375.3,682.6 L1377.8,685.8 L1380.2,689.0 L1382.5,692.2 L1384.8,695.5 L1387.1,698.8 L1389.3,702.1 L1391.6,705.4 L1393.8,708.8 L1396.0,712.1 L1398.2,715.5 L1400.4,718.8 L1402.6,722.1 L1404.8,725.5 L1407.1,728.8 L1409.4,732.0 L1411.8,735.3 L1414.2,738.5 L1416.6,741.6 L1419.2,744.7 L1421.7,747.8 L1424.3,750.8 L1427.0,753.8 L1429.7,756.8 L1432.4,759.7 L1435.1,762.7 L1437.8,765.7 L1440.4,768.6 L1443.1,771.6 L1445.8,774.6 L1448.4,777.6 L1451.1,780.6 L1453.8,783.6 L1456.4,786.6 L1459.1,789.6 L1461.7,792.6 L1464.4,795.6 L1467.0,798.6 L1469.7,801.6 L1472.3,804.6 L1474.9,807.6 L1477.5,810.7 L1480.1,813.7 L1482.7,816.7 L1485.3,819.8 L1487.9,822.8 L1490.5,825.9 L1493.1,828.9 L1495.7,832.0 L1498.3,835.1 L1500.8,838.1 L1503.4,841.2 L1505.9,844.3 L1508.5,847.4 L1511.0,850.5 L1513.5,853.6 L1516.0,856.7 L1518.6,859.8 L1521.1,862.9 L1523.7,866.0 L1526.4,869.0 L1529.0,872.0 L1531.7,874.9 L1534.5,877.8 L1537.2,880.7 L1540.0,883.6 L1542.8,886.5 L1545.7,889.3 L1548.6,892.0 L1551.5,894.7 L1554.5,897.4 L1557.6,899.9 L1560.8,902.4 L1564.0,904.7 L1567.3,907.0 L1570.6,909.2 L1574.0,911.3 L1577.5,913.4 L1580.9,915.5 L1584.3,917.6 L1587.7,919.7 L1591.1,921.8 L1594.4,924.0 L1597.8,926.1 L1601.2,928.2 L1604.6,930.4 L1608.0,932.5" stroke="#9a9a23"/><path d="M222.0,172.0 L222.2,176.0 L222.4,180.0 L222.6,184.0 L222.9,188.0 L223.1,192.0 L223.3,196.0 L223.5,200.0 L223.6,204.0 L223.8,208.0 L224.0,212.0 L224.1,216.0 L224.3,220.0 L224.6,224.0 L224.9,227.9 L225.3,231.9 L225.8,235.9 L226.3,239.9 L226.8,243.8 L227.4,247.8 L228.1,251.7 L228.7,255.7 L229.3,259.6 L230.0,263.6 L230.6,267.5 L231.2,271.5 L231.8,275.5 L232.4,279.4 L233.0,283.4 L233.6,287.3 L234.2,291.3 L234.8,295.2 L235.4,299.2 L236.0,303.2 L236.6,307.1 L237.1,311.1 L237.7,315.0 L238.2,319.0 L238.8,323.0 L239.3,326.9 L239.8,330.9 L240.4,334.9 L240.9,338.8 L241.4,342.8 L242.0,346.8 L242.5,350.7 L243.1,354.7 L243.6,358.7 L244.2,362.6 L244.8,366.6 L245.4,370.5 L246.1,374.5 L246.8,378.4 L247.4,382.4 L248.2,386.3 L248.9,390.2 L249.6,394.2 L250.4,398.1 L251.2,402.0 L252.0,405.9 L252.8,409.9 L253.6,413.8 L254.5,417.7 L255.4,421.6 L256.3,425.5 L257.3,429.4 L258.2,433.2 L259.3,437.1 L260.3,441.0 L261.4,444.8 L262.5,448.7 L263.6,452.5 L264.8,456.3 L266.0,460.2 L267.2,464.0 L268.4,467.8 L269.6,471.6 L270.9,475.4 L272.2,479.2 L273.6,482.9 L274.9,486.7 L276.3,490.4 L277.8,494.2 L279.2,497.9 L280.7,501.6 L282.3,505.3 L283.8,509.0 L285.5,512.6 L287.1,516.3 L288.8,519.9 L290.6,523.5 L292.3,527.1 L294.1,530.7 L296.0,534.2 L297.9,537.7 L299.9,541.2 L301.9,544.6 L304.1,548.0 L306.3,551.4 L308.5,554.7 L310.9,557.9 L313.2,561.1 L315.7,564.3 L318.2,567.4 L320.8,570.4 L323.6,573.3 L326.5,576.0 L329.5,578.7 L332.6,581.1 L335.8,583.5 L339.1,585.7 L342.5,587.9 L346.0,589.9 L349.5,591.7 L353.2,593.4 L356.9,594.8 L360.7,595.8 L364.6,596.4 L368.5,596.6 L372.4,596.2 L376.3,595.4 L380.0,594.2 L383.8,592.7 L387.5,591.3 L391.2,590.0 L395.0,588.8 L398.9,587.8 L402.7,586.7 L406.5,585.5 L410.2,584.0 L413.9,582.4 L417.4,580.6 L421.0,578.6 L424.4,576.7 L427.9,574.7 L431.4,572.7 L434.8,570.7 L438.3,568.7 L441.8,566.8 L445.4,565.0 L449.0,563.2 L452.6,561.6 L456.3,560.1 L460.1,558.8 L463.9,557.6 L467.8,556.6 L471.7,555.8 L475.6,555.0 L479.6,554.4 L483.5,553.9 L487.5,553.5 L491.5,553.2 L495.5,553.1 L499.5,553.0 L503.5,553.0 L507.5,553.1 L511.5,553.4 L515.5,553.8 L519.4,554.3 L523.4,554.9 L527.3,555.6 L531.3,556.3 L535.2,557.1 L539.1,557.9 L543.0,558.7 L546.9,559.5 L550.9,560.2 L554.8,560.9 L558.8,561.5 L562.7,562.0 L566.7,562.5 L570.7,563.0 L574.7,563.4 L578.6,563.8 L582.6,564.1 L586.6,564.3 L590.6,564.5 L594.6,564.5 L598.6,564.3 L602.6,564.0 L606.6,563.6 L610.5,563.1 L614.5,562.6 L618.4,561.9 L622.4,561.1 L626.3,560.3 L630.2,559.5 L634.1,558.5 L638.0,557.5 L641.8,556.5 L645.7,555.4 L649.5,554.2 L653.3,553.0 L657.1,551.7 L660.8,550.3 L664.6,548.8 L668.2,547.3 L671.9,545.6 L675.5,543.9 L679.0,542.0 L682.5,540.1 L686.0,538.1 L689.4,536.0 L692.7,533.8 L696.0,531.5 L699.2,529.1 L702.4,526.7 L705.6,524.2 L708.6,521.7 L711.7,519.1 L714.7,516.4 L717.6,513.7 L720.5,511.0 L723.4,508.2 L726.1,505.3 L728.8,502.3 L731.4,499.3 L734.0,496.2 L736.5,493.1 L739.1,490.0 L741.6,486.9 L744.1,483.8 L746.7,480.7 L749.2,477.7 L751.8,474.6 L754.4,471.6 L757.0,468.5 L759.7,465.5 L762.3,462.5 L764.9,459.4 L767.5,456.4 L770.1,453.4 L772.7,450.3 L775.3,447.3 L777.9,444.3 L780.5,441.2 L783.1,438.2 L785.7,435.1 L788.3,432.1 L790.9,429.0 L793.5,426.0 L796.1,422.9 L798.7,419.9 L801.3,416.8 L803.8,413.8 L806.4,410.7 L809.0,407.7 L811.6,404.6 L814.2,401.6 L816.7,398.5 L819.3,395.4 L821.8,392.3 L824.3,389.2 L826.8,386.0 L829.3,382.9 L831.7,379.7 L834.2,376.6 L836.6,373.4 L839.1,370.2 L841.6,367.1 L844.0,364.0 L846.5,360.8 L849.1,357.7 L851.6,354.7 L854.2,351.6 L856.9,348.6 L859.5,345.6 L862.2,342.7 L865.0,339.7 L867.7,336.9 L870.5,334.0 L873.3,331.1 L876.2,328.3 L879.0,325.5 L881.9,322.8 L884.9,320.1 L887.9,317.4 L890.9,314.8 L894.0,312.2 L897.1,309.7 L900.2,307.3 L903.5,304.9 L906.8,302.6 L910.1,300.4 L913.5,298.3 L916.9,296.2 L920.4,294.2 L923.8,292.2 L927.4,290.3 L930.9,288.4 L934.4,286.5 L938.0,284.7 L941.5,282.8 L945.1,281.0 L948.6,279.2 L952.2,277.4 L955.8,275.7 L959.5,274.1 L963.2,272.6 L966.9,271.2 L970.7,269.9 L974.6,268.8 L978.4,267.8 L982.3,267.0 L986.3,266.3 L990.2,265.7 L994.2,265.2 L998.2,264.9 L1002.2,264.7 L1006.2,264.7 L1010.2,264.8 L1014.1,265.1 L1018.1,265.6 L1022.1,266.1 L1026.0,266.8 L1029.9,267.7 L1033.8,268.6 L1037.7,269.6 L1041.5,270.7 L1045.4,271.8 L1049.2,273.0 L1053.0,274.3 L1056.7,275.6 L1060.5,277.1 L1064.2,278.6 L1067.9,280.1 L1071.5,281.8 L1075.1,283.6 L1078.6,285.5 L1082.0,287.5 L1085.4,289.6 L1088.7,291.9 L1092.0,294.2 L1095.2,296.6 L1098.3,299.1 L1101.4,301.6 L1104.5,304.2 L1107.5,306.8 L1110.5,309.5 L1113.5,312.1 L1116.5,314.8 L1119.5,317.5 L1122.4,320.2 L1125.3,322.9 L1128.3,325.6 L1131.2,328.4 L1134.1,331.1 L1136.9,333.9 L1139.7,336.8 L1142.5,339.6 L1145.3,342.5 L1148.0,345.4 L1150.7,348.4 L1153.4,351.4 L1155.9,354.5 L1158.4,357.6 L1160.8,360.8 L1163.1,364.1 L1165.4,367.4 L1167.7,370.7 L1170.0,373.9 L1172.3,377.2 L1174.7,380.4 L1177.1,383.6 L1179.5,386.8 L1182.0,389.9 L1184.4,393.1 L1186.9,396.3 L1189.4,399.4 L1191.8,402.6 L1194.3,405.7 L1196.7,408.9 L1199.2,412.1 L1201.6,415.2 L1204.0,418.4 L1206.4,421.7 L1208.7,424.9 L1211.0,428.2 L1213.3,431.4 L1215.6,434.7 L1217.9,438.0 L1220.1,441.4 L1222.3,444.7 L1224.5,448.0 L1226.7,451.4 L1228.9,454.7 L1231.1,458.1 L1233.3,461.4 L1235.5,464.8 L1237.7,468.1 L1239.9,471.5 L1242.1,474.8 L1244.3,478.1 L1246.5,481.5 L1248.7,484.8 L1251.0,488.1 L1253.2,491.4 L1255.5,494.7 L1257.7,498.1 L1260.0,501.4 L1262.2,504.7 L1264.4,508.0 L1266.7,511.3 L1268.9,514.6 L1271.1,517.9 L1273.4,521.3 L1275.6,524.6 L1277.7,528.0 L1279.9,531.4 L1282.0,534.7 L1284.1,538.1 L1286.2,541.6 L1288.2,545.0 L1290.2,548.5 L1292.2,552.0 L1294.2,555.5 L1296.1,558.9 L1298.1,562.4 L1300.2,565.9 L1302.2,569.3 L1304.3,572.7 L1306.5,576.0 L1308.7,579.4 L1311.0,582.6 L1313.4,585.9 L1315.8,589.1 L1318.2,592.3 L1320.7,595.4 L1323.2,598.5 L1325.6,601.7 L1328.1,604.8 L1330.6,608.0 L1333.1,611.1 L1335.5,614.3 L1337.9,617.5 L1340.3,620.7 L1342.6,623.9 L1344.9,627.2 L1347.2,630.5 L1349.4,633.8 L1351.6,637.2 L1353.8,640.5 L1356.0,643.9 L1358.1,647.3 L1360.2,650.7 L1362.4,654.1 L1364.5,657.4 L1366.6,660.8 L1368.8,664.2 L1370.9,667.6 L1373.1,671.0 L1375.2,674.3 L1377.4,677.7 L1379.6,681.1 L1381.8,684.4 L1384.0,687.7 L1386.2,691.1 L1388.4,694.4 L1390.6,697.7 L1392.8,701.1 L1395.1,704.4 L1397.3,707.7 L1399.5,711.0 L1401.8,714.4 L1404.0,717.7 L1406.3,720.9 L1408.6,724.2 L1410.9,727.5 L1413.3,730.7 L1415.7,733.9 L1418.1,737.1 L1420.6,740.3 L1423.1,743.4 L1425.6,746.5 L1428.2,749.5 L1430.9,752.5 L1433.5,755.5 L1436.2,758.5 L1438.9,761.4 L1441.6,764.4 L1444.3,767.3 L1447.0,770.3 L1449.6,773.3 L1452.3,776.3 L1455.0,779.3 L1457.6,782.3 L1460.3,785.3 L1462.9,788.3 L1465.6,791.3 L1468.2,794.3 L1470.9,797.3 L1473.5,800.3 L1476.1,803.3 L1478.8,806.3 L1481.4,809.3 L1484.0,812.4 L1486.6,815.4 L1489.2,818.4 L1491.8,821.5 L1494.4,824.5 L1497.0,827.6 L1499.6,830.7 L1502.1,833.7 L1504.7,836.8 L1507.3,839.8 L1509.8,842.9 L1512.4,846.0 L1514.9,849.1 L1517.4,852.2 L1519.9,855.4 L1522.4,858.5 L1525.0,861.5 L1527.6,864.6 L1530.2,867.6 L1532.8,870.6 L1535.6,873.6 L1538.3,876.5 L1541.1,879.3 L1544.0,882.1 L1546.9,884.9 L1549.8,887.6 L1552.7,890.3 L1555.6,893.1 L1558.5,895.9 L1561.3,898.7 L1564.1,901.6 L1566.8,904.5 L1569.4,907.5 L1572.0,910.6 L1574.6,913.6 L1577.2,916.7 L1579.9,919.6 L1582.7,922.5 L1585.6,925.2 L1588.6,927.9 L1591.7,930.4 L1594.9,932.8 L1598.1,935.1 L1601.4,937.5 L1604.7,939.7 L1608.0,942.0" stroke="#9a9a23"/><path d="M224.0,176.0 L224.3,180.0 L224.7,184.0 L225.0,188.0 L225.3,192.0 L225.7,195.9 L226.0,199.9 L226.3,203.9 L226.6,207.9 L226.9,211.9 L227.2,215.9 L227.5,219.9 L227.9,223.9 L228.3,227.9 L228.8,231.8 L229.3,235.8 L229.9,239.8 L230.6,243.7 L231.2,247.7 L231.9,251.6 L232.6,255.6 L233.2,259.5 L233.9,263.5 L234.6,267.4 L235.2,271.4 L235.8,275.3 L236.4,279.3 L236.9,283.2 L237.5,287.2 L238.1,291.2 L238.7,295.1 L239.3,299.1 L239.9,303.0 L240.5,307.0 L241.2,310.9 L241.9,314.9 L242.6,318.8 L243.4,322.8 L244.1,326.7 L244.9,330.6 L245.7,334.5 L246.5,338.5 L247.3,342.4 L248.2,346.3 L249.0,350.2 L249.8,354.1 L250.7,358.0 L251.5,361.9 L252.4,365.9 L253.3,369.8 L254.2,373.7 L255.1,377.6 L256.0,381.5 L256.9,385.4 L257.8,389.3 L258.7,393.2 L259.6,397.1 L260.5,401.0 L261.3,404.9 L262.2,408.8 L263.1,412.7 L264.0,416.6 L265.0,420.5 L266.0,424.3 L267.1,428.2 L268.2,432.0 L269.4,435.9 L270.7,439.6 L272.1,443.4 L273.5,447.2 L275.0,450.9 L276.5,454.6 L278.0,458.3 L279.6,461.9 L281.2,465.6 L282.9,469.3 L284.5,472.9 L286.2,476.6 L287.8,480.2 L289.5,483.8 L291.1,487.5 L292.8,491.1 L294.4,494.8 L296.0,498.5 L297.6,502.2 L299.1,505.9 L300.5,509.6 L301.9,513.4 L303.2,517.1 L304.4,520.9 L305.7,524.7 L307.0,528.5 L308.5,532.2 L310.1,535.9 L312.0,539.3 L314.2,542.6 L316.7,545.7 L319.4,548.7 L322.3,551.4 L325.3,554.0 L328.4,556.6 L331.6,559.0 L334.8,561.3 L338.2,563.5 L341.6,565.5 L345.2,567.3 L348.8,569.0 L352.5,570.4 L356.3,571.7 L360.2,572.6 L364.1,573.2 L368.0,573.2 L371.9,572.8 L375.7,571.9 L379.5,570.6 L383.2,569.2 L386.9,567.7 L390.6,566.0 L394.2,564.4 L397.9,562.7 L401.5,561.0 L405.1,559.4 L408.9,557.9 L412.6,556.6 L416.4,555.4 L420.3,554.2 L424.0,552.9 L427.8,551.4 L431.4,549.8 L435.0,548.1 L438.6,546.2 L442.1,544.3 L445.6,542.4 L449.2,540.6 L452.8,538.9 L456.5,537.4 L460.2,536.0 L464.0,534.8 L467.9,533.7 L471.7,532.7 L475.7,531.9 L479.6,531.2 L483.6,530.6 L487.5,530.1 L491.5,529.7 L495.5,529.4 L499.5,529.2 L503.5,529.1 L507.5,529.2 L511.5,529.3 L515.5,529.6 L519.5,529.9 L523.4,530.3 L527.4,530.7 L531.4,531.2 L535.4,531.7 L539.3,532.2 L543.3,532.7 L547.3,533.2 L551.3,533.7 L555.2,534.1 L559.2,534.4 L563.2,534.7 L567.2,534.9 L571.2,535.1 L575.2,535.2 L579.2,535.3 L583.2,535.3 L587.2,535.2 L591.2,535.0 L595.2,534.7 L599.2,534.4 L603.2,533.9 L607.2,533.4 L611.1,532.8 L615.1,532.2 L619.0,531.5 L622.9,530.8 L626.8,529.9 L630.7,529.0 L634.6,527.9 L638.4,526.7 L642.2,525.4 L645.8,523.8 L649.4,522.0 L652.9,520.0 L656.3,517.9 L659.6,515.8 L663.0,513.7 L666.5,511.6 L669.9,509.6 L673.4,507.7 L676.9,505.7 L680.3,503.6 L683.8,501.6 L687.1,499.4 L690.5,497.2 L693.7,494.9 L696.9,492.5 L700.1,490.1 L703.3,487.6 L706.5,485.2 L709.6,482.7 L712.7,480.1 L715.7,477.5 L718.5,474.7 L721.3,471.8 L723.9,468.8 L726.5,465.7 L729.0,462.6 L731.5,459.5 L734.0,456.3 L736.5,453.2 L739.1,450.2 L741.7,447.1 L744.4,444.2 L747.1,441.3 L749.9,438.4 L752.8,435.6 L755.7,432.8 L758.6,430.1 L761.5,427.4 L764.5,424.7 L767.4,422.0 L770.4,419.3 L773.4,416.6 L776.4,413.9 L779.3,411.2 L782.3,408.6 L785.2,405.8 L788.2,403.1 L791.1,400.4 L794.0,397.6 L796.9,394.8 L799.7,392.0 L802.5,389.1 L805.3,386.2 L808.0,383.3 L810.7,380.4 L813.4,377.4 L816.0,374.4 L818.7,371.4 L821.3,368.4 L823.9,365.4 L826.6,362.3 L829.2,359.3 L831.9,356.4 L834.6,353.4 L837.3,350.4 L840.0,347.5 L842.8,344.7 L845.7,341.8 L848.6,339.1 L851.5,336.4 L854.6,333.8 L857.6,331.2 L860.8,328.7 L863.9,326.2 L867.1,323.8 L870.2,321.3 L873.4,318.8 L876.4,316.3 L879.5,313.7 L882.4,311.0 L885.3,308.2 L888.1,305.3 L890.9,302.5 L893.8,299.7 L896.7,297.0 L899.8,294.4 L902.9,292.0 L906.2,289.6 L909.5,287.3 L912.8,285.1 L916.2,283.0 L919.6,280.9 L923.1,278.9 L926.5,276.9 L930.1,275.1 L933.7,273.3 L937.3,271.5 L940.9,269.9 L944.6,268.4 L948.4,267.0 L952.1,265.7 L956.0,264.5 L959.8,263.4 L963.7,262.4 L967.6,261.5 L971.5,260.7 L975.5,260.1 L979.4,259.6 L983.4,259.3 L987.4,259.2 L991.4,259.4 L995.3,259.8 L999.3,260.5 L1003.2,261.3 L1007.1,262.3 L1010.9,263.4 L1014.7,264.6 L1018.5,265.8 L1022.3,267.2 L1026.0,268.7 L1029.7,270.2 L1033.3,271.9 L1036.9,273.6 L1040.5,275.4 L1044.0,277.3 L1047.5,279.2 L1051.0,281.3 L1054.4,283.3 L1057.8,285.4 L1061.2,287.6 L1064.6,289.7 L1067.9,292.0 L1071.2,294.2 L1074.5,296.5 L1077.7,298.9 L1080.9,301.2 L1084.1,303.7 L1087.3,306.1 L1090.4,308.6 L1093.6,311.1 L1096.6,313.6 L1099.7,316.2 L1102.7,318.8 L1105.7,321.5 L1108.7,324.2 L1111.6,326.9 L1114.6,329.6 L1117.4,332.4 L1120.3,335.2 L1123.1,338.1 L1125.9,340.9 L1128.8,343.8 L1131.5,346.6 L1134.3,349.5 L1137.1,352.4 L1139.8,355.3 L1142.6,358.3 L1145.3,361.2 L1148.0,364.2 L1150.6,367.1 L1153.3,370.1 L1155.9,373.1 L1158.6,376.2 L1161.2,379.2 L1163.8,382.2 L1166.4,385.3 L1168.9,388.4 L1171.5,391.4 L1174.0,394.5 L1176.6,397.6 L1179.1,400.8 L1181.5,403.9 L1184.0,407.1 L1186.4,410.3 L1188.8,413.5 L1191.2,416.7 L1193.5,420.0 L1195.8,423.2 L1198.1,426.5 L1200.3,429.8 L1202.6,433.2 L1204.8,436.5 L1207.0,439.8 L1209.2,443.2 L1211.4,446.5 L1213.5,449.9 L1215.7,453.3 L1217.9,456.6 L1220.1,460.0 L1222.3,463.3 L1224.5,466.7 L1226.7,470.0 L1228.9,473.4 L1231.1,476.7 L1233.4,480.0 L1235.6,483.3 L1237.8,486.6 L1240.1,489.9 L1242.3,493.3 L1244.6,496.6 L1246.8,499.9 L1249.1,503.2 L1251.3,506.5 L1253.5,509.9 L1255.7,513.2 L1257.9,516.6 L1260.1,519.9 L1262.3,523.3 L1264.4,526.7 L1266.5,530.1 L1268.6,533.5 L1270.7,536.9 L1272.8,540.3 L1274.8,543.8 L1276.9,547.2 L1278.9,550.6 L1280.9,554.1 L1283.0,557.5 L1285.0,561.0 L1287.0,564.4 L1289.1,567.9 L1291.1,571.3 L1293.2,574.8 L1295.3,578.2 L1297.4,581.6 L1299.5,585.0 L1301.7,588.4 L1303.8,591.7 L1306.0,595.1 L1308.2,598.4 L1310.4,601.8 L1312.6,605.1 L1314.8,608.5 L1317.0,611.8 L1319.2,615.1 L1321.5,618.4 L1323.7,621.8 L1326.0,625.1 L1328.2,628.4 L1330.5,631.7 L1332.7,635.0 L1335.0,638.3 L1337.2,641.6 L1339.5,644.9 L1341.7,648.3 L1344.0,651.6 L1346.2,654.9 L1348.5,658.2 L1350.7,661.5 L1353.0,664.8 L1355.3,668.1 L1357.6,671.4 L1359.8,674.7 L1362.1,678.0 L1364.4,681.2 L1366.7,684.5 L1369.0,687.8 L1371.3,691.1 L1373.6,694.4 L1375.9,697.7 L1378.2,700.9 L1380.5,704.2 L1382.8,707.5 L1385.1,710.8 L1387.4,714.0 L1389.7,717.3 L1392.0,720.6 L1394.3,723.9 L1396.6,727.1 L1398.9,730.4 L1401.3,733.6 L1403.6,736.9 L1405.9,740.1 L1408.3,743.4 L1410.7,746.6 L1413.0,749.8 L1415.4,753.1 L1417.8,756.3 L1420.2,759.5 L1422.6,762.7 L1425.0,765.9 L1427.4,769.1 L1429.8,772.3 L1432.2,775.5 L1434.6,778.7 L1437.1,781.8 L1439.6,785.0 L1442.0,788.1 L1444.5,791.2 L1447.1,794.4 L1449.6,797.4 L1452.2,800.5 L1454.8,803.6 L1457.4,806.6 L1460.0,809.6 L1462.6,812.6 L1465.3,815.6 L1468.0,818.6 L1470.7,821.6 L1473.4,824.5 L1476.1,827.5 L1478.8,830.4 L1481.6,833.3 L1484.3,836.2 L1487.1,839.1 L1489.9,842.0 L1492.7,844.8 L1495.5,847.7 L1498.3,850.5 L1501.1,853.4 L1504.0,856.2 L1506.8,859.0 L1509.7,861.8 L1512.6,864.6 L1515.4,867.4 L1518.3,870.1 L1521.2,872.9 L1524.1,875.7 L1527.0,878.4 L1529.9,881.2 L1532.8,883.9 L1535.7,886.7 L1538.7,889.4 L1541.6,892.2 L1544.5,894.9 L1547.4,897.7 L1550.3,900.4 L1553.2,903.2 L1556.1,906.0 L1559.0,908.7 L1561.9,911.4 L1564.8,914.2 L1567.8,916.9 L1570.7,919.7 L1573.6,922.4 L1576.5,925.1 L1579.5,927.9 L1582.4,930.6 L1585.3,933.3 L1588.2,936.1 L1591.2,938.8 L1594.1,941.5 L1597.0,944.3 L1599.9,947.0 L1602.9,949.7 L1605.8,952.5 L1608.0,954.5" stroke="#3f9a21"/><path d="M226.0,170.9 L226.6,174.9 L227.1,178.8 L227.7,182.8 L228.2,186.8 L228.8,190.7 L229.3,194.7 L229.8,198.7 L230.2,202.6 L230.6,206.6 L231.0,210.6 L231.4,214.6 L231.8,218.6 L232.2,222.6 L232.6,226.5 L233.1,230.5 L233.7,234.5 L234.2,238.4 L234.8,242.4 L235.5,246.3 L236.1,250.3 L236.8,254.2 L237.4,258.2 L238.1,262.1 L238.8,266.1 L239.5,270.0 L240.2,274.0 L240.9,277.9 L241.6,281.8 L242.3,285.8 L243.1,289.7 L243.8,293.6 L244.6,297.6 L245.3,301.5 L246.1,305.4 L246.9,309.4 L247.7,313.3 L248.5,317.2 L249.3,321.1 L250.2,325.0 L251.0,328.9 L251.9,332.8 L252.8,336.8 L253.6,340.7 L254.5,344.6 L255.5,348.5 L256.4,352.4 L257.3,356.2 L258.3,360.1 L259.2,364.0 L260.2,367.9 L261.2,371.8 L262.2,375.6 L263.2,379.5 L264.3,383.4 L265.3,387.3 L266.3,391.1 L267.4,395.0 L268.5,398.8 L269.5,402.7 L270.6,406.6 L271.6,410.4 L272.7,414.3 L273.7,418.2 L274.7,422.0 L275.8,425.9 L276.8,429.8 L277.9,433.6 L279.0,437.4 L280.2,441.3 L281.4,445.1 L282.7,448.9 L284.0,452.7 L285.4,456.4 L286.9,460.1 L288.4,463.8 L290.0,467.5 L291.6,471.1 L293.3,474.8 L295.0,478.4 L296.8,482.0 L298.7,485.5 L300.6,489.0 L302.6,492.5 L304.7,495.9 L306.9,499.2 L309.2,502.5 L311.6,505.7 L314.0,508.9 L316.6,512.0 L319.2,515.0 L321.9,517.9 L324.7,520.7 L327.7,523.5 L330.7,526.1 L333.8,528.6 L337.0,530.9 L340.4,533.1 L343.8,535.2 L347.3,537.1 L350.9,538.8 L354.6,540.4 L358.3,541.8 L362.1,543.0 L366.0,543.9 L369.9,544.5 L373.9,544.9 L377.9,545.0 L381.8,544.8 L385.8,544.3 L389.7,543.7 L393.6,542.9 L397.5,541.9 L401.4,540.9 L405.2,539.7 L409.0,538.6 L412.9,537.3 L416.7,536.1 L420.5,534.8 L424.3,533.6 L428.0,532.3 L431.8,530.9 L435.6,529.5 L439.3,528.0 L442.9,526.4 L446.6,524.9 L450.3,523.4 L454.1,522.0 L457.9,520.7 L461.7,519.5 L465.6,518.5 L469.4,517.5 L473.3,516.5 L477.2,515.7 L481.1,514.8 L485.1,514.0 L489.0,513.3 L492.9,512.5 L496.9,511.8 L500.8,511.2 L504.8,510.5 L508.7,509.9 L512.7,509.3 L516.6,508.7 L520.6,508.1 L524.6,507.7 L528.5,507.2 L532.5,506.8 L536.5,506.5 L540.5,506.2 L544.5,505.9 L548.5,505.7 L552.5,505.5 L556.5,505.3 L560.5,505.0 L564.5,504.8 L568.5,504.5 L572.5,504.2 L576.5,503.9 L580.4,503.5 L584.4,503.0 L588.4,502.5 L592.3,501.8 L596.3,501.1 L600.2,500.3 L604.1,499.5 L608.0,498.6 L611.9,497.6 L615.8,496.6 L619.6,495.6 L623.5,494.4 L627.3,493.3 L631.1,492.0 L634.9,490.7 L638.6,489.4 L642.4,488.0 L646.1,486.5 L649.8,485.1 L653.5,483.5 L657.2,481.9 L660.8,480.2 L664.4,478.5 L668.0,476.7 L671.5,474.8 L675.0,472.9 L678.5,470.8 L681.9,468.7 L685.2,466.5 L688.5,464.2 L691.7,461.9 L694.9,459.4 L698.0,456.9 L701.1,454.4 L704.1,451.7 L707.1,449.1 L710.1,446.4 L713.1,443.7 L716.0,441.0 L718.9,438.3 L721.9,435.6 L724.8,432.8 L727.7,430.1 L730.6,427.3 L733.4,424.5 L736.3,421.7 L739.1,418.8 L741.9,416.0 L744.6,413.1 L747.4,410.2 L750.2,407.3 L753.0,404.5 L755.8,401.6 L758.7,398.8 L761.5,396.0 L764.4,393.3 L767.4,390.5 L770.4,387.9 L773.4,385.3 L776.5,382.7 L779.5,380.1 L782.6,377.6 L785.7,375.0 L788.8,372.5 L791.9,370.0 L795.0,367.4 L798.0,364.8 L801.0,362.2 L804.0,359.5 L806.9,356.8 L809.9,354.0 L812.8,351.3 L815.7,348.5 L818.7,345.9 L821.7,343.3 L824.8,340.7 L828.0,338.3 L831.3,336.0 L834.6,333.8 L838.0,331.6 L841.4,329.5 L844.8,327.4 L848.2,325.3 L851.5,323.1 L854.8,320.9 L858.1,318.6 L861.4,316.3 L864.6,314.0 L867.9,311.7 L871.2,309.4 L874.5,307.2 L877.9,305.1 L881.4,303.1 L884.9,301.1 L888.4,299.3 L892.0,297.5 L895.6,295.8 L899.3,294.1 L903.0,292.5 L906.7,291.1 L910.4,289.7 L914.2,288.4 L918.0,287.1 L921.8,286.0 L925.7,284.9 L929.6,284.0 L933.5,283.1 L937.4,282.4 L941.4,281.8 L945.3,281.5 L949.3,281.3 L953.3,281.3 L957.3,281.6 L961.3,282.1 L965.2,282.7 L969.1,283.5 L973.0,284.4 L976.9,285.3 L980.8,286.3 L984.7,287.3 L988.5,288.3 L992.4,289.3 L996.3,290.3 L1000.2,291.2 L1004.1,292.2 L1007.9,293.2 L1011.8,294.3 L1015.6,295.5 L1019.4,296.9 L1023.1,298.3 L1026.7,300.0 L1030.3,301.8 L1033.7,303.8 L1037.1,306.0 L1040.4,308.2 L1043.6,310.5 L1046.9,312.9 L1050.0,315.4 L1053.2,317.8 L1056.4,320.2 L1059.7,322.5 L1062.9,324.8 L1066.3,327.0 L1069.7,329.2 L1073.1,331.2 L1076.6,333.2 L1080.0,335.3 L1083.5,337.3 L1086.9,339.4 L1090.2,341.6 L1093.5,343.9 L1096.6,346.4 L1099.5,349.0 L1102.3,351.9 L1104.9,354.9 L1107.3,358.1 L1109.5,361.4 L1111.7,364.8 L1113.9,368.2 L1116.0,371.5 L1118.2,374.8 L1120.6,378.1 L1123.0,381.3 L1125.6,384.3 L1128.2,387.4 L1130.9,390.3 L1133.6,393.3 L1136.3,396.2 L1139.0,399.1 L1141.8,402.0 L1144.5,405.0 L1147.2,407.9 L1149.9,410.9 L1152.5,414.0 L1155.0,417.0 L1157.6,420.1 L1160.1,423.3 L1162.5,426.4 L1165.0,429.6 L1167.4,432.8 L1169.8,436.0 L1172.2,439.2 L1174.5,442.4 L1176.9,445.7 L1179.2,448.9 L1181.6,452.2 L1183.9,455.4 L1186.2,458.7 L1188.5,462.0 L1190.8,465.2 L1193.1,468.5 L1195.3,471.8 L1197.6,475.1 L1199.8,478.5 L1202.0,481.8 L1204.2,485.1 L1206.4,488.5 L1208.6,491.8 L1210.8,495.2 L1213.0,498.5 L1215.2,501.9 L1217.4,505.2 L1219.6,508.6 L1221.8,511.9 L1224.1,515.2 L1226.3,518.5 L1228.6,521.8 L1230.9,525.1 L1233.2,528.4 L1235.5,531.6 L1237.8,534.9 L1240.2,538.1 L1242.5,541.4 L1244.9,544.6 L1247.2,547.9 L1249.6,551.1 L1251.9,554.4 L1254.3,557.6 L1256.6,560.9 L1258.9,564.1 L1261.2,567.4 L1263.5,570.7 L1265.7,574.0 L1268.0,577.3 L1270.2,580.6 L1272.4,584.0 L1274.6,587.3 L1276.8,590.7 L1279.0,594.0 L1281.2,597.4 L1283.4,600.7 L1285.6,604.1 L1287.7,607.4 L1289.9,610.8 L1292.1,614.1 L1294.3,617.5 L1296.5,620.8 L1298.8,624.1 L1301.0,627.5 L1303.2,630.8 L1305.5,634.1 L1307.8,637.4 L1310.0,640.7 L1312.3,644.0 L1314.6,647.3 L1316.8,650.6 L1319.1,653.9 L1321.4,657.2 L1323.7,660.4 L1326.0,663.7 L1328.2,667.0 L1330.5,670.3 L1332.8,673.6 L1335.1,676.9 L1337.4,680.2 L1339.6,683.5 L1341.9,686.8 L1344.2,690.1 L1346.4,693.4 L1348.7,696.7 L1351.0,700.0 L1353.2,703.3 L1355.5,706.6 L1357.8,709.9 L1360.0,713.2 L1362.3,716.5 L1364.6,719.8 L1366.8,723.1 L1369.1,726.4 L1371.4,729.6 L1373.7,732.9 L1376.0,736.2 L1378.3,739.5 L1380.5,742.8 L1382.8,746.1 L1385.1,749.4 L1387.3,752.7 L1389.6,756.0 L1391.8,759.3 L1394.1,762.6 L1396.4,765.9 L1398.7,769.2 L1401.0,772.4 L1403.4,775.7 L1405.7,778.9 L1408.1,782.1 L1410.6,785.3 L1413.0,788.4 L1415.6,791.5 L1418.1,794.6 L1420.6,797.7 L1423.2,800.8 L1425.8,803.8 L1428.5,806.8 L1431.1,809.8 L1433.8,812.8 L1436.5,815.8 L1439.2,818.7 L1441.9,821.7 L1444.6,824.6 L1447.4,827.5 L1450.1,830.4 L1452.9,833.3 L1455.6,836.2 L1458.4,839.1 L1461.2,842.0 L1464.0,844.8 L1466.8,847.7 L1469.6,850.6 L1472.4,853.4 L1475.2,856.2 L1478.1,859.1 L1480.9,861.9 L1483.8,864.7 L1486.6,867.5 L1489.5,870.3 L1492.4,873.1 L1495.3,875.8 L1498.2,878.6 L1501.1,881.3 L1504.0,884.1 L1507.0,886.8 L1509.9,889.5 L1512.9,892.2 L1515.9,894.8 L1518.9,897.5 L1521.9,900.1 L1524.9,902.7 L1527.9,905.4 L1531.0,907.9 L1534.1,910.5 L1537.2,913.0 L1540.3,915.5 L1543.4,918.0 L1546.5,920.5 L1549.7,923.0 L1552.8,925.5 L1556.0,927.9 L1559.2,930.4 L1562.3,932.8 L1565.5,935.2 L1568.7,937.7 L1571.9,940.1 L1575.1,942.5 L1578.3,944.9 L1581.5,947.3 L1584.7,949.7 L1587.9,952.1 L1591.1,954.5 L1594.3,956.9 L1597.5,959.3 L1600.8,961.7 L1604.0,964.0 L1607.2,966.4 L1608.0,967.0" stroke="#3f9a21"/><path d="M230.0,162.0 L231.3,165.8 L232.4,169.6 L233.3,173.5 L233.9,177.4 L234.3,181.4 L234.6,185.4 L234.8,189.4 L235.1,193.4 L235.3,197.4 L235.6,201.3 L235.9,205.3 L236.2,209.3 L236.5,213.3 L236.8,217.3 L237.2,221.3 L237.5,225.3 L238.0,229.3 L238.5,233.2 L239.0,237.2 L239.6,241.2 L240.2,245.1 L240.8,249.1 L241.4,253.0 L242.1,257.0 L242.7,261.0 L243.3,264.9 L243.9,268.9 L244.4,272.8 L244.9,276.8 L245.4,280.8 L245.9,284.8 L246.3,288.7 L246.8,292.7 L247.3,296.7 L247.9,300.6 L248.6,304.6 L249.3,308.5 L250.2,312.4 L251.1,316.3 L252.1,320.2 L253.3,324.0 L254.4,327.9 L255.6,331.7 L256.9,335.5 L258.1,339.3 L259.4,343.1 L260.7,346.9 L262.0,350.7 L263.3,354.4 L264.6,358.2 L266.0,362.0 L267.4,365.7 L268.7,369.5 L270.1,373.3 L271.4,377.0 L272.7,380.8 L274.0,384.6 L275.3,388.4 L276.6,392.2 L277.8,396.0 L279.1,399.8 L280.4,403.6 L281.7,407.4 L283.0,411.2 L284.4,414.9 L285.8,418.7 L287.2,422.4 L288.6,426.2 L290.2,429.9 L291.7,433.5 L293.4,437.2 L295.1,440.8 L296.8,444.4 L298.6,448.0 L300.5,451.6 L302.3,455.1 L304.3,458.6 L306.3,462.0 L308.4,465.5 L310.5,468.8 L312.7,472.2 L315.0,475.5 L317.4,478.7 L319.9,481.8 L322.5,484.9 L325.1,487.9 L327.8,490.8 L330.7,493.6 L333.5,496.4 L336.5,499.1 L339.6,501.7 L342.7,504.2 L345.8,506.6 L349.1,509.0 L352.3,511.3 L355.6,513.6 L359.0,515.7 L362.5,517.7 L366.1,519.4 L369.8,520.7 L373.6,521.7 L377.5,522.2 L381.4,522.2 L385.4,521.8 L389.3,521.1 L393.2,520.2 L397.0,519.1 L400.8,517.9 L404.6,516.6 L408.4,515.3 L412.2,513.9 L416.0,512.6 L419.7,511.4 L423.6,510.2 L427.4,509.1 L431.3,508.1 L435.2,507.3 L439.1,506.4 L443.0,505.6 L447.0,504.8 L450.9,504.0 L454.8,503.1 L458.7,502.2 L462.6,501.1 L466.4,500.1 L470.3,499.0 L474.1,497.9 L477.9,496.7 L481.8,495.5 L485.6,494.3 L489.4,493.1 L493.2,491.9 L497.0,490.7 L500.9,489.6 L504.7,488.4 L508.5,487.2 L512.4,486.1 L516.2,485.0 L520.1,484.0 L524.0,482.9 L527.9,482.0 L531.7,481.1 L535.6,480.2 L539.6,479.3 L543.5,478.4 L547.4,477.6 L551.3,476.8 L555.2,475.9 L559.1,475.1 L563.0,474.2 L566.9,473.3 L570.8,472.4 L574.7,471.4 L578.6,470.3 L582.4,469.1 L586.2,467.8 L589.9,466.3 L593.5,464.7 L597.1,463.0 L600.7,461.1 L604.2,459.2 L607.7,457.2 L611.1,455.2 L614.5,453.1 L617.9,451.0 L621.3,448.9 L624.7,446.7 L628.1,444.6 L631.4,442.4 L634.8,440.2 L638.2,438.1 L641.6,435.9 L644.9,433.8 L648.3,431.6 L651.7,429.5 L655.1,427.3 L658.5,425.2 L661.8,423.0 L665.2,420.9 L668.6,418.7 L671.9,416.5 L675.3,414.3 L678.6,412.1 L681.9,409.8 L685.2,407.5 L688.4,405.2 L691.7,402.8 L694.9,400.5 L698.1,398.1 L701.3,395.7 L704.5,393.2 L707.7,390.8 L710.8,388.4 L714.0,385.9 L717.2,383.5 L720.4,381.1 L723.6,378.6 L726.7,376.2 L729.9,373.8 L733.1,371.3 L736.2,368.8 L739.3,366.3 L742.5,363.8 L745.6,361.3 L748.8,358.9 L752.0,356.5 L755.2,354.1 L758.5,351.8 L761.8,349.6 L765.2,347.5 L768.7,345.6 L772.3,343.8 L775.9,342.1 L779.6,340.5 L783.3,339.0 L787.0,337.5 L790.7,336.0 L794.4,334.5 L798.0,332.8 L801.6,331.0 L805.1,329.0 L808.5,327.0 L812.0,324.9 L815.4,322.8 L818.8,320.7 L822.2,318.6 L825.7,316.7 L829.2,314.8 L832.8,313.1 L836.5,311.4 L840.2,309.9 L843.9,308.5 L847.6,307.1 L851.4,305.7 L855.2,304.3 L858.9,303.0 L862.7,301.7 L866.5,300.4 L870.3,299.1 L874.2,298.0 L878.0,297.0 L881.9,296.1 L885.8,295.2 L889.7,294.4 L893.7,293.7 L897.6,293.1 L901.6,292.5 L905.6,292.2 L909.6,291.9 L913.6,291.9 L917.6,292.0 L921.5,292.3 L925.5,292.7 L929.5,293.3 L933.4,294.0 L937.3,294.8 L941.2,295.7 L945.1,296.7 L949.0,297.7 L952.8,298.8 L956.7,300.0 L960.5,301.2 L964.3,302.5 L968.0,303.8 L971.8,305.2 L975.5,306.7 L979.1,308.3 L982.7,310.1 L986.3,311.9 L989.8,313.9 L993.2,315.9 L996.7,318.0 L1000.1,320.1 L1003.4,322.3 L1006.8,324.5 L1010.1,326.7 L1013.4,329.0 L1016.6,331.3 L1019.9,333.7 L1023.1,336.1 L1026.3,338.4 L1029.5,340.8 L1032.7,343.2 L1036.0,345.6 L1039.2,347.9 L1042.5,350.3 L1045.7,352.6 L1049.0,354.9 L1052.3,357.2 L1055.5,359.5 L1058.8,361.9 L1062.0,364.3 L1065.2,366.7 L1068.3,369.2 L1071.3,371.8 L1074.3,374.5 L1077.2,377.2 L1079.9,380.1 L1082.6,383.1 L1085.3,386.1 L1087.8,389.2 L1090.4,392.3 L1092.9,395.4 L1095.5,398.4 L1098.2,401.4 L1100.9,404.3 L1103.6,407.2 L1106.5,410.1 L1109.3,412.8 L1112.2,415.6 L1115.2,418.4 L1118.1,421.1 L1121.0,423.9 L1123.8,426.7 L1126.7,429.5 L1129.4,432.4 L1132.2,435.3 L1134.8,438.3 L1137.4,441.4 L1139.9,444.5 L1142.3,447.7 L1144.7,450.9 L1147.0,454.2 L1149.3,457.4 L1151.5,460.8 L1153.8,464.1 L1156.0,467.4 L1158.2,470.8 L1160.4,474.1 L1162.5,477.5 L1164.7,480.8 L1167.0,484.2 L1169.2,487.5 L1171.5,490.8 L1173.7,494.1 L1176.0,497.4 L1178.3,500.6 L1180.7,503.9 L1183.0,507.2 L1185.3,510.4 L1187.7,513.7 L1190.0,516.9 L1192.3,520.2 L1194.7,523.4 L1197.0,526.7 L1199.3,529.9 L1201.7,533.2 L1204.0,536.4 L1206.3,539.7 L1208.7,543.0 L1211.0,546.2 L1213.3,549.5 L1215.6,552.8 L1217.9,556.0 L1220.2,559.3 L1222.5,562.6 L1224.8,565.9 L1227.1,569.1 L1229.4,572.4 L1231.7,575.7 L1234.0,579.0 L1236.3,582.2 L1238.6,585.5 L1240.9,588.8 L1243.3,592.0 L1245.6,595.3 L1247.9,598.6 L1250.2,601.8 L1252.6,605.1 L1254.9,608.3 L1257.2,611.6 L1259.5,614.9 L1261.8,618.1 L1264.2,621.4 L1266.5,624.7 L1268.8,627.9 L1271.1,631.2 L1273.5,634.4 L1275.8,637.7 L1278.2,640.9 L1280.5,644.2 L1282.9,647.4 L1285.2,650.6 L1287.6,653.8 L1290.0,657.0 L1292.5,660.2 L1294.9,663.4 L1297.4,666.6 L1299.8,669.7 L1302.4,672.8 L1304.9,675.9 L1307.5,679.0 L1310.1,682.0 L1312.7,685.0 L1315.4,688.0 L1318.1,691.0 L1320.8,693.9 L1323.4,696.9 L1326.1,699.9 L1328.7,702.9 L1331.4,705.9 L1333.9,709.0 L1336.5,712.1 L1339.0,715.2 L1341.4,718.4 L1343.8,721.6 L1346.1,724.9 L1348.4,728.1 L1350.7,731.4 L1353.0,734.7 L1355.3,738.0 L1357.5,741.3 L1359.8,744.6 L1362.0,747.9 L1364.3,751.2 L1366.6,754.5 L1369.0,757.7 L1371.4,761.0 L1373.8,764.1 L1376.3,767.2 L1378.9,770.3 L1381.5,773.3 L1384.2,776.3 L1387.0,779.2 L1389.8,782.0 L1392.6,784.9 L1395.4,787.7 L1398.3,790.6 L1401.1,793.4 L1403.8,796.3 L1406.6,799.2 L1409.2,802.2 L1411.9,805.2 L1414.4,808.3 L1417.0,811.4 L1419.5,814.5 L1422.0,817.6 L1424.5,820.8 L1427.0,823.9 L1429.4,827.1 L1431.9,830.2 L1434.4,833.3 L1436.9,836.4 L1439.5,839.5 L1442.0,842.6 L1444.6,845.7 L1447.3,848.7 L1449.9,851.7 L1452.7,854.6 L1455.4,857.5 L1458.2,860.3 L1461.1,863.2 L1463.9,865.9 L1466.8,868.7 L1469.8,871.4 L1472.7,874.2 L1475.7,876.9 L1478.7,879.5 L1481.6,882.2 L1484.7,884.8 L1487.7,887.5 L1490.7,890.1 L1493.7,892.7 L1496.8,895.3 L1499.8,897.9 L1502.9,900.5 L1506.0,903.1 L1509.0,905.6 L1512.1,908.2 L1515.1,910.8 L1518.2,913.4 L1521.2,916.0 L1524.3,918.5 L1527.4,921.1 L1530.5,923.7 L1533.6,926.2 L1536.7,928.7 L1539.8,931.3 L1542.9,933.8 L1546.0,936.3 L1549.2,938.7 L1552.3,941.2 L1555.5,943.7 L1558.7,946.1 L1561.9,948.5 L1565.1,950.9 L1568.4,953.2 L1571.6,955.5 L1574.9,957.8 L1578.3,960.0 L1581.6,962.2 L1585.0,964.3 L1588.4,966.5 L1591.8,968.6 L1595.2,970.7 L1598.6,972.8 L1602.0,974.9 L1605.4,977.0 L1608.0,978.5" stroke="#006462"/><path d="M231.0,160.0 L232.6,163.6 L234.1,167.3 L235.3,171.1 L236.2,175.0 L236.9,178.9 L237.4,182.9 L237.8,186.9 L238.1,190.8 L238.5,194.8 L238.9,198.8 L239.4,202.8 L239.9,206.8 L240.3,210.7 L240.9,214.7 L241.4,218.7 L241.9,222.6 L242.5,226.6 L243.1,230.6 L243.7,234.5 L244.4,238.5 L245.0,242.4 L245.7,246.4 L246.4,250.3 L247.1,254.2 L247.8,258.2 L248.6,262.1 L249.3,266.1 L250.1,270.0 L250.9,273.9 L251.7,277.8 L252.4,281.8 L253.2,285.7 L254.1,289.6 L254.9,293.5 L255.8,297.4 L256.7,301.3 L257.7,305.2 L258.8,309.0 L260.0,312.9 L261.3,316.6 L262.7,320.4 L264.1,324.1 L265.5,327.9 L267.0,331.6 L268.4,335.3 L269.8,339.1 L271.2,342.9 L272.5,346.6 L273.8,350.4 L275.0,354.2 L276.3,358.0 L277.5,361.8 L278.8,365.6 L280.1,369.4 L281.5,373.2 L282.8,376.9 L284.3,380.7 L285.7,384.4 L287.2,388.1 L288.8,391.8 L290.4,395.5 L291.9,399.2 L293.6,402.8 L295.2,406.5 L296.9,410.1 L298.6,413.7 L300.4,417.3 L302.2,420.9 L304.1,424.4 L306.0,427.9 L308.0,431.4 L310.0,434.9 L312.1,438.3 L314.2,441.7 L316.4,445.0 L318.6,448.4 L320.8,451.7 L323.2,454.9 L325.6,458.1 L328.0,461.3 L330.6,464.4 L333.2,467.4 L336.0,470.2 L338.9,473.0 L341.9,475.6 L345.0,478.2 L348.2,480.5 L351.5,482.7 L354.9,484.8 L358.5,486.7 L362.1,488.4 L365.8,489.9 L369.5,491.2 L373.4,492.3 L377.3,493.2 L381.2,493.9 L385.2,494.4 L389.1,494.8 L393.1,495.0 L397.1,495.1 L401.1,495.1 L405.1,495.0 L409.1,494.8 L413.1,494.4 L417.1,494.0 L421.0,493.4 L425.0,492.7 L428.9,492.0 L432.8,491.1 L436.7,490.2 L440.6,489.3 L444.5,488.2 L448.3,487.1 L452.2,486.0 L456.0,484.8 L459.8,483.6 L463.6,482.3 L467.3,480.9 L471.1,479.5 L474.8,478.1 L478.5,476.5 L482.2,475.0 L485.9,473.3 L489.5,471.7 L493.1,470.0 L496.8,468.4 L500.4,466.7 L504.0,465.0 L507.7,463.3 L511.3,461.6 L514.9,459.9 L518.6,458.2 L522.2,456.6 L525.8,454.9 L529.5,453.2 L533.1,451.6 L536.8,449.9 L540.4,448.2 L544.0,446.5 L547.7,444.8 L551.3,443.2 L554.9,441.5 L558.5,439.8 L562.2,438.1 L565.8,436.4 L569.4,434.6 L573.0,432.9 L576.6,431.2 L580.3,429.5 L583.9,427.8 L587.5,426.1 L591.1,424.4 L594.7,422.6 L598.3,420.8 L601.9,419.0 L605.4,417.2 L609.0,415.3 L612.5,413.4 L616.0,411.5 L619.5,409.6 L623.1,407.7 L626.6,405.8 L630.1,403.8 L633.5,401.8 L637.0,399.8 L640.4,397.8 L643.8,395.6 L647.1,393.4 L650.4,391.1 L653.6,388.7 L656.9,386.4 L660.1,384.0 L663.3,381.6 L666.6,379.3 L669.8,377.0 L673.1,374.7 L676.4,372.4 L679.6,370.1 L682.9,367.8 L686.2,365.5 L689.5,363.2 L692.8,360.9 L696.1,358.7 L699.5,356.5 L702.8,354.3 L706.2,352.1 L709.6,350.1 L713.0,348.0 L716.5,346.0 L720.0,344.1 L723.5,342.1 L727.0,340.2 L730.5,338.2 L734.0,336.3 L737.5,334.3 L741.0,332.4 L744.5,330.5 L748.0,328.6 L751.6,326.7 L755.1,324.8 L758.6,322.9 L762.2,321.1 L765.7,319.2 L769.3,317.3 L772.8,315.5 L776.4,313.7 L780.0,311.9 L783.6,310.2 L787.3,308.6 L791.0,307.1 L794.7,305.7 L798.5,304.4 L802.3,303.3 L806.2,302.3 L810.1,301.4 L814.0,300.6 L818.0,299.9 L821.9,299.2 L825.9,298.6 L829.8,298.0 L833.8,297.5 L837.8,297.0 L841.8,296.6 L845.7,296.3 L849.7,296.1 L853.7,295.9 L857.7,295.7 L861.7,295.7 L865.7,295.7 L869.7,295.9 L873.7,296.3 L877.7,296.8 L881.6,297.6 L885.4,298.7 L889.2,299.9 L893.0,301.3 L896.7,302.8 L900.3,304.4 L903.9,306.1 L907.5,307.9 L911.1,309.6 L914.7,311.5 L918.2,313.4 L921.7,315.4 L925.2,317.4 L928.6,319.4 L932.0,321.4 L935.5,323.5 L938.9,325.6 L942.3,327.6 L945.8,329.6 L949.3,331.6 L952.8,333.5 L956.3,335.4 L959.9,337.2 L963.5,339.0 L967.1,340.7 L970.8,342.3 L974.4,344.0 L978.0,345.7 L981.7,347.3 L985.3,349.1 L988.9,350.8 L992.4,352.7 L995.9,354.6 L999.4,356.6 L1002.8,358.7 L1006.1,360.9 L1009.4,363.2 L1012.6,365.6 L1015.8,368.1 L1018.9,370.6 L1021.9,373.2 L1025.0,375.8 L1028.0,378.4 L1031.0,381.0 L1034.1,383.6 L1037.1,386.2 L1040.2,388.8 L1043.2,391.4 L1046.3,394.0 L1049.4,396.5 L1052.4,399.1 L1055.5,401.7 L1058.5,404.3 L1061.5,406.9 L1064.5,409.7 L1067.3,412.4 L1070.2,415.3 L1072.9,418.2 L1075.5,421.2 L1078.0,424.3 L1080.4,427.5 L1082.7,430.8 L1084.9,434.2 L1087.0,437.5 L1089.2,440.9 L1091.3,444.3 L1093.4,447.7 L1095.5,451.1 L1097.7,454.5 L1099.9,457.8 L1102.2,461.1 L1104.6,464.3 L1106.9,467.6 L1109.3,470.8 L1111.7,474.0 L1114.1,477.2 L1116.4,480.4 L1118.9,483.6 L1121.3,486.8 L1123.7,490.0 L1126.1,493.2 L1128.4,496.5 L1130.8,499.7 L1133.2,502.9 L1135.5,506.2 L1137.9,509.4 L1140.2,512.7 L1142.5,516.0 L1144.7,519.3 L1147.0,522.6 L1149.3,525.9 L1151.5,529.2 L1153.8,532.5 L1156.1,535.7 L1158.4,539.0 L1160.7,542.3 L1163.1,545.5 L1165.4,548.8 L1167.8,552.0 L1170.1,555.2 L1172.5,558.5 L1174.9,561.7 L1177.2,564.9 L1179.6,568.1 L1182.0,571.4 L1184.4,574.6 L1186.8,577.8 L1189.2,581.0 L1191.6,584.2 L1193.9,587.4 L1196.3,590.6 L1198.8,593.8 L1201.2,597.0 L1203.6,600.2 L1206.0,603.4 L1208.4,606.6 L1210.8,609.8 L1213.2,613.0 L1215.6,616.2 L1218.0,619.4 L1220.4,622.6 L1222.8,625.8 L1225.3,629.0 L1227.7,632.2 L1230.1,635.3 L1232.6,638.5 L1235.0,641.7 L1237.4,644.9 L1239.9,648.0 L1242.4,651.2 L1244.8,654.3 L1247.3,657.5 L1249.8,660.6 L1252.4,663.7 L1254.9,666.8 L1257.5,669.9 L1260.0,672.9 L1262.6,676.0 L1265.2,679.0 L1267.8,682.1 L1270.4,685.1 L1273.1,688.1 L1275.7,691.1 L1278.4,694.1 L1281.1,697.1 L1283.7,700.1 L1286.4,703.1 L1289.1,706.0 L1291.8,709.0 L1294.4,712.0 L1297.1,715.0 L1299.8,717.9 L1302.5,720.9 L1305.1,723.9 L1307.8,726.9 L1310.5,729.8 L1313.2,732.8 L1315.9,735.7 L1318.6,738.7 L1321.4,741.6 L1324.1,744.5 L1326.8,747.5 L1329.5,750.4 L1332.2,753.4 L1334.9,756.3 L1337.6,759.3 L1340.3,762.2 L1343.0,765.2 L1345.7,768.2 L1348.4,771.1 L1351.1,774.1 L1353.7,777.1 L1356.3,780.2 L1358.9,783.3 L1361.4,786.4 L1363.8,789.5 L1366.3,792.7 L1368.7,795.9 L1371.2,799.0 L1373.7,802.1 L1376.2,805.3 L1378.7,808.4 L1381.1,811.6 L1383.6,814.7 L1386.1,817.8 L1388.6,820.9 L1391.2,824.0 L1393.8,827.1 L1396.4,830.1 L1399.0,833.1 L1401.7,836.1 L1404.5,839.0 L1407.3,841.8 L1410.2,844.6 L1413.2,847.3 L1416.2,849.9 L1419.3,852.4 L1422.5,854.8 L1425.7,857.2 L1429.0,859.5 L1432.3,861.8 L1435.6,864.0 L1439.0,866.2 L1442.3,868.3 L1445.7,870.4 L1449.1,872.6 L1452.5,874.7 L1455.9,876.9 L1459.2,879.0 L1462.6,881.2 L1465.9,883.5 L1469.2,885.8 L1472.4,888.1 L1475.6,890.5 L1478.8,892.9 L1482.0,895.4 L1485.1,897.9 L1488.2,900.4 L1491.4,902.9 L1494.5,905.4 L1497.5,908.0 L1500.6,910.5 L1503.7,913.1 L1506.8,915.6 L1509.9,918.2 L1513.0,920.7 L1516.1,923.2 L1519.2,925.7 L1522.4,928.2 L1525.5,930.6 L1528.7,933.1 L1531.9,935.5 L1535.1,937.9 L1538.4,940.2 L1541.6,942.6 L1544.8,944.9 L1548.1,947.3 L1551.3,949.6 L1554.6,951.9 L1557.9,954.2 L1561.1,956.6 L1564.4,958.9 L1567.7,961.2 L1571.0,963.5 L1574.3,965.7 L1577.5,968.0 L1580.8,970.3 L1584.1,972.6 L1587.4,974.9 L1590.7,977.2 L1594.0,979.4 L1597.3,981.7 L1600.6,984.0 L1603.9,986.3 L1607.2,988.5 L1608.0,989.1" stroke="#006462"/><path d="M232.1,156.9 L233.8,160.5 L235.5,164.1 L236.9,167.9 L238.1,171.7 L239.1,175.5 L239.9,179.4 L240.6,183.4 L241.2,187.3 L241.7,191.3 L242.3,195.2 L242.9,199.2 L243.5,203.2 L244.2,207.1 L244.8,211.1 L245.4,215.0 L246.1,219.0 L246.8,222.9 L247.4,226.8 L248.2,230.8 L248.9,234.7 L249.6,238.7 L250.4,242.6 L251.1,246.5 L251.9,250.4 L252.7,254.4 L253.5,258.3 L254.4,262.2 L255.4,266.1 L256.4,269.9 L257.4,273.8 L258.5,277.7 L259.7,281.5 L260.8,285.3 L262.1,289.1 L263.3,292.9 L264.6,296.7 L266.0,300.5 L267.3,304.2 L268.7,308.0 L270.1,311.8 L271.5,315.5 L272.9,319.3 L274.3,323.0 L275.7,326.7 L277.2,330.5 L278.7,334.2 L280.2,337.9 L281.8,341.6 L283.3,345.2 L285.0,348.9 L286.6,352.5 L288.3,356.1 L290.1,359.8 L291.9,363.3 L293.7,366.9 L295.5,370.4 L297.4,374.0 L299.3,377.5 L301.2,381.0 L303.2,384.5 L305.2,388.0 L307.2,391.4 L309.3,394.8 L311.4,398.2 L313.6,401.6 L315.8,405.0 L318.0,408.3 L320.3,411.6 L322.6,414.8 L324.9,418.1 L327.3,421.3 L329.7,424.5 L332.2,427.6 L334.7,430.7 L337.3,433.8 L340.0,436.8 L342.7,439.7 L345.5,442.5 L348.4,445.3 L351.4,447.9 L354.4,450.5 L357.6,453.0 L360.7,455.4 L364.0,457.7 L367.4,459.8 L370.9,461.8 L374.5,463.6 L378.1,465.1 L381.9,466.4 L385.7,467.5 L389.6,468.5 L393.5,469.2 L397.5,469.7 L401.5,470.1 L405.5,470.4 L409.4,470.4 L413.4,470.3 L417.4,470.1 L421.4,469.7 L425.4,469.1 L429.3,468.3 L433.2,467.5 L437.1,466.5 L440.9,465.4 L444.7,464.2 L448.5,463.0 L452.3,461.8 L456.1,460.4 L459.9,459.1 L463.6,457.7 L467.4,456.3 L471.1,454.8 L474.8,453.3 L478.5,451.8 L482.2,450.2 L485.9,448.6 L489.5,447.0 L493.1,445.3 L496.7,443.6 L500.3,441.8 L503.9,440.0 L507.5,438.1 L511.0,436.2 L514.5,434.3 L517.9,432.3 L521.4,430.3 L524.8,428.1 L528.1,425.9 L531.4,423.7 L534.7,421.4 L537.9,419.0 L541.1,416.6 L544.3,414.2 L547.5,411.7 L550.6,409.2 L553.7,406.7 L556.8,404.2 L560.0,401.7 L563.1,399.3 L566.3,396.8 L569.4,394.4 L572.6,392.0 L575.9,389.6 L579.2,387.3 L582.5,385.1 L585.8,382.9 L589.2,380.7 L592.5,378.5 L595.9,376.3 L599.2,374.1 L602.5,371.8 L605.7,369.5 L609.0,367.2 L612.3,364.9 L615.6,362.6 L618.9,360.3 L622.2,358.1 L625.5,355.9 L628.9,353.7 L632.2,351.5 L635.6,349.4 L639.0,347.2 L642.3,345.0 L645.6,342.7 L648.8,340.3 L652.0,337.9 L655.2,335.5 L658.4,333.1 L661.7,330.8 L665.0,328.6 L668.4,326.5 L671.9,324.5 L675.4,322.6 L678.9,320.7 L682.5,318.9 L686.0,317.0 L689.5,315.1 L693.0,313.1 L696.5,311.2 L700.0,309.2 L703.5,307.3 L707.1,305.5 L710.7,303.8 L714.4,302.3 L718.1,301.0 L721.9,299.7 L725.8,298.6 L729.6,297.4 L733.4,296.3 L737.3,295.1 L741.1,293.9 L744.9,292.7 L748.7,291.4 L752.5,290.2 L756.3,289.0 L760.2,287.9 L764.0,286.8 L767.9,285.8 L771.8,284.8 L775.7,283.9 L779.6,283.1 L783.5,282.5 L787.5,282.0 L791.5,281.6 L795.5,281.4 L799.5,281.3 L803.5,281.4 L807.4,281.6 L811.4,281.9 L815.4,282.3 L819.4,282.8 L823.3,283.4 L827.3,284.1 L831.2,284.9 L835.1,285.8 L839.0,286.7 L842.8,287.7 L846.7,288.7 L850.6,289.6 L854.5,290.3 L858.5,290.8 L862.5,291.2 L866.5,291.6 L870.4,292.0 L874.3,292.8 L878.1,293.9 L881.7,295.4 L885.2,297.2 L888.6,299.4 L891.8,301.7 L894.9,304.3 L897.9,306.9 L900.9,309.5 L903.9,312.2 L906.9,314.8 L909.9,317.5 L913.0,320.1 L916.1,322.6 L919.2,325.1 L922.3,327.6 L925.4,330.2 L928.5,332.7 L931.6,335.2 L934.6,337.8 L937.7,340.4 L940.7,343.1 L943.6,345.8 L946.6,348.5 L949.4,351.3 L952.3,354.1 L955.0,357.0 L957.8,359.9 L960.5,362.8 L963.2,365.8 L965.9,368.7 L968.6,371.7 L971.2,374.7 L973.8,377.7 L976.5,380.8 L979.1,383.8 L981.7,386.8 L984.3,389.8 L986.9,392.9 L989.5,395.9 L992.1,399.0 L994.7,402.0 L997.3,405.1 L999.9,408.1 L1002.4,411.2 L1005.0,414.3 L1007.5,417.4 L1010.0,420.5 L1012.6,423.6 L1015.1,426.7 L1017.6,429.8 L1020.1,433.0 L1022.6,436.1 L1025.1,439.2 L1027.5,442.4 L1030.0,445.6 L1032.4,448.7 L1034.9,451.9 L1037.3,455.1 L1039.7,458.3 L1042.2,461.4 L1044.6,464.6 L1047.0,467.8 L1049.5,471.0 L1051.9,474.1 L1054.4,477.3 L1056.9,480.4 L1059.3,483.6 L1061.8,486.7 L1064.4,489.8 L1066.9,492.9 L1069.4,496.0 L1071.9,499.1 L1074.4,502.2 L1077.0,505.3 L1079.5,508.4 L1082.1,511.5 L1084.7,514.6 L1087.2,517.6 L1089.8,520.7 L1092.4,523.7 L1095.0,526.8 L1097.6,529.8 L1100.3,532.8 L1102.9,535.8 L1105.5,538.9 L1108.1,541.9 L1110.7,545.0 L1113.2,548.0 L1115.8,551.1 L1118.4,554.2 L1120.9,557.3 L1123.5,560.3 L1126.0,563.4 L1128.6,566.5 L1131.1,569.6 L1133.7,572.7 L1136.2,575.8 L1138.8,578.9 L1141.3,582.0 L1143.8,585.1 L1146.3,588.2 L1148.8,591.3 L1151.3,594.4 L1153.8,597.6 L1156.3,600.7 L1158.7,603.9 L1161.2,607.1 L1163.6,610.2 L1166.1,613.4 L1168.5,616.6 L1170.9,619.8 L1173.3,623.0 L1175.8,626.1 L1178.2,629.3 L1180.6,632.5 L1183.1,635.6 L1185.6,638.8 L1188.0,641.9 L1190.5,645.1 L1193.0,648.2 L1195.6,651.3 L1198.1,654.4 L1200.7,657.4 L1203.3,660.5 L1205.9,663.5 L1208.5,666.5 L1211.2,669.5 L1213.8,672.5 L1216.5,675.5 L1219.1,678.5 L1221.8,681.5 L1224.5,684.5 L1227.2,687.4 L1229.9,690.4 L1232.5,693.4 L1235.2,696.4 L1237.9,699.3 L1240.6,702.3 L1243.2,705.3 L1245.9,708.3 L1248.5,711.3 L1251.1,714.3 L1253.8,717.4 L1256.3,720.4 L1258.9,723.5 L1261.5,726.6 L1264.0,729.7 L1266.5,732.8 L1269.0,735.9 L1271.5,739.0 L1274.0,742.1 L1276.5,745.3 L1279.0,748.4 L1281.5,751.5 L1284.0,754.6 L1286.5,757.8 L1289.1,760.9 L1291.6,764.0 L1294.2,767.0 L1296.8,770.1 L1299.4,773.1 L1302.0,776.1 L1304.7,779.1 L1307.4,782.0 L1310.2,784.9 L1312.9,787.8 L1315.7,790.7 L1318.6,793.5 L1321.4,796.4 L1324.2,799.2 L1327.0,802.0 L1329.8,804.9 L1332.6,807.7 L1335.4,810.6 L1338.3,813.4 L1341.1,816.3 L1343.9,819.1 L1346.7,821.9 L1349.6,824.8 L1352.4,827.6 L1355.3,830.3 L1358.2,833.1 L1361.1,835.9 L1364.0,838.6 L1367.0,841.3 L1369.9,844.0 L1373.0,846.6 L1376.0,849.2 L1379.1,851.8 L1382.2,854.3 L1385.3,856.8 L1388.5,859.2 L1391.7,861.6 L1394.9,864.0 L1398.1,866.4 L1401.4,868.7 L1404.6,871.0 L1407.9,873.3 L1411.2,875.6 L1414.5,877.9 L1417.8,880.2 L1421.0,882.5 L1424.3,884.8 L1427.6,887.1 L1430.8,889.4 L1434.1,891.8 L1437.3,894.2 L1440.5,896.5 L1443.7,898.9 L1446.9,901.3 L1450.1,903.8 L1453.3,906.2 L1456.5,908.6 L1459.7,911.0 L1462.9,913.4 L1466.1,915.8 L1469.3,918.2 L1472.5,920.6 L1475.7,923.0 L1479.0,925.3 L1482.2,927.6 L1485.5,929.9 L1488.8,932.2 L1492.1,934.4 L1495.5,936.6 L1498.8,938.8 L1502.2,941.0 L1505.6,943.1 L1509.0,945.2 L1512.4,947.3 L1515.8,949.4 L1519.2,951.5 L1522.7,953.5 L1526.1,955.5 L1529.6,957.6 L1533.0,959.6 L1536.5,961.6 L1540.0,963.5 L1543.5,965.5 L1546.9,967.5 L1550.4,969.4 L1553.9,971.4 L1557.5,973.3 L1561.0,975.2 L1564.5,977.1 L1568.0,979.0 L1571.6,980.8 L1575.1,982.7 L1578.7,984.6 L1582.2,986.4 L1585.8,988.3 L1589.3,990.1 L1592.9,991.9 L1596.4,993.8 L1600.0,995.6 L1603.5,997.4 L1607.1,999.2 L1608.0,999.7" stroke="#006462"/><path d="M236.0,145.5 L236.6,149.5 L237.3,153.4 L237.9,157.4 L238.6,161.3 L239.2,165.3 L239.9,169.2 L240.6,173.1 L241.2,177.1 L241.9,181.0 L242.7,185.0 L243.4,188.9 L244.1,192.8 L244.9,196.8 L245.6,200.7 L246.4,204.6 L247.2,208.5 L248.0,212.5 L248.8,216.4 L249.7,220.3 L250.6,224.2 L251.6,228.1 L252.6,231.9 L253.8,235.8 L255.0,239.6 L256.2,243.4 L257.5,247.2 L258.8,250.9 L260.2,254.7 L261.5,258.5 L262.8,262.3 L264.1,266.0 L265.4,269.8 L266.6,273.7 L267.8,277.5 L268.9,281.3 L270.0,285.2 L271.1,289.0 L272.3,292.8 L273.5,296.6 L274.8,300.4 L276.2,304.2 L277.8,307.9 L279.4,311.5 L281.2,315.1 L283.1,318.6 L285.1,322.0 L287.2,325.4 L289.4,328.8 L291.6,332.2 L293.8,335.5 L296.0,338.9 L298.2,342.2 L300.3,345.6 L302.5,348.9 L304.6,352.3 L306.7,355.7 L308.9,359.1 L311.0,362.5 L313.2,365.8 L315.4,369.2 L317.7,372.5 L319.9,375.8 L322.2,379.1 L324.4,382.4 L326.7,385.7 L328.9,389.0 L331.2,392.3 L333.6,395.6 L335.9,398.8 L338.3,402.0 L340.8,405.1 L343.4,408.2 L346.0,411.2 L348.8,414.1 L351.6,416.9 L354.6,419.6 L357.6,422.2 L360.7,424.8 L363.8,427.2 L367.1,429.5 L370.5,431.6 L374.0,433.6 L377.5,435.3 L381.2,437.0 L384.9,438.4 L388.7,439.7 L392.5,440.8 L396.4,441.7 L400.3,442.5 L404.3,443.1 L408.2,443.4 L412.2,443.6 L416.2,443.5 L420.2,443.2 L424.1,442.7 L428.1,442.0 L432.0,441.1 L435.8,440.0 L439.6,438.8 L443.4,437.5 L447.1,436.1 L450.8,434.6 L454.5,433.0 L458.1,431.3 L461.7,429.5 L465.2,427.6 L468.7,425.6 L472.1,423.6 L475.5,421.4 L478.8,419.2 L482.2,417.0 L485.4,414.7 L488.7,412.3 L491.9,410.0 L495.1,407.6 L498.3,405.2 L501.5,402.7 L504.7,400.3 L507.9,397.9 L511.0,395.4 L514.2,393.0 L517.4,390.6 L520.6,388.2 L523.8,385.8 L527.0,383.4 L530.2,380.9 L533.3,378.5 L536.5,376.0 L539.6,373.5 L542.6,370.9 L545.7,368.3 L548.6,365.6 L551.5,362.9 L554.4,360.1 L557.2,357.2 L559.9,354.3 L562.7,351.4 L565.5,348.5 L568.4,345.8 L571.4,343.1 L574.4,340.6 L577.6,338.1 L580.9,335.8 L584.2,333.6 L587.6,331.5 L591.0,329.4 L594.4,327.4 L597.9,325.3 L601.4,323.4 L604.9,321.5 L608.4,319.6 L612.0,317.7 L615.5,315.8 L618.9,313.8 L622.3,311.7 L625.7,309.4 L628.9,307.2 L632.2,304.8 L635.4,302.5 L638.7,300.2 L642.0,298.0 L645.4,295.9 L648.9,293.9 L652.5,292.1 L656.1,290.4 L659.8,288.8 L663.5,287.3 L667.2,285.8 L670.9,284.4 L674.7,283.1 L678.5,281.8 L682.3,280.6 L686.1,279.4 L690.0,278.3 L693.8,277.3 L697.7,276.3 L701.6,275.3 L705.5,274.4 L709.4,273.4 L713.2,272.4 L717.1,271.4 L721.0,270.3 L724.8,269.3 L728.7,268.4 L732.6,267.6 L736.6,266.9 L740.6,266.5 L744.5,266.2 L748.5,266.0 L752.5,266.0 L756.5,266.2 L760.5,266.6 L764.4,267.1 L768.4,267.8 L772.3,268.6 L776.2,269.5 L780.1,270.5 L784.0,271.5 L787.9,272.4 L791.7,273.3 L795.6,274.2 L799.5,275.3 L803.2,276.7 L806.8,278.3 L810.4,280.1 L813.8,282.1 L817.2,284.3 L820.5,286.6 L823.8,288.9 L827.0,291.2 L830.3,293.5 L833.6,295.7 L836.9,297.9 L840.3,300.1 L843.7,302.2 L847.2,304.2 L850.6,306.2 L854.1,308.2 L857.6,310.1 L861.1,312.1 L864.6,314.0 L868.1,316.0 L871.5,318.0 L875.0,320.0 L878.4,322.1 L881.8,324.2 L885.2,326.3 L888.5,328.6 L891.7,330.9 L894.8,333.4 L897.8,336.1 L900.6,339.0 L903.3,341.9 L905.9,344.9 L908.5,348.0 L911.0,351.1 L913.5,354.3 L915.9,357.4 L918.4,360.6 L920.8,363.8 L923.3,366.9 L925.7,370.1 L928.2,373.3 L930.6,376.4 L933.1,379.6 L935.5,382.7 L938.0,385.9 L940.4,389.1 L942.9,392.2 L945.3,395.4 L947.7,398.6 L950.2,401.8 L952.6,405.0 L955.0,408.1 L957.4,411.3 L959.9,414.5 L962.3,417.7 L964.7,420.9 L967.2,424.0 L969.6,427.2 L972.0,430.4 L974.5,433.6 L976.9,436.7 L979.4,439.9 L981.8,443.1 L984.3,446.2 L986.7,449.4 L989.2,452.6 L991.6,455.7 L994.1,458.9 L996.5,462.1 L998.9,465.2 L1001.4,468.4 L1003.8,471.6 L1006.3,474.7 L1008.7,477.9 L1011.2,481.1 L1013.7,484.2 L1016.1,487.4 L1018.6,490.5 L1021.0,493.7 L1023.5,496.9 L1025.9,500.0 L1028.3,503.2 L1030.8,506.4 L1033.2,509.6 L1035.6,512.8 L1037.9,516.0 L1040.2,519.3 L1042.5,522.6 L1044.8,525.9 L1047.0,529.2 L1049.3,532.5 L1051.5,535.8 L1053.7,539.2 L1056.0,542.5 L1058.3,545.8 L1060.5,549.1 L1062.8,552.3 L1065.1,555.6 L1067.4,558.9 L1069.6,562.2 L1071.9,565.5 L1074.2,568.8 L1076.5,572.1 L1078.8,575.4 L1081.1,578.6 L1083.4,581.9 L1085.7,585.2 L1088.0,588.5 L1090.3,591.7 L1092.7,595.0 L1095.0,598.2 L1097.4,601.4 L1099.8,604.6 L1102.1,607.9 L1104.5,611.1 L1106.9,614.3 L1109.3,617.5 L1111.8,620.7 L1114.2,623.8 L1116.6,627.0 L1119.1,630.2 L1121.5,633.3 L1124.0,636.5 L1126.5,639.6 L1129.0,642.7 L1131.6,645.8 L1134.2,648.9 L1136.8,651.9 L1139.4,654.9 L1142.0,657.9 L1144.7,660.9 L1147.4,663.9 L1150.1,666.8 L1152.9,669.7 L1155.6,672.6 L1158.4,675.5 L1161.2,678.3 L1164.0,681.2 L1166.8,684.0 L1169.7,686.9 L1172.5,689.7 L1175.3,692.5 L1178.1,695.4 L1181.0,698.2 L1183.8,701.1 L1186.6,703.9 L1189.4,706.8 L1192.2,709.6 L1195.0,712.5 L1197.7,715.4 L1200.5,718.3 L1203.3,721.2 L1206.0,724.1 L1208.8,727.0 L1211.5,729.9 L1214.3,732.8 L1217.0,735.7 L1219.8,738.6 L1222.5,741.5 L1225.3,744.4 L1228.0,747.3 L1230.8,750.3 L1233.5,753.2 L1236.2,756.1 L1239.0,759.0 L1241.7,762.0 L1244.4,764.9 L1247.1,767.8 L1249.8,770.8 L1252.5,773.7 L1255.2,776.7 L1257.9,779.7 L1260.6,782.6 L1263.2,785.6 L1265.9,788.7 L1268.5,791.7 L1271.1,794.7 L1273.7,797.8 L1276.3,800.8 L1278.9,803.8 L1281.5,806.9 L1284.1,809.9 L1286.8,812.9 L1289.5,815.9 L1292.2,818.8 L1294.9,821.7 L1297.7,824.5 L1300.6,827.3 L1303.5,830.1 L1306.5,832.8 L1309.5,835.4 L1312.6,838.0 L1315.7,840.5 L1318.8,843.0 L1322.0,845.4 L1325.2,847.8 L1328.4,850.2 L1331.6,852.6 L1334.9,854.9 L1338.1,857.2 L1341.4,859.5 L1344.7,861.8 L1348.0,864.0 L1351.3,866.3 L1354.7,868.5 L1358.0,870.7 L1361.4,872.9 L1364.7,875.1 L1368.1,877.3 L1371.4,879.5 L1374.8,881.6 L1378.1,883.8 L1381.5,886.0 L1384.9,888.1 L1388.3,890.3 L1391.6,892.4 L1395.0,894.5 L1398.4,896.7 L1401.8,898.8 L1405.2,900.9 L1408.6,903.0 L1412.0,905.1 L1415.4,907.2 L1418.8,909.3 L1422.3,911.4 L1425.7,913.4 L1429.1,915.5 L1432.5,917.6 L1436.0,919.6 L1439.4,921.7 L1442.9,923.7 L1446.3,925.7 L1449.8,927.8 L1453.2,929.8 L1456.7,931.8 L1460.2,933.8 L1463.6,935.8 L1467.1,937.8 L1470.6,939.7 L1474.1,941.7 L1477.5,943.7 L1481.0,945.6 L1484.5,947.6 L1488.0,949.5 L1491.5,951.5 L1495.0,953.4 L1498.5,955.3 L1502.1,957.2 L1505.6,959.1 L1509.1,961.0 L1512.6,962.9 L1516.2,964.8 L1519.7,966.6 L1523.3,968.5 L1526.8,970.3 L1530.4,972.2 L1534.0,974.0 L1537.5,975.8 L1541.1,977.6 L1544.7,979.3 L1548.3,981.1 L1551.9,982.8 L1555.5,984.6 L1559.1,986.3 L1562.7,988.0 L1566.3,989.8 L1569.9,991.5 L1573.6,993.2 L1577.2,994.9 L1580.8,996.6 L1584.4,998.3 L1588.0,1000.0 L1591.7,1001.7 L1595.3,1003.4 L1598.9,1005.1 L1602.6,1006.8 L1606.2,1008.5 L1608.0,1009.3" stroke="#002c9c"/><path d="M236.0,132.0 L236.6,136.0 L237.3,139.9 L237.9,143.8 L238.7,147.8 L239.4,151.7 L240.3,155.6 L241.1,159.5 L242.0,163.4 L242.9,167.3 L243.7,171.3 L244.5,175.2 L245.2,179.1 L245.9,183.1 L246.6,187.0 L247.3,190.9 L248.0,194.9 L248.8,198.8 L249.6,202.7 L250.4,206.7 L251.2,210.6 L252.1,214.5 L253.0,218.4 L253.9,222.3 L255.0,226.1 L256.1,230.0 L257.3,233.8 L258.6,237.6 L259.9,241.3 L261.3,245.1 L262.7,248.8 L264.2,252.6 L265.6,256.3 L267.1,260.0 L268.6,263.8 L270.0,267.5 L271.4,271.2 L272.7,275.0 L274.1,278.8 L275.3,282.6 L276.6,286.4 L278.0,290.1 L279.3,293.9 L280.8,297.6 L282.3,301.3 L284.0,305.0 L285.7,308.5 L287.7,312.0 L289.7,315.5 L291.8,318.9 L294.1,322.2 L296.3,325.5 L298.7,328.7 L301.1,331.9 L303.5,335.1 L306.0,338.2 L308.5,341.4 L310.9,344.5 L313.4,347.7 L315.9,350.8 L318.3,354.0 L320.7,357.2 L323.1,360.4 L325.5,363.6 L327.9,366.9 L330.2,370.1 L332.6,373.3 L335.0,376.5 L337.5,379.6 L340.0,382.8 L342.6,385.8 L345.3,388.8 L348.0,391.7 L350.9,394.5 L353.8,397.2 L356.8,399.9 L359.8,402.5 L363.0,404.9 L366.2,407.3 L369.6,409.4 L373.0,411.4 L376.6,413.2 L380.3,414.7 L384.0,416.0 L387.9,417.1 L391.8,418.0 L395.7,418.7 L399.7,419.1 L403.6,419.4 L407.6,419.5 L411.6,419.3 L415.6,418.9 L419.5,418.3 L423.4,417.5 L427.3,416.5 L431.1,415.3 L434.9,414.0 L438.6,412.5 L442.3,411.0 L445.9,409.3 L449.5,407.5 L453.1,405.7 L456.6,403.8 L460.0,401.8 L463.5,399.8 L466.8,397.6 L470.1,395.4 L473.4,393.0 L476.6,390.6 L479.7,388.2 L482.9,385.6 L485.9,383.1 L489.0,380.5 L492.0,377.8 L495.0,375.2 L497.9,372.5 L500.9,369.8 L503.8,367.0 L506.6,364.2 L509.4,361.3 L512.1,358.3 L514.8,355.4 L517.5,352.5 L520.2,349.5 L523.0,346.6 L525.8,343.8 L528.6,341.0 L531.5,338.2 L534.4,335.4 L537.3,332.6 L540.2,329.9 L543.1,327.1 L546.1,324.4 L549.0,321.8 L552.0,319.1 L555.1,316.5 L558.1,313.9 L561.2,311.3 L564.2,308.8 L567.3,306.2 L570.4,303.6 L573.4,301.0 L576.4,298.4 L579.4,295.7 L582.5,293.1 L585.5,290.5 L588.5,287.9 L591.6,285.3 L594.7,282.9 L598.0,280.5 L601.3,278.2 L604.6,276.0 L608.0,273.9 L611.4,271.9 L614.9,269.9 L618.4,268.0 L622.0,266.1 L625.6,264.3 L629.2,262.6 L632.8,260.9 L636.4,259.3 L640.1,257.7 L643.9,256.3 L647.6,254.9 L651.4,253.7 L655.2,252.5 L659.1,251.4 L662.9,250.2 L666.7,249.0 L670.5,247.8 L674.4,246.6 L678.2,245.4 L682.0,244.3 L685.9,243.5 L689.9,242.9 L693.8,242.5 L697.8,242.3 L701.8,242.3 L705.8,242.5 L709.8,242.7 L713.8,243.1 L717.8,243.5 L721.7,244.0 L725.7,244.6 L729.6,245.2 L733.6,246.0 L737.5,246.7 L741.4,247.5 L745.3,248.3 L749.2,249.2 L753.1,250.3 L756.9,251.5 L760.6,253.0 L764.1,254.8 L767.6,256.7 L771.0,258.8 L774.4,261.0 L777.8,263.1 L781.2,265.1 L784.7,267.1 L788.2,269.1 L791.6,271.1 L795.1,273.2 L798.4,275.3 L801.8,277.5 L805.1,279.8 L808.4,282.0 L811.7,284.3 L814.9,286.6 L818.2,288.9 L821.5,291.2 L824.8,293.4 L828.2,295.6 L831.6,297.7 L835.0,299.8 L838.5,301.7 L842.1,303.5 L845.7,305.2 L849.4,306.8 L853.1,308.3 L856.7,310.0 L860.3,311.8 L863.8,313.7 L867.1,315.9 L870.2,318.3 L873.2,320.9 L876.0,323.8 L878.5,326.9 L880.9,330.0 L883.2,333.3 L885.4,336.7 L887.4,340.1 L889.4,343.6 L891.3,347.1 L893.2,350.6 L895.1,354.2 L896.9,357.7 L898.7,361.3 L900.6,364.9 L902.4,368.4 L904.3,371.9 L906.2,375.4 L908.2,378.9 L910.3,382.3 L912.4,385.7 L914.5,389.1 L916.7,392.5 L918.9,395.8 L921.1,399.2 L923.4,402.5 L925.6,405.8 L927.9,409.1 L930.1,412.4 L932.4,415.7 L934.6,419.0 L936.9,422.3 L939.1,425.7 L941.3,429.0 L943.5,432.4 L945.7,435.7 L947.8,439.1 L950.0,442.5 L952.1,445.9 L954.2,449.3 L956.3,452.7 L958.4,456.1 L960.5,459.5 L962.5,462.9 L964.6,466.4 L966.7,469.8 L968.7,473.2 L970.8,476.7 L972.8,480.1 L974.9,483.5 L976.9,487.0 L979.0,490.4 L981.0,493.8 L983.1,497.3 L985.1,500.7 L987.2,504.1 L989.3,507.6 L991.3,511.0 L993.4,514.4 L995.4,517.9 L997.5,521.3 L999.5,524.8 L1001.6,528.2 L1003.7,531.6 L1005.7,535.0 L1007.8,538.5 L1009.9,541.9 L1011.9,545.3 L1014.0,548.7 L1016.1,552.1 L1018.2,555.5 L1020.3,558.9 L1022.5,562.3 L1024.6,565.7 L1026.7,569.1 L1028.9,572.5 L1031.0,575.9 L1033.1,579.3 L1035.3,582.6 L1037.4,586.0 L1039.6,589.4 L1041.8,592.8 L1043.9,596.1 L1046.1,599.5 L1048.3,602.8 L1050.5,606.1 L1052.8,609.5 L1055.0,612.8 L1057.3,616.1 L1059.6,619.4 L1061.9,622.6 L1064.2,625.9 L1066.6,629.1 L1069.0,632.3 L1071.4,635.5 L1073.8,638.7 L1076.2,641.9 L1078.6,645.1 L1081.1,648.2 L1083.6,651.4 L1086.0,654.5 L1088.5,657.7 L1091.0,660.8 L1093.5,663.9 L1096.0,667.1 L1098.5,670.2 L1101.1,673.3 L1103.6,676.4 L1106.1,679.5 L1108.7,682.6 L1111.2,685.6 L1113.8,688.7 L1116.4,691.8 L1119.0,694.8 L1121.6,697.8 L1124.2,700.9 L1126.8,703.9 L1129.5,706.9 L1132.1,710.0 L1134.7,713.0 L1137.4,716.0 L1140.0,719.0 L1142.6,722.0 L1145.3,725.0 L1147.9,728.0 L1150.5,731.0 L1153.2,734.0 L1155.8,737.0 L1158.5,740.0 L1161.1,743.0 L1163.8,746.0 L1166.5,749.0 L1169.1,752.0 L1171.8,755.0 L1174.5,757.9 L1177.2,760.9 L1179.9,763.8 L1182.6,766.8 L1185.4,769.7 L1188.1,772.6 L1190.9,775.5 L1193.7,778.4 L1196.5,781.2 L1199.3,784.1 L1202.1,786.9 L1205.0,789.7 L1207.8,792.5 L1210.7,795.3 L1213.5,798.1 L1216.4,800.9 L1219.3,803.7 L1222.2,806.4 L1225.1,809.2 L1228.0,811.9 L1231.0,814.6 L1233.9,817.4 L1236.8,820.1 L1239.8,822.8 L1242.7,825.5 L1245.7,828.2 L1248.7,830.9 L1251.6,833.5 L1254.6,836.2 L1257.6,838.9 L1260.6,841.5 L1263.7,844.1 L1266.7,846.7 L1269.7,849.3 L1272.8,851.9 L1275.9,854.5 L1279.0,857.0 L1282.1,859.6 L1285.2,862.1 L1288.3,864.5 L1291.5,867.0 L1294.7,869.4 L1298.0,871.7 L1301.2,874.0 L1304.5,876.3 L1307.9,878.5 L1311.2,880.7 L1314.6,882.9 L1318.0,885.0 L1321.4,887.1 L1324.8,889.2 L1328.2,891.2 L1331.7,893.3 L1335.1,895.3 L1338.6,897.3 L1342.0,899.3 L1345.5,901.3 L1349.0,903.2 L1352.5,905.2 L1356.0,907.1 L1359.5,909.0 L1363.0,910.9 L1366.6,912.8 L1370.1,914.7 L1373.6,916.6 L1377.2,918.5 L1380.7,920.3 L1384.3,922.2 L1387.8,924.0 L1391.4,925.8 L1395.0,927.6 L1398.6,929.4 L1402.2,931.1 L1405.8,932.9 L1409.4,934.6 L1413.0,936.3 L1416.6,938.0 L1420.2,939.7 L1423.9,941.4 L1427.5,943.1 L1431.1,944.8 L1434.8,946.4 L1438.4,948.1 L1442.1,949.8 L1445.7,951.4 L1449.4,953.1 L1453.0,954.7 L1456.6,956.4 L1460.3,958.0 L1463.9,959.7 L1467.6,961.3 L1471.2,962.9 L1474.9,964.6 L1478.6,966.2 L1482.2,967.8 L1485.9,969.4 L1489.6,971.0 L1493.2,972.6 L1496.9,974.2 L1500.6,975.8 L1504.3,977.3 L1508.0,978.9 L1511.6,980.4 L1515.3,982.0 L1519.0,983.5 L1522.7,985.0 L1526.4,986.5 L1530.2,988.0 L1533.9,989.5 L1537.6,991.0 L1541.3,992.4 L1545.1,993.9 L1548.8,995.3 L1552.6,996.7 L1556.3,998.1 L1560.1,999.5 L1563.8,1000.9 L1567.6,1002.3 L1571.3,1003.7 L1575.1,1005.1 L1578.8,1006.4 L1582.6,1007.8 L1586.4,1009.2 L1590.1,1010.5 L1593.9,1011.9 L1597.6,1013.3 L1601.4,1014.6 L1605.2,1016.0 L1608.0,1017.0" stroke="#002c9c"/><path d="M236.0,122.0 L236.8,125.9 L237.7,129.8 L238.5,133.7 L239.4,137.6 L240.3,141.6 L241.1,145.5 L242.1,149.4 L243.0,153.2 L243.9,157.1 L244.9,161.0 L245.8,164.9 L246.7,168.8 L247.5,172.7 L248.3,176.7 L249.1,180.6 L249.9,184.5 L250.7,188.4 L251.4,192.4 L252.2,196.3 L253.1,200.2 L253.9,204.1 L254.8,208.0 L255.6,211.9 L256.6,215.8 L257.5,219.7 L258.6,223.5 L259.8,227.4 L261.1,231.2 L262.4,234.9 L263.9,238.6 L265.5,242.3 L267.1,246.0 L268.7,249.6 L270.4,253.3 L272.1,256.9 L273.7,260.5 L275.4,264.2 L277.0,267.9 L278.5,271.5 L280.0,275.3 L281.5,279.0 L282.9,282.7 L284.3,286.5 L285.7,290.2 L287.1,294.0 L288.6,297.7 L290.3,301.3 L292.0,304.9 L294.0,308.4 L296.1,311.8 L298.3,315.1 L300.7,318.2 L303.3,321.3 L305.9,324.3 L308.6,327.3 L311.3,330.3 L314.0,333.2 L316.6,336.3 L319.1,339.4 L321.5,342.6 L323.8,345.8 L326.1,349.1 L328.3,352.5 L330.5,355.8 L332.9,359.0 L335.3,362.2 L337.8,365.3 L340.4,368.4 L343.1,371.3 L345.8,374.2 L348.7,377.1 L351.5,379.8 L354.5,382.5 L357.6,385.0 L360.8,387.5 L364.1,389.7 L367.5,391.8 L371.0,393.6 L374.6,395.4 L378.3,396.9 L382.0,398.3 L385.8,399.5 L389.7,400.6 L393.6,401.4 L397.5,402.0 L401.5,402.3 L405.5,402.3 L409.4,402.0 L413.3,401.4 L417.2,400.5 L421.1,399.4 L424.8,398.1 L428.5,396.6 L432.2,395.0 L435.8,393.3 L439.4,391.5 L442.9,389.6 L446.4,387.6 L449.9,385.6 L453.3,383.6 L456.7,381.5 L460.1,379.3 L463.4,377.1 L466.6,374.7 L469.8,372.3 L473.0,369.8 L476.0,367.3 L479.0,364.6 L482.0,362.0 L485.0,359.3 L487.9,356.5 L490.8,353.8 L493.7,351.1 L496.7,348.3 L499.6,345.6 L502.5,342.9 L505.5,340.2 L508.4,337.4 L511.3,334.7 L514.2,331.9 L517.1,329.2 L520.0,326.4 L522.9,323.6 L525.7,320.8 L528.6,318.0 L531.4,315.2 L534.3,312.4 L537.1,309.6 L539.9,306.7 L542.7,303.9 L545.5,301.0 L548.2,298.0 L550.9,295.1 L553.5,292.0 L556.1,288.9 L558.6,285.9 L561.1,282.8 L563.7,279.7 L566.4,276.7 L569.1,273.8 L572.0,271.1 L575.0,268.5 L578.2,266.0 L581.5,263.7 L584.8,261.6 L588.2,259.5 L591.7,257.4 L595.1,255.4 L598.6,253.4 L602.0,251.4 L605.5,249.4 L609.0,247.4 L612.5,245.5 L616.0,243.6 L619.6,241.8 L623.2,240.1 L626.9,238.5 L630.6,237.0 L634.3,235.5 L638.0,234.0 L641.8,232.6 L645.5,231.2 L649.3,229.8 L653.0,228.4 L656.8,227.1 L660.6,225.9 L664.5,224.8 L668.3,223.8 L672.2,223.0 L676.2,222.2 L680.1,221.6 L684.1,221.2 L688.1,221.0 L692.0,221.0 L696.0,221.2 L700.0,221.6 L704.0,222.2 L707.9,222.9 L711.8,223.6 L715.7,224.4 L719.6,225.3 L723.5,226.4 L727.3,227.5 L731.0,228.9 L734.7,230.5 L738.2,232.5 L741.5,234.6 L744.7,237.0 L747.9,239.5 L750.9,242.0 L753.9,244.7 L756.9,247.3 L759.9,250.0 L762.9,252.6 L765.9,255.3 L768.9,257.9 L772.0,260.5 L775.2,262.9 L778.5,265.0 L782.0,266.8 L785.6,268.5 L789.2,270.3 L792.7,272.1 L796.1,274.2 L799.4,276.5 L802.5,279.0 L805.5,281.6 L808.5,284.3 L811.4,287.0 L814.3,289.8 L817.3,292.5 L820.3,295.1 L823.4,297.7 L826.5,300.2 L829.6,302.6 L832.8,305.1 L835.9,307.6 L839.0,310.2 L841.9,312.9 L844.8,315.7 L847.5,318.6 L850.1,321.6 L852.5,324.8 L854.9,328.0 L857.1,331.3 L859.3,334.7 L861.5,338.1 L863.5,341.5 L865.6,344.9 L867.6,348.4 L869.5,351.9 L871.5,355.4 L873.4,358.9 L875.4,362.4 L877.3,365.9 L879.2,369.4 L881.2,372.9 L883.1,376.4 L885.1,379.8 L887.1,383.3 L889.2,386.7 L891.2,390.2 L893.4,393.6 L895.5,396.9 L897.7,400.3 L899.8,403.7 L902.0,407.0 L904.3,410.3 L906.5,413.7 L908.7,417.0 L911.0,420.3 L913.2,423.6 L915.4,426.9 L917.7,430.2 L919.9,433.6 L922.2,436.9 L924.4,440.2 L926.7,443.5 L928.9,446.8 L931.1,450.2 L933.4,453.5 L935.6,456.8 L937.9,460.1 L940.1,463.4 L942.4,466.7 L944.6,470.0 L946.9,473.3 L949.1,476.6 L951.3,480.0 L953.6,483.3 L955.8,486.6 L957.9,490.0 L960.1,493.4 L962.2,496.8 L964.3,500.2 L966.4,503.6 L968.4,507.1 L970.3,510.6 L972.2,514.1 L974.1,517.6 L975.9,521.2 L977.7,524.7 L979.6,528.3 L981.5,531.8 L983.4,535.4 L985.3,538.9 L987.3,542.3 L989.2,545.8 L991.2,549.3 L993.2,552.8 L995.2,556.2 L997.2,559.7 L999.2,563.2 L1001.2,566.6 L1003.2,570.1 L1005.2,573.6 L1007.3,577.0 L1009.3,580.5 L1011.3,583.9 L1013.4,587.3 L1015.4,590.8 L1017.5,594.2 L1019.6,597.6 L1021.7,601.0 L1023.8,604.5 L1025.9,607.9 L1028.0,611.3 L1030.1,614.6 L1032.3,618.0 L1034.4,621.4 L1036.6,624.8 L1038.8,628.1 L1041.0,631.4 L1043.2,634.8 L1045.5,638.1 L1047.8,641.4 L1050.1,644.6 L1052.4,647.9 L1054.7,651.2 L1057.0,654.4 L1059.4,657.6 L1061.7,660.9 L1064.1,664.1 L1066.5,667.3 L1068.9,670.5 L1071.3,673.7 L1073.7,676.9 L1076.2,680.1 L1078.6,683.2 L1081.1,686.4 L1083.5,689.6 L1085.9,692.8 L1088.4,695.9 L1090.9,699.1 L1093.3,702.2 L1095.8,705.4 L1098.3,708.5 L1100.8,711.6 L1103.3,714.7 L1105.9,717.8 L1108.4,720.9 L1111.0,724.0 L1113.5,727.1 L1116.1,730.2 L1118.6,733.2 L1121.2,736.3 L1123.7,739.4 L1126.3,742.5 L1128.8,745.6 L1131.4,748.7 L1133.9,751.8 L1136.4,754.9 L1138.9,758.0 L1141.4,761.2 L1143.8,764.3 L1146.2,767.5 L1148.6,770.8 L1151.0,774.0 L1153.4,777.2 L1155.8,780.4 L1158.3,783.5 L1160.8,786.6 L1163.5,789.6 L1166.1,792.6 L1168.8,795.5 L1171.6,798.4 L1174.4,801.3 L1177.1,804.2 L1180.0,807.0 L1182.8,809.9 L1185.6,812.7 L1188.5,815.5 L1191.4,818.3 L1194.2,821.0 L1197.1,823.8 L1200.0,826.5 L1203.0,829.3 L1205.9,832.0 L1208.9,834.7 L1211.8,837.4 L1214.8,840.0 L1217.8,842.7 L1220.9,845.3 L1223.9,847.9 L1227.0,850.4 L1230.1,852.9 L1233.3,855.4 L1236.5,857.8 L1239.7,860.2 L1242.9,862.6 L1246.2,864.9 L1249.5,867.2 L1252.8,869.4 L1256.1,871.6 L1259.4,873.9 L1262.8,876.1 L1266.1,878.2 L1269.5,880.4 L1272.8,882.6 L1276.2,884.7 L1279.6,886.9 L1283.0,889.0 L1286.4,891.0 L1289.9,893.1 L1293.3,895.1 L1296.8,897.1 L1300.3,899.0 L1303.9,900.9 L1307.4,902.7 L1311.0,904.4 L1314.6,906.2 L1318.2,908.0 L1321.8,909.8 L1325.3,911.6 L1328.9,913.5 L1332.4,915.4 L1335.9,917.3 L1339.4,919.2 L1342.9,921.1 L1346.5,923.0 L1350.0,924.9 L1353.5,926.8 L1357.1,928.7 L1360.6,930.5 L1364.2,932.3 L1367.8,934.1 L1371.3,935.9 L1375.0,937.6 L1378.6,939.3 L1382.2,940.9 L1385.9,942.5 L1389.6,944.1 L1393.3,945.6 L1397.0,947.1 L1400.7,948.6 L1404.5,950.0 L1408.2,951.5 L1411.9,952.9 L1415.7,954.3 L1419.4,955.7 L1423.2,957.0 L1427.0,958.4 L1430.7,959.7 L1434.5,961.1 L1438.3,962.5 L1442.0,963.8 L1445.8,965.2 L1449.6,966.5 L1453.3,967.9 L1457.1,969.3 L1460.8,970.6 L1464.6,972.0 L1468.4,973.3 L1472.2,974.7 L1475.9,976.0 L1479.7,977.4 L1483.5,978.7 L1487.2,980.0 L1491.0,981.3 L1494.8,982.7 L1498.6,984.0 L1502.4,985.3 L1506.1,986.6 L1509.9,987.9 L1513.7,989.3 L1517.5,990.6 L1521.2,991.9 L1525.0,993.2 L1528.8,994.6 L1532.6,995.9 L1536.3,997.2 L1540.1,998.6 L1543.9,999.9 L1547.7,1001.3 L1551.4,1002.6 L1555.2,1003.9 L1559.0,1005.3 L1562.7,1006.6 L1566.5,1008.0 L1570.3,1009.3 L1574.1,1010.6 L1577.8,1012.0 L1581.6,1013.3 L1585.4,1014.7 L1589.1,1016.0 L1592.9,1017.3 L1596.7,1018.7 L1600.5,1020.0 L1604.2,1021.4 L1608.0,1022.7" stroke="#002c9c"/><path d="M243.0,113.6 L243.6,117.6 L244.2,121.5 L244.8,125.5 L245.4,129.4 L246.0,133.4 L246.6,137.3 L247.1,141.3 L247.6,145.3 L248.1,149.3 L248.6,153.2 L249.1,157.2 L249.6,161.2 L250.2,165.1 L250.9,169.1 L251.7,173.0 L252.6,176.9 L253.6,180.8 L254.6,184.6 L255.7,188.5 L256.8,192.3 L257.9,196.2 L259.0,200.0 L260.0,203.9 L261.1,207.8 L262.1,211.6 L263.2,215.5 L264.3,219.3 L265.5,223.1 L266.8,226.9 L268.2,230.7 L269.7,234.4 L271.2,238.1 L272.8,241.7 L274.5,245.4 L276.2,249.0 L277.9,252.6 L279.7,256.2 L281.5,259.8 L283.3,263.3 L285.1,266.9 L286.9,270.5 L288.7,274.1 L290.5,277.6 L292.3,281.2 L294.1,284.8 L296.0,288.3 L297.8,291.9 L299.8,295.4 L301.7,298.9 L303.8,302.3 L305.9,305.7 L308.2,309.0 L310.6,312.2 L313.1,315.3 L315.7,318.3 L318.5,321.2 L321.3,324.0 L324.2,326.8 L327.0,329.6 L329.9,332.4 L332.8,335.2 L335.6,338.0 L338.5,340.8 L341.4,343.5 L344.4,346.2 L347.4,348.8 L350.5,351.3 L353.7,353.7 L357.1,355.8 L360.5,357.8 L364.1,359.6 L367.7,361.3 L371.4,362.8 L375.2,364.1 L379.0,365.4 L382.8,366.4 L386.7,367.3 L390.7,368.0 L394.6,368.5 L398.6,368.7 L402.6,368.7 L406.6,368.4 L410.5,367.9 L414.4,367.1 L418.3,366.2 L422.1,365.0 L425.8,363.6 L429.5,361.9 L433.0,360.1 L436.4,358.1 L439.8,355.9 L443.0,353.5 L446.1,351.0 L449.1,348.4 L452.2,345.8 L455.1,343.1 L458.1,340.5 L461.1,337.8 L464.1,335.1 L467.0,332.4 L469.9,329.6 L472.8,326.8 L475.6,324.0 L478.5,321.2 L481.3,318.4 L484.1,315.5 L486.9,312.7 L489.7,309.8 L492.5,306.9 L495.2,304.0 L498.0,301.1 L500.7,298.1 L503.3,295.1 L506.0,292.1 L508.6,289.1 L511.2,286.1 L513.9,283.1 L516.6,280.2 L519.3,277.2 L522.1,274.3 L524.8,271.4 L527.5,268.4 L530.1,265.4 L532.9,262.5 L535.6,259.6 L538.5,256.9 L541.5,254.2 L544.5,251.5 L547.4,248.8 L550.3,246.0 L553.1,243.2 L555.9,240.3 L558.7,237.4 L561.5,234.6 L564.4,231.8 L567.3,229.1 L570.2,226.3 L573.2,223.6 L576.2,221.0 L579.2,218.4 L582.3,215.9 L585.4,213.4 L588.6,211.0 L591.9,208.6 L595.2,206.4 L598.5,204.2 L601.9,202.2 L605.5,200.3 L609.1,198.6 L612.8,197.0 L616.5,195.6 L620.3,194.3 L624.1,193.2 L628.0,192.1 L631.9,191.2 L635.8,190.4 L639.7,189.7 L643.7,189.2 L647.7,188.9 L651.6,188.7 L655.6,188.7 L659.6,188.7 L663.6,188.8 L667.6,189.0 L671.6,189.2 L675.6,189.4 L679.6,189.8 L683.6,190.4 L687.5,191.1 L691.4,192.0 L695.2,193.1 L699.0,194.4 L702.8,195.7 L706.5,197.2 L710.1,198.9 L713.8,200.5 L717.3,202.3 L720.9,204.2 L724.3,206.2 L727.7,208.3 L731.1,210.5 L734.2,212.9 L737.3,215.5 L740.3,218.2 L743.1,221.0 L745.8,223.9 L748.4,226.9 L751.0,230.0 L753.6,233.0 L756.2,236.1 L758.9,239.1 L761.5,242.1 L764.2,245.1 L766.8,248.1 L769.5,251.1 L772.1,254.1 L774.8,257.0 L777.6,259.9 L780.4,262.7 L783.4,265.4 L786.5,267.8 L789.8,270.1 L793.2,272.1 L796.7,274.0 L800.1,276.0 L803.4,278.3 L806.4,280.8 L809.2,283.6 L811.9,286.6 L814.4,289.7 L816.9,292.9 L819.2,296.1 L821.5,299.4 L823.8,302.7 L826.0,306.0 L828.1,309.4 L830.3,312.8 L832.4,316.2 L834.5,319.6 L836.6,323.0 L838.6,326.5 L840.6,329.9 L842.5,333.4 L844.5,336.9 L846.3,340.5 L848.2,344.0 L850.0,347.6 L851.9,351.1 L853.7,354.7 L855.5,358.3 L857.2,361.9 L859.0,365.5 L860.8,369.1 L862.5,372.7 L864.3,376.3 L866.0,379.8 L867.8,383.4 L869.5,387.0 L871.3,390.6 L873.1,394.2 L874.9,397.8 L876.7,401.4 L878.5,404.9 L880.3,408.5 L882.1,412.1 L883.9,415.7 L885.7,419.3 L887.4,422.8 L889.2,426.4 L891.0,430.0 L892.8,433.6 L894.5,437.2 L896.3,440.8 L898.1,444.3 L899.9,447.9 L901.7,451.5 L903.6,455.0 L905.4,458.6 L907.3,462.1 L909.2,465.7 L911.1,469.2 L913.0,472.7 L914.9,476.2 L916.9,479.7 L918.9,483.1 L921.0,486.6 L923.0,490.0 L925.1,493.5 L927.1,496.9 L929.2,500.3 L931.3,503.7 L933.4,507.1 L935.6,510.5 L937.7,513.9 L939.8,517.3 L941.9,520.7 L944.1,524.1 L946.2,527.4 L948.3,530.8 L950.4,534.2 L952.5,537.6 L954.6,541.1 L956.7,544.5 L958.7,547.9 L960.8,551.4 L962.9,554.8 L964.9,558.2 L967.0,561.6 L969.1,565.1 L971.2,568.5 L973.3,571.9 L975.4,575.3 L977.5,578.7 L979.6,582.1 L981.7,585.5 L983.8,588.9 L985.9,592.3 L988.0,595.7 L990.1,599.1 L992.2,602.5 L994.3,605.9 L996.4,609.3 L998.6,612.7 L1000.7,616.1 L1002.8,619.5 L1004.9,622.9 L1007.1,626.3 L1009.2,629.7 L1011.3,633.1 L1013.4,636.5 L1015.6,639.8 L1017.7,643.2 L1019.8,646.6 L1022.0,650.0 L1024.1,653.4 L1026.3,656.8 L1028.4,660.1 L1030.6,663.5 L1032.7,666.9 L1034.9,670.2 L1037.1,673.6 L1039.3,676.9 L1041.5,680.3 L1043.7,683.6 L1045.9,686.9 L1048.2,690.2 L1050.5,693.5 L1052.7,696.8 L1055.0,700.1 L1057.3,703.4 L1059.6,706.7 L1061.9,709.9 L1064.3,713.2 L1066.6,716.4 L1068.9,719.7 L1071.3,722.9 L1073.7,726.2 L1076.0,729.4 L1078.4,732.6 L1080.8,735.8 L1083.1,739.0 L1085.5,742.3 L1087.9,745.5 L1090.3,748.7 L1092.7,751.9 L1095.1,755.1 L1097.5,758.3 L1099.9,761.5 L1102.3,764.7 L1104.7,767.9 L1107.1,771.1 L1109.5,774.3 L1111.9,777.5 L1114.3,780.7 L1116.7,783.9 L1119.2,787.1 L1121.6,790.2 L1124.1,793.4 L1126.7,796.5 L1129.2,799.5 L1131.9,802.5 L1134.6,805.5 L1137.3,808.4 L1140.1,811.3 L1142.8,814.2 L1145.6,817.1 L1148.3,820.0 L1151.1,822.9 L1153.9,825.8 L1156.6,828.7 L1159.4,831.6 L1162.2,834.4 L1165.0,837.3 L1167.8,840.1 L1170.7,843.0 L1173.5,845.7 L1176.4,848.5 L1179.3,851.3 L1182.3,854.0 L1185.3,856.6 L1188.3,859.3 L1191.3,861.9 L1194.4,864.5 L1197.4,867.0 L1200.5,869.6 L1203.6,872.1 L1206.7,874.7 L1209.8,877.2 L1212.9,879.8 L1216.0,882.3 L1219.0,884.9 L1222.1,887.4 L1225.3,889.9 L1228.4,892.4 L1231.5,894.9 L1234.6,897.4 L1237.8,899.9 L1240.9,902.3 L1244.1,904.8 L1247.3,907.2 L1250.5,909.6 L1253.7,912.0 L1256.9,914.4 L1260.1,916.8 L1263.3,919.1 L1266.6,921.5 L1269.9,923.8 L1273.2,926.0 L1276.5,928.2 L1279.9,930.3 L1283.4,932.4 L1286.9,934.3 L1290.4,936.2 L1294.0,938.0 L1297.6,939.7 L1301.2,941.4 L1304.9,943.0 L1308.5,944.7 L1312.2,946.2 L1315.9,947.8 L1319.6,949.4 L1323.2,951.0 L1326.9,952.5 L1330.6,954.1 L1334.3,955.6 L1338.1,957.0 L1341.8,958.5 L1345.5,959.9 L1349.3,961.3 L1353.0,962.7 L1356.8,964.0 L1360.6,965.3 L1364.4,966.6 L1368.2,967.8 L1372.0,969.1 L1375.8,970.3 L1379.6,971.6 L1383.4,972.8 L1387.2,974.0 L1391.1,975.2 L1394.9,976.4 L1398.7,977.6 L1402.5,978.8 L1406.3,980.0 L1410.2,981.1 L1414.0,982.3 L1417.8,983.4 L1421.7,984.6 L1425.5,985.7 L1429.3,986.9 L1433.2,988.0 L1437.0,989.1 L1440.9,990.3 L1444.7,991.4 L1448.5,992.5 L1452.4,993.6 L1456.2,994.8 L1460.1,995.9 L1463.9,997.0 L1467.7,998.1 L1471.6,999.2 L1475.4,1000.3 L1479.3,1001.4 L1483.1,1002.5 L1487.0,1003.6 L1490.8,1004.7 L1494.7,1005.8 L1498.5,1006.9 L1502.4,1008.0 L1506.2,1009.1 L1510.1,1010.2 L1513.9,1011.4 L1517.8,1012.5 L1521.6,1013.6 L1525.5,1014.7 L1529.3,1015.8 L1533.1,1016.9 L1537.0,1018.0 L1540.8,1019.2 L1544.7,1020.3 L1548.5,1021.4 L1552.3,1022.6 L1556.2,1023.7 L1560.0,1024.8 L1563.9,1025.9 L1567.7,1027.1 L1571.5,1028.2 L1575.4,1029.3 L1579.2,1030.5 L1583.1,1031.6 L1586.9,1032.7 L1590.7,1033.9 L1594.6,1035.0 L1598.4,1036.2 L1602.2,1037.3 L1606.1,1038.4 L1608.0,1039.0" stroke="#002c9c"/><path d="M237.0,105.7 L238.1,109.5 L239.2,113.4 L240.3,117.2 L241.4,121.1 L242.5,124.9 L243.6,128.8 L244.8,132.6 L245.9,136.4 L247.1,140.3 L248.3,144.1 L249.6,147.9 L250.8,151.7 L252.1,155.5 L253.4,159.3 L254.7,163.1 L255.9,166.9 L257.2,170.7 L258.5,174.5 L259.7,178.3 L261.0,182.1 L262.2,185.9 L263.5,189.7 L264.8,193.4 L266.1,197.2 L267.4,201.0 L268.7,204.8 L270.0,208.6 L271.3,212.4 L272.7,216.1 L274.1,219.9 L275.5,223.6 L277.0,227.3 L278.5,231.1 L280.0,234.8 L281.5,238.5 L283.0,242.2 L284.6,245.8 L286.2,249.5 L287.8,253.2 L289.5,256.8 L291.2,260.4 L293.1,263.9 L295.0,267.4 L297.1,270.8 L299.4,274.1 L301.9,277.3 L304.4,280.3 L306.9,283.4 L309.4,286.6 L311.8,289.7 L314.2,293.0 L316.4,296.3 L318.7,299.6 L321.1,302.8 L323.5,306.0 L326.0,309.1 L328.6,312.1 L331.4,315.0 L334.2,317.9 L337.1,320.6 L340.1,323.2 L343.2,325.7 L346.5,327.9 L350.0,329.9 L353.6,331.7 L357.2,333.3 L360.9,334.7 L364.7,336.0 L368.5,337.2 L372.4,338.2 L376.3,339.2 L380.2,340.0 L384.1,340.6 L388.1,341.1 L392.1,341.2 L396.0,341.1 L400.0,340.7 L403.9,340.0 L407.8,339.2 L411.7,338.2 L415.5,337.1 L419.3,335.7 L423.0,334.2 L426.6,332.6 L430.2,330.8 L433.7,328.9 L437.2,326.9 L440.6,324.8 L443.9,322.5 L447.0,320.1 L450.1,317.5 L453.1,314.8 L455.9,312.0 L458.7,309.2 L461.4,306.2 L464.1,303.2 L466.7,300.3 L469.4,297.3 L472.1,294.3 L474.8,291.4 L477.6,288.5 L480.4,285.6 L483.2,282.8 L486.0,280.0 L488.9,277.2 L491.7,274.3 L494.6,271.5 L497.4,268.7 L500.1,265.8 L502.9,262.8 L505.6,259.9 L508.2,256.9 L510.9,253.9 L513.5,250.9 L516.2,247.9 L518.9,245.0 L521.7,242.1 L524.5,239.2 L527.4,236.5 L530.3,233.7 L533.2,231.0 L536.2,228.3 L539.2,225.7 L542.2,223.0 L545.2,220.4 L548.2,217.8 L551.2,215.1 L554.2,212.4 L557.2,209.8 L560.2,207.1 L563.2,204.5 L566.3,202.0 L569.5,199.6 L572.8,197.3 L576.1,195.1 L579.5,193.0 L583.0,191.0 L586.5,189.1 L590.1,187.3 L593.7,185.6 L597.3,184.0 L601.0,182.4 L604.8,181.0 L608.6,179.7 L612.3,178.4 L616.2,177.2 L620.0,176.0 L623.8,174.7 L627.6,173.5 L631.4,172.5 L635.3,171.6 L639.2,171.0 L643.2,170.8 L647.2,170.8 L651.1,171.1 L655.1,171.7 L659.1,172.3 L663.0,173.1 L666.9,173.9 L670.8,174.9 L674.6,176.0 L678.4,177.1 L682.2,178.4 L686.0,179.8 L689.7,181.2 L693.4,182.8 L697.0,184.5 L700.6,186.2 L704.2,188.1 L707.7,190.0 L711.2,192.0 L714.6,194.0 L718.0,196.1 L721.4,198.3 L724.7,200.5 L727.9,202.8 L731.1,205.3 L734.2,207.8 L737.1,210.5 L739.9,213.4 L742.6,216.3 L745.2,219.4 L747.7,222.5 L750.2,225.6 L752.7,228.7 L755.2,231.9 L757.6,235.0 L760.1,238.2 L762.6,241.3 L765.1,244.4 L767.6,247.6 L770.0,250.8 L772.5,253.9 L775.0,257.0 L777.6,260.0 L780.3,263.0 L783.2,265.8 L786.2,268.4 L789.3,270.8 L792.6,273.1 L795.9,275.3 L799.2,277.6 L802.3,280.1 L805.3,282.7 L808.1,285.5 L810.8,288.5 L813.4,291.6 L815.8,294.7 L818.2,297.9 L820.6,301.1 L822.9,304.4 L825.1,307.7 L827.3,311.1 L829.5,314.5 L831.6,317.8 L833.7,321.3 L835.7,324.7 L837.7,328.2 L839.7,331.7 L841.6,335.2 L843.5,338.7 L845.4,342.2 L847.2,345.8 L849.0,349.4 L850.8,352.9 L852.5,356.5 L854.3,360.1 L856.1,363.7 L857.8,367.3 L859.5,370.9 L861.3,374.5 L863.0,378.2 L864.7,381.8 L866.5,385.4 L868.2,389.0 L870.0,392.6 L871.8,396.2 L873.5,399.7 L875.3,403.3 L877.1,406.9 L878.9,410.5 L880.6,414.1 L882.4,417.7 L884.1,421.3 L885.9,424.9 L887.6,428.5 L889.4,432.1 L891.1,435.7 L892.8,439.3 L894.6,442.9 L896.4,446.5 L898.2,450.1 L899.9,453.6 L901.8,457.2 L903.6,460.8 L905.5,464.3 L907.3,467.8 L909.3,471.4 L911.2,474.9 L913.2,478.3 L915.2,481.8 L917.2,485.2 L919.3,488.7 L921.4,492.1 L923.5,495.5 L925.6,498.9 L927.7,502.3 L929.8,505.7 L932.0,509.1 L934.1,512.4 L936.3,515.8 L938.5,519.2 L940.6,522.5 L942.8,525.9 L944.9,529.3 L947.1,532.7 L949.2,536.0 L951.3,539.4 L953.4,542.9 L955.5,546.3 L957.6,549.7 L959.6,553.1 L961.7,556.6 L963.7,560.0 L965.7,563.5 L967.8,566.9 L969.8,570.4 L971.8,573.8 L973.8,577.3 L975.8,580.8 L977.8,584.2 L979.8,587.7 L981.8,591.2 L983.8,594.6 L985.8,598.1 L987.7,601.6 L989.7,605.1 L991.7,608.6 L993.6,612.1 L995.6,615.6 L997.5,619.1 L999.5,622.6 L1001.4,626.1 L1003.3,629.6 L1005.2,633.1 L1007.2,636.6 L1009.1,640.1 L1011.0,643.6 L1013.0,647.1 L1014.9,650.6 L1016.8,654.1 L1018.8,657.6 L1020.8,661.1 L1022.7,664.6 L1024.7,668.1 L1026.7,671.5 L1028.7,675.0 L1030.7,678.5 L1032.7,681.9 L1034.7,685.4 L1036.8,688.8 L1038.8,692.3 L1040.9,695.7 L1042.9,699.1 L1045.0,702.6 L1047.1,706.0 L1049.1,709.4 L1051.2,712.8 L1053.3,716.2 L1055.4,719.6 L1057.5,723.0 L1059.7,726.4 L1061.8,729.8 L1063.9,733.2 L1066.1,736.6 L1068.3,739.9 L1070.5,743.3 L1072.7,746.6 L1074.9,749.9 L1077.2,753.2 L1079.5,756.5 L1081.8,759.8 L1084.1,763.0 L1086.5,766.2 L1089.0,769.4 L1091.5,772.5 L1094.0,775.6 L1096.5,778.7 L1099.1,781.8 L1101.7,784.8 L1104.2,787.9 L1106.8,791.0 L1109.4,794.0 L1112.0,797.1 L1114.6,800.1 L1117.2,803.1 L1119.8,806.2 L1122.5,809.2 L1125.1,812.2 L1127.8,815.2 L1130.4,818.2 L1133.0,821.2 L1135.7,824.2 L1138.3,827.2 L1140.9,830.2 L1143.6,833.3 L1146.2,836.3 L1148.9,839.2 L1151.6,842.2 L1154.3,845.1 L1157.1,848.0 L1159.9,850.8 L1162.8,853.6 L1165.7,856.4 L1168.6,859.2 L1171.5,861.9 L1174.5,864.6 L1177.5,867.3 L1180.4,869.9 L1183.5,872.5 L1186.5,875.2 L1189.5,877.8 L1192.5,880.4 L1195.5,883.0 L1198.6,885.7 L1201.6,888.3 L1204.7,890.8 L1207.7,893.4 L1210.8,896.0 L1213.9,898.6 L1216.9,901.1 L1220.0,903.7 L1223.1,906.2 L1226.3,908.7 L1229.4,911.2 L1232.6,913.6 L1235.7,916.1 L1238.9,918.5 L1242.2,920.8 L1245.4,923.2 L1248.7,925.5 L1252.0,927.7 L1255.3,929.9 L1258.7,932.1 L1262.0,934.3 L1265.4,936.5 L1268.8,938.6 L1272.2,940.7 L1275.7,942.7 L1279.2,944.6 L1282.7,946.5 L1286.3,948.2 L1290.0,949.7 L1293.7,951.2 L1297.4,952.7 L1301.2,954.1 L1304.9,955.6 L1308.5,957.2 L1312.2,958.9 L1315.8,960.7 L1319.3,962.5 L1322.9,964.3 L1326.4,966.2 L1330.0,968.0 L1333.6,969.8 L1337.2,971.6 L1340.8,973.3 L1344.4,974.9 L1348.1,976.5 L1351.8,978.0 L1355.6,979.3 L1359.4,980.6 L1363.2,981.9 L1367.0,983.0 L1370.8,984.1 L1374.7,985.2 L1378.6,986.3 L1382.4,987.3 L1386.3,988.3 L1390.2,989.4 L1394.0,990.4 L1397.9,991.4 L1401.8,992.5 L1405.6,993.5 L1409.5,994.5 L1413.4,995.6 L1417.2,996.6 L1421.1,997.5 L1425.0,998.5 L1428.9,999.5 L1432.7,1000.5 L1436.6,1001.5 L1440.5,1002.5 L1444.4,1003.5 L1448.2,1004.6 L1452.1,1005.6 L1456.0,1006.7 L1459.8,1007.7 L1463.7,1008.8 L1467.5,1009.9 L1471.4,1011.0 L1475.2,1012.1 L1479.1,1013.2 L1482.9,1014.3 L1486.8,1015.4 L1490.6,1016.6 L1494.4,1017.7 L1498.3,1018.8 L1502.1,1019.9 L1506.0,1021.0 L1509.8,1022.2 L1513.7,1023.3 L1517.5,1024.4 L1521.3,1025.5 L1525.2,1026.6 L1529.0,1027.7 L1532.9,1028.8 L1536.7,1029.9 L1540.6,1031.0 L1544.4,1032.1 L1548.3,1033.2 L1552.1,1034.3 L1556.0,1035.4 L1559.8,1036.4 L1563.7,1037.5 L1567.5,1038.6 L1571.4,1039.7 L1575.2,1040.8 L1579.1,1041.9 L1583.0,1043.0 L1586.8,1044.0 L1590.7,1045.1 L1594.5,1046.2 L1598.4,1047.3 L1602.2,1048.4 L1606.1,1049.5 L1608.0,1050.0" stroke="#002c9c"/><path d="M249.2,112.9 L250.2,116.8 L251.2,120.7 L252.2,124.5 L253.2,128.4 L254.3,132.3 L255.3,136.1 L256.4,140.0 L257.5,143.8 L258.6,147.7 L259.8,151.5 L260.9,155.4 L262.0,159.2 L263.2,163.0 L264.3,166.9 L265.4,170.7 L266.6,174.6 L267.7,178.4 L268.8,182.2 L270.0,186.1 L271.2,189.9 L272.4,193.7 L273.7,197.5 L275.0,201.3 L276.4,205.0 L277.8,208.8 L279.3,212.5 L280.8,216.2 L282.4,219.8 L284.1,223.5 L285.9,227.1 L287.7,230.6 L289.6,234.2 L291.5,237.7 L293.6,241.1 L295.7,244.5 L297.9,247.8 L300.2,251.1 L302.6,254.3 L305.1,257.4 L307.7,260.4 L310.4,263.4 L313.1,266.4 L315.8,269.3 L318.6,272.2 L321.4,275.0 L324.3,277.8 L327.1,280.6 L330.0,283.4 L332.9,286.2 L335.8,289.0 L338.7,291.7 L341.8,294.2 L345.0,296.5 L348.4,298.6 L351.9,300.6 L355.5,302.3 L359.1,304.0 L362.8,305.5 L366.6,307.0 L370.3,308.3 L374.1,309.6 L377.9,310.8 L381.8,311.8 L385.7,312.6 L389.6,313.2 L393.6,313.5 L397.6,313.5 L401.5,313.2 L405.5,312.7 L409.4,312.0 L413.3,311.0 L417.1,309.9 L420.9,308.6 L424.6,307.1 L428.2,305.4 L431.7,303.5 L435.2,301.5 L438.6,299.4 L441.9,297.2 L445.2,294.9 L448.5,292.6 L451.6,290.1 L454.7,287.5 L457.6,284.8 L460.5,282.1 L463.3,279.2 L466.1,276.3 L468.8,273.4 L471.6,270.5 L474.4,267.7 L477.3,264.9 L480.1,262.1 L483.0,259.3 L486.0,256.6 L488.9,253.8 L491.8,251.1 L494.7,248.3 L497.5,245.5 L500.4,242.7 L503.2,239.8 L505.9,236.9 L508.6,234.0 L511.3,231.0 L514.0,228.1 L516.8,225.2 L519.6,222.3 L522.5,219.6 L525.5,216.9 L528.5,214.3 L531.7,211.8 L534.8,209.4 L538.1,207.0 L541.3,204.7 L544.6,202.4 L547.9,200.1 L551.2,197.8 L554.5,195.5 L557.8,193.3 L561.1,191.1 L564.5,188.9 L567.9,186.9 L571.4,184.9 L574.9,183.0 L578.5,181.1 L582.1,179.4 L585.7,177.8 L589.4,176.2 L593.1,174.8 L596.9,173.4 L600.7,172.2 L604.6,171.1 L608.4,170.1 L612.3,169.2 L616.2,168.4 L620.2,167.7 L624.1,167.0 L628.1,166.4 L632.0,165.9 L636.0,165.6 L640.0,165.3 L644.0,165.1 L648.0,165.1 L652.0,165.1 L656.0,165.3 L660.0,165.7 L664.0,166.2 L667.9,166.9 L671.8,167.7 L675.7,168.6 L679.5,169.7 L683.4,170.8 L687.2,172.0 L691.0,173.4 L694.7,174.8 L698.4,176.3 L702.0,178.0 L705.6,179.8 L709.1,181.8 L712.5,183.9 L715.8,186.1 L719.1,188.4 L722.3,190.8 L725.5,193.2 L728.6,195.7 L731.7,198.2 L734.7,200.8 L737.7,203.5 L740.7,206.2 L743.6,208.9 L746.4,211.8 L749.2,214.6 L752.0,217.5 L754.7,220.5 L757.3,223.5 L759.9,226.5 L762.5,229.6 L765.0,232.7 L767.5,235.8 L769.9,239.0 L772.3,242.2 L774.7,245.5 L777.0,248.7 L779.3,252.0 L781.5,255.4 L783.7,258.7 L786.0,262.0 L788.2,265.3 L790.4,268.7 L792.6,272.0 L794.8,275.3 L797.0,278.7 L799.1,282.1 L801.3,285.5 L803.4,288.9 L805.5,292.2 L807.6,295.6 L809.8,299.1 L811.9,302.5 L814.0,305.9 L816.1,309.3 L818.2,312.7 L820.3,316.0 L822.5,319.4 L824.6,322.8 L826.8,326.1 L829.0,329.5 L831.2,332.8 L833.5,336.2 L835.7,339.5 L837.8,342.9 L840.0,346.2 L842.1,349.6 L844.2,353.1 L846.2,356.5 L848.1,360.0 L850.0,363.6 L851.8,367.1 L853.6,370.7 L855.4,374.3 L857.1,377.9 L858.8,381.5 L860.5,385.2 L862.3,388.8 L864.0,392.4 L865.8,396.0 L867.5,399.5 L869.3,403.1 L871.1,406.7 L872.9,410.3 L874.6,413.9 L876.4,417.5 L878.2,421.1 L880.0,424.7 L881.7,428.3 L883.5,431.9 L885.2,435.5 L887.0,439.1 L888.7,442.7 L890.4,446.3 L892.2,449.9 L893.9,453.5 L895.6,457.1 L897.4,460.7 L899.1,464.3 L900.8,467.9 L902.6,471.5 L904.3,475.2 L906.0,478.8 L907.8,482.4 L909.5,486.0 L911.3,489.6 L913.0,493.2 L914.8,496.7 L916.7,500.3 L918.5,503.8 L920.4,507.4 L922.4,510.9 L924.4,514.3 L926.3,517.8 L928.4,521.3 L930.4,524.7 L932.4,528.2 L934.4,531.7 L936.4,535.1 L938.4,538.6 L940.5,542.0 L942.5,545.5 L944.5,549.0 L946.5,552.4 L948.5,555.9 L950.5,559.3 L952.5,562.8 L954.5,566.3 L956.6,569.7 L958.6,573.2 L960.6,576.6 L962.6,580.1 L964.6,583.6 L966.6,587.0 L968.6,590.5 L970.6,594.0 L972.5,597.5 L974.5,601.0 L976.5,604.4 L978.4,607.9 L980.4,611.4 L982.3,615.0 L984.2,618.5 L986.1,622.0 L988.0,625.5 L989.9,629.0 L991.8,632.6 L993.7,636.1 L995.6,639.6 L997.5,643.1 L999.4,646.7 L1001.3,650.2 L1003.2,653.7 L1005.1,657.2 L1007.0,660.7 L1009.0,664.3 L1010.9,667.8 L1012.8,671.3 L1014.8,674.8 L1016.8,678.2 L1018.8,681.7 L1020.8,685.2 L1022.8,688.6 L1024.9,692.0 L1027.0,695.4 L1029.1,698.8 L1031.3,702.2 L1033.4,705.6 L1035.6,708.9 L1037.8,712.3 L1040.0,715.6 L1042.2,719.0 L1044.4,722.3 L1046.6,725.7 L1048.8,729.0 L1050.9,732.4 L1053.1,735.8 L1055.3,739.1 L1057.5,742.5 L1059.7,745.8 L1061.9,749.2 L1064.1,752.5 L1066.3,755.8 L1068.6,759.1 L1070.9,762.4 L1073.2,765.7 L1075.6,768.9 L1078.0,772.1 L1080.4,775.2 L1082.9,778.4 L1085.4,781.5 L1088.0,784.6 L1090.5,787.7 L1093.0,790.8 L1095.5,793.9 L1098.1,797.0 L1100.6,800.1 L1103.1,803.2 L1105.7,806.3 L1108.2,809.4 L1110.8,812.5 L1113.3,815.6 L1115.9,818.6 L1118.5,821.7 L1121.1,824.7 L1123.7,827.7 L1126.4,830.8 L1129.0,833.8 L1131.7,836.7 L1134.4,839.7 L1137.1,842.7 L1139.7,845.7 L1142.4,848.6 L1145.1,851.6 L1147.8,854.6 L1150.4,857.6 L1153.0,860.6 L1155.7,863.6 L1158.4,866.6 L1161.1,869.6 L1163.8,872.5 L1166.6,875.3 L1169.6,878.0 L1172.6,880.7 L1175.7,883.2 L1178.9,885.6 L1182.1,887.9 L1185.4,890.2 L1188.8,892.4 L1192.1,894.5 L1195.5,896.7 L1198.8,898.9 L1202.1,901.2 L1205.4,903.5 L1208.6,905.8 L1211.9,908.2 L1215.1,910.6 L1218.3,913.0 L1221.5,915.4 L1224.7,917.8 L1227.9,920.2 L1231.2,922.5 L1234.4,924.8 L1237.7,927.1 L1241.0,929.4 L1244.3,931.7 L1247.6,933.9 L1250.9,936.2 L1254.3,938.4 L1257.6,940.6 L1260.9,942.8 L1264.3,945.0 L1267.7,947.2 L1271.0,949.3 L1274.4,951.5 L1277.8,953.6 L1281.2,955.8 L1284.5,957.9 L1287.9,960.0 L1291.4,962.1 L1294.8,964.2 L1298.3,966.2 L1301.8,968.1 L1305.3,970.0 L1308.9,971.8 L1312.5,973.5 L1316.2,975.1 L1319.8,976.7 L1323.5,978.2 L1327.3,979.6 L1331.0,981.1 L1334.8,982.5 L1338.5,983.9 L1342.2,985.3 L1346.0,986.8 L1349.7,988.2 L1353.4,989.7 L1357.2,991.2 L1360.9,992.7 L1364.6,994.1 L1368.3,995.6 L1372.0,997.1 L1375.7,998.6 L1379.5,1000.1 L1383.2,1001.5 L1386.9,1003.0 L1390.6,1004.4 L1394.4,1005.9 L1398.1,1007.3 L1401.9,1008.7 L1405.6,1010.1 L1409.4,1011.5 L1413.1,1012.9 L1416.9,1014.2 L1420.7,1015.6 L1424.4,1017.0 L1428.2,1018.3 L1432.0,1019.6 L1435.8,1021.0 L1439.5,1022.3 L1443.3,1023.5 L1447.1,1024.8 L1450.9,1026.1 L1454.7,1027.3 L1458.6,1028.5 L1462.4,1029.7 L1466.2,1030.9 L1470.0,1032.1 L1473.9,1033.2 L1477.7,1034.3 L1481.6,1035.4 L1485.4,1036.5 L1489.3,1037.6 L1493.1,1038.7 L1497.0,1039.8 L1500.8,1040.8 L1504.7,1041.9 L1508.6,1042.9 L1512.4,1043.9 L1516.3,1045.0 L1520.2,1046.0 L1524.1,1047.0 L1527.9,1048.0 L1531.8,1048.9 L1535.7,1049.9 L1539.6,1050.9 L1543.5,1051.8 L1547.4,1052.7 L1551.3,1053.6 L1555.2,1054.5 L1559.1,1055.4 L1563.0,1056.3 L1566.9,1057.1 L1570.8,1058.0 L1574.7,1058.9 L1578.6,1059.7 L1582.5,1060.6 L1586.5,1061.4 L1590.4,1062.3 L1594.3,1063.1 L1598.2,1063.9 L1602.1,1064.8 L1606.0,1065.6 L1608.0,1066.0" stroke="#7800d2"/><path d="M260.5,107.0 L261.7,110.8 L262.9,114.6 L264.2,118.4 L265.4,122.2 L266.6,126.1 L267.9,129.9 L269.1,133.7 L270.3,137.5 L271.6,141.3 L272.8,145.1 L274.1,148.9 L275.4,152.7 L276.7,156.4 L278.1,160.2 L279.4,164.0 L280.8,167.8 L282.2,171.5 L283.6,175.2 L285.1,179.0 L286.7,182.6 L288.3,186.3 L290.0,189.9 L291.7,193.5 L293.5,197.1 L295.4,200.6 L297.3,204.2 L299.3,207.6 L301.3,211.1 L303.4,214.5 L305.5,217.9 L307.6,221.3 L309.9,224.6 L312.1,227.9 L314.5,231.1 L316.9,234.3 L319.4,237.4 L322.0,240.5 L324.7,243.4 L327.5,246.3 L330.3,249.2 L333.2,251.9 L336.2,254.6 L339.3,257.1 L342.5,259.5 L345.7,261.8 L349.1,264.0 L352.6,266.0 L356.1,267.9 L359.7,269.6 L363.3,271.4 L366.9,273.1 L370.5,274.8 L374.1,276.5 L377.8,278.1 L381.5,279.5 L385.3,280.7 L389.2,281.5 L393.1,281.9 L397.1,282.0 L401.1,281.7 L405.0,281.2 L409.0,280.5 L412.9,279.7 L416.7,278.7 L420.5,277.5 L424.3,276.2 L428.1,274.8 L431.8,273.3 L435.4,271.6 L439.0,269.9 L442.6,268.1 L446.1,266.2 L449.6,264.1 L453.0,262.1 L456.4,260.0 L459.8,257.9 L463.2,255.7 L466.6,253.6 L470.0,251.5 L473.3,249.3 L476.6,247.0 L479.8,244.6 L482.9,242.1 L485.8,239.3 L488.6,236.5 L491.3,233.5 L494.0,230.6 L496.7,227.6 L499.4,224.7 L502.2,221.9 L505.1,219.1 L508.0,216.3 L510.9,213.6 L513.9,210.9 L516.9,208.3 L520.0,205.7 L523.1,203.3 L526.4,201.0 L529.7,198.8 L533.1,196.7 L536.6,194.6 L540.1,192.6 L543.5,190.6 L546.9,188.5 L550.2,186.3 L553.5,184.0 L556.7,181.6 L559.9,179.2 L563.2,176.9 L566.5,174.7 L569.9,172.7 L573.5,170.9 L577.2,169.4 L581.0,168.1 L584.8,167.0 L588.7,165.9 L592.5,164.9 L596.4,163.8 L600.2,162.6 L604.0,161.4 L607.8,160.2 L611.7,159.0 L615.5,158.0 L619.4,157.2 L623.4,156.5 L627.3,156.0 L631.3,155.7 L635.3,155.7 L639.3,155.8 L643.3,156.1 L647.2,156.5 L651.2,157.1 L655.1,157.9 L659.0,158.8 L662.9,159.8 L666.7,160.9 L670.5,162.2 L674.3,163.5 L678.1,164.9 L681.8,166.3 L685.5,167.8 L689.2,169.4 L692.8,171.1 L696.4,172.8 L699.9,174.7 L703.4,176.6 L706.8,178.7 L710.2,180.9 L713.5,183.2 L716.7,185.6 L719.9,188.0 L723.1,190.4 L726.2,192.9 L729.3,195.4 L732.4,197.9 L735.5,200.5 L738.5,203.2 L741.4,205.9 L744.3,208.6 L747.1,211.5 L749.9,214.4 L752.6,217.3 L755.2,220.3 L757.8,223.4 L760.4,226.4 L762.9,229.5 L765.4,232.7 L767.9,235.8 L770.3,239.0 L772.7,242.2 L775.0,245.5 L777.3,248.7 L779.6,252.0 L781.9,255.4 L784.1,258.7 L786.4,262.0 L788.6,265.3 L790.8,268.6 L793.0,272.0 L795.3,275.3 L797.4,278.7 L799.6,282.0 L801.8,285.4 L803.9,288.8 L806.1,292.1 L808.2,295.5 L810.3,298.9 L812.5,302.3 L814.6,305.7 L816.7,309.1 L818.8,312.5 L821.0,315.9 L823.2,319.2 L825.3,322.6 L827.5,325.9 L829.8,329.3 L832.0,332.6 L834.2,335.9 L836.4,339.2 L838.7,342.6 L840.8,345.9 L843.0,349.3 L845.0,352.7 L847.1,356.2 L849.0,359.7 L850.9,363.2 L852.8,366.7 L854.6,370.3 L856.4,373.9 L858.1,377.5 L859.8,381.1 L861.6,384.7 L863.3,388.3 L865.1,391.9 L866.9,395.5 L868.7,399.1 L870.5,402.7 L872.2,406.3 L874.0,409.8 L875.8,413.4 L877.6,417.0 L879.4,420.6 L881.2,424.2 L883.0,427.7 L884.7,431.3 L886.5,434.9 L888.3,438.5 L890.0,442.1 L891.8,445.7 L893.5,449.3 L895.3,452.9 L897.0,456.5 L898.8,460.1 L900.5,463.7 L902.3,467.3 L904.0,470.9 L905.8,474.5 L907.5,478.1 L909.3,481.7 L911.0,485.3 L912.8,488.9 L914.6,492.5 L916.4,496.1 L918.3,499.6 L920.1,503.2 L922.1,506.7 L924.0,510.2 L926.0,513.6 L928.0,517.1 L930.0,520.6 L932.0,524.0 L934.1,527.5 L936.1,530.9 L938.2,534.3 L940.2,537.8 L942.2,541.2 L944.3,544.7 L946.3,548.1 L948.3,551.6 L950.3,555.1 L952.4,558.5 L954.4,561.9 L956.4,565.4 L958.5,568.8 L960.5,572.3 L962.5,575.7 L964.6,579.2 L966.6,582.7 L968.6,586.1 L970.6,589.6 L972.6,593.0 L974.6,596.5 L976.6,600.0 L978.6,603.5 L980.6,606.9 L982.5,610.4 L984.5,613.9 L986.4,617.4 L988.3,620.9 L990.3,624.4 L992.2,628.0 L994.1,631.5 L996.0,635.0 L997.9,638.5 L999.8,642.0 L1001.8,645.5 L1003.7,649.1 L1005.6,652.6 L1007.5,656.1 L1009.4,659.6 L1011.4,663.1 L1013.3,666.6 L1015.3,670.1 L1017.3,673.6 L1019.3,677.0 L1021.3,680.5 L1023.3,684.0 L1025.3,687.4 L1027.4,690.8 L1029.5,694.2 L1031.6,697.6 L1033.8,701.0 L1036.0,704.4 L1038.1,707.7 L1040.3,711.1 L1042.5,714.4 L1044.7,717.8 L1046.9,721.1 L1049.1,724.4 L1051.3,727.8 L1053.5,731.1 L1055.7,734.5 L1057.9,737.9 L1060.1,741.2 L1062.2,744.6 L1064.4,747.9 L1066.6,751.3 L1068.9,754.6 L1071.1,757.9 L1073.4,761.2 L1075.7,764.4 L1078.1,767.7 L1080.5,770.9 L1082.9,774.1 L1085.4,777.2 L1087.9,780.3 L1090.4,783.5 L1092.9,786.6 L1095.5,789.7 L1098.0,792.8 L1100.5,795.9 L1103.0,799.0 L1105.6,802.1 L1108.1,805.2 L1110.6,808.3 L1113.2,811.4 L1115.8,814.4 L1118.3,817.5 L1120.9,820.5 L1123.5,823.6 L1126.2,826.6 L1128.8,829.6 L1131.4,832.6 L1134.1,835.6 L1136.8,838.6 L1139.5,841.6 L1142.1,844.5 L1144.8,847.5 L1147.5,850.5 L1150.2,853.4 L1152.9,856.4 L1155.6,859.4 L1158.3,862.4 L1160.9,865.3 L1163.7,868.3 L1166.4,871.2 L1169.1,874.1 L1171.9,876.9 L1174.8,879.8 L1177.7,882.5 L1180.6,885.2 L1183.6,887.9 L1186.7,890.5 L1189.7,893.1 L1192.7,895.8 L1195.7,898.4 L1198.6,901.1 L1201.5,903.9 L1204.4,906.7 L1207.2,909.6 L1210.0,912.4 L1212.8,915.3 L1215.6,918.1 L1218.5,920.9 L1221.3,923.7 L1224.2,926.5 L1227.2,929.2 L1230.2,931.8 L1233.2,934.5 L1236.2,937.1 L1239.3,939.7 L1242.4,942.2 L1245.5,944.7 L1248.6,947.2 L1251.7,949.7 L1254.9,952.2 L1258.1,954.6 L1261.3,957.0 L1264.6,959.3 L1267.8,961.6 L1271.2,963.8 L1274.6,966.0 L1278.0,968.0 L1281.4,970.1 L1284.9,972.0 L1288.4,973.9 L1292.0,975.8 L1295.6,977.6 L1299.2,979.3 L1302.8,981.0 L1306.4,982.7 L1310.1,984.3 L1313.8,985.8 L1317.5,987.3 L1321.2,988.8 L1325.0,990.2 L1328.7,991.6 L1332.5,993.0 L1336.3,994.3 L1340.0,995.6 L1343.8,997.0 L1347.6,998.3 L1351.3,999.7 L1355.1,1001.1 L1358.8,1002.5 L1362.6,1003.9 L1366.3,1005.3 L1370.1,1006.7 L1373.8,1008.2 L1377.6,1009.6 L1381.3,1011.0 L1385.1,1012.4 L1388.8,1013.8 L1392.5,1015.2 L1396.3,1016.6 L1400.1,1018.0 L1403.8,1019.4 L1407.6,1020.8 L1411.3,1022.2 L1415.1,1023.5 L1418.9,1024.9 L1422.6,1026.3 L1426.4,1027.6 L1430.1,1029.0 L1433.9,1030.3 L1437.7,1031.7 L1441.5,1033.0 L1445.2,1034.3 L1449.0,1035.7 L1452.8,1037.0 L1456.6,1038.3 L1460.4,1039.6 L1464.1,1040.9 L1467.9,1042.2 L1471.7,1043.5 L1475.5,1044.8 L1479.3,1046.0 L1483.1,1047.3 L1486.9,1048.4 L1490.8,1049.6 L1494.6,1050.7 L1498.5,1051.8 L1502.3,1052.9 L1506.2,1054.0 L1510.1,1055.0 L1513.9,1056.1 L1517.8,1057.1 L1521.7,1058.1 L1525.5,1059.1 L1529.4,1060.1 L1533.3,1061.1 L1537.2,1062.1 L1541.0,1063.1 L1544.9,1064.1 L1548.8,1065.1 L1552.7,1066.1 L1556.5,1067.1 L1560.4,1068.1 L1564.3,1069.1 L1568.2,1070.1 L1572.1,1071.0 L1576.0,1072.0 L1579.8,1073.0 L1583.7,1074.0 L1587.6,1074.9 L1591.5,1075.9 L1595.4,1076.9 L1599.3,1077.8 L1603.1,1078.8 L1607.0,1079.8 L1608.0,1080.0" stroke="#7800d2"/><path d="M272.0,91.0 L273.0,94.9 L274.0,98.7 L275.1,102.6 L276.1,106.5 L277.1,110.3 L278.2,114.2 L279.3,118.1 L280.4,121.9 L281.6,125.7 L283.0,129.5 L284.4,133.2 L286.0,136.9 L287.6,140.5 L289.3,144.2 L291.1,147.8 L292.9,151.3 L294.7,154.9 L296.5,158.5 L298.3,162.1 L300.1,165.6 L302.0,169.1 L304.0,172.6 L306.1,176.0 L308.3,179.4 L310.5,182.7 L312.8,186.0 L315.2,189.2 L317.5,192.4 L320.0,195.6 L322.4,198.8 L324.8,202.0 L327.3,205.1 L329.8,208.2 L332.5,211.2 L335.2,214.2 L338.1,216.9 L341.1,219.6 L344.2,222.1 L347.3,224.5 L350.6,226.9 L353.9,229.2 L357.2,231.4 L360.5,233.6 L363.9,235.7 L367.4,237.7 L371.0,239.3 L374.7,240.7 L378.5,241.7 L382.4,242.4 L386.4,242.9 L390.4,243.4 L394.3,243.9 L398.3,244.6 L402.1,245.5 L406.0,246.5 L409.9,247.4 L413.8,248.0 L417.7,248.2 L421.7,247.9 L425.6,247.3 L429.5,246.4 L433.3,245.3 L437.1,244.1 L440.9,242.8 L444.7,241.5 L448.4,240.1 L452.2,238.6 L455.9,237.1 L459.6,235.5 L463.2,233.9 L466.9,232.3 L470.5,230.6 L474.1,228.9 L477.7,227.1 L481.3,225.3 L484.8,223.3 L488.2,221.3 L491.6,219.2 L495.0,217.0 L498.3,214.8 L501.6,212.5 L504.8,210.1 L508.0,207.7 L511.2,205.3 L514.3,202.8 L517.4,200.3 L520.5,197.8 L523.6,195.2 L526.7,192.6 L529.8,190.2 L533.1,187.8 L536.4,185.7 L539.9,183.7 L543.5,182.0 L547.1,180.3 L550.8,178.8 L554.5,177.2 L558.1,175.5 L561.6,173.6 L565.1,171.7 L568.6,169.7 L572.1,167.9 L575.8,166.2 L579.5,164.7 L583.2,163.3 L587.0,162.0 L590.8,160.8 L594.6,159.6 L598.5,158.5 L602.3,157.4 L606.2,156.3 L610.1,155.3 L614.0,154.5 L617.9,153.7 L621.8,153.1 L625.8,152.7 L629.8,152.4 L633.8,152.4 L637.8,152.6 L641.7,153.0 L645.7,153.7 L649.6,154.5 L653.4,155.5 L657.3,156.7 L661.1,157.9 L664.9,159.1 L668.7,160.4 L672.5,161.7 L676.2,163.1 L680.0,164.5 L683.7,165.9 L687.4,167.4 L691.1,169.0 L694.7,170.7 L698.3,172.5 L701.8,174.4 L705.2,176.5 L708.5,178.7 L711.8,181.1 L715.0,183.4 L718.2,185.9 L721.3,188.4 L724.5,190.8 L727.6,193.3 L730.7,195.9 L733.8,198.4 L736.8,201.1 L739.8,203.7 L742.7,206.5 L745.5,209.3 L748.3,212.1 L751.1,215.1 L753.7,218.0 L756.4,221.0 L759.0,224.1 L761.5,227.2 L764.1,230.3 L766.6,233.4 L769.0,236.6 L771.4,239.8 L773.8,243.0 L776.1,246.3 L778.4,249.6 L780.6,252.9 L782.9,256.2 L785.1,259.5 L787.3,262.8 L789.6,266.2 L791.8,269.5 L794.1,272.8 L796.3,276.1 L798.5,279.5 L800.7,282.8 L802.8,286.2 L805.0,289.6 L807.2,292.9 L809.3,296.3 L811.5,299.7 L813.6,303.1 L815.7,306.4 L817.9,309.8 L820.0,313.2 L822.2,316.6 L824.4,319.9 L826.6,323.3 L828.8,326.6 L831.1,329.9 L833.3,333.2 L835.6,336.5 L837.8,339.8 L840.0,343.2 L842.2,346.5 L844.4,349.9 L846.5,353.3 L848.5,356.8 L850.5,360.3 L852.4,363.8 L854.2,367.3 L856.0,370.9 L857.8,374.5 L859.6,378.1 L861.3,381.7 L863.1,385.3 L864.9,388.9 L866.7,392.4 L868.4,396.0 L870.3,399.6 L872.1,403.2 L873.9,406.7 L875.7,410.3 L877.5,413.9 L879.3,417.4 L881.1,421.0 L882.9,424.6 L884.7,428.2 L886.5,431.8 L888.3,435.3 L890.0,438.9 L891.8,442.5 L893.6,446.1 L895.4,449.7 L897.1,453.3 L898.9,456.9 L900.7,460.5 L902.4,464.1 L904.2,467.7 L906.0,471.3 L907.7,474.8 L909.5,478.4 L911.3,482.0 L913.0,485.6 L914.8,489.2 L916.6,492.8 L918.5,496.3 L920.3,499.9 L922.2,503.4 L924.2,506.9 L926.1,510.4 L928.1,513.9 L930.2,517.3 L932.2,520.8 L934.3,524.2 L936.3,527.6 L938.4,531.1 L940.4,534.5 L942.5,537.9 L944.5,541.4 L946.6,544.8 L948.6,548.3 L950.7,551.7 L952.7,555.1 L954.8,558.6 L956.8,562.0 L958.9,565.5 L960.9,568.9 L963.0,572.3 L965.0,575.8 L967.1,579.2 L969.1,582.7 L971.1,586.1 L973.2,589.6 L975.2,593.0 L977.2,596.5 L979.2,599.9 L981.2,603.4 L983.2,606.9 L985.2,610.4 L987.2,613.9 L989.1,617.3 L991.1,620.8 L993.0,624.3 L995.0,627.8 L996.9,631.3 L998.8,634.9 L1000.8,638.4 L1002.7,641.9 L1004.6,645.4 L1006.6,648.9 L1008.5,652.4 L1010.4,655.9 L1012.4,659.4 L1014.3,662.9 L1016.3,666.4 L1018.3,669.9 L1020.3,673.3 L1022.3,676.8 L1024.3,680.2 L1026.3,683.7 L1028.4,687.1 L1030.5,690.5 L1032.6,693.9 L1034.7,697.3 L1036.9,700.7 L1039.1,704.1 L1041.3,707.4 L1043.5,710.8 L1045.7,714.1 L1047.9,717.4 L1050.1,720.8 L1052.3,724.1 L1054.5,727.4 L1056.7,730.8 L1058.9,734.1 L1061.1,737.5 L1063.2,740.9 L1065.4,744.2 L1067.6,747.6 L1069.8,750.9 L1072.0,754.3 L1074.3,757.6 L1076.6,760.9 L1078.9,764.1 L1081.2,767.4 L1083.6,770.6 L1086.1,773.7 L1088.5,776.9 L1091.0,780.0 L1093.5,783.1 L1096.1,786.2 L1098.6,789.4 L1101.1,792.5 L1103.7,795.6 L1106.2,798.7 L1108.7,801.8 L1111.3,804.9 L1113.8,808.0 L1116.3,811.0 L1118.9,814.1 L1121.5,817.2 L1124.1,820.2 L1126.7,823.3 L1129.3,826.3 L1131.9,829.3 L1134.6,832.3 L1137.2,835.3 L1139.9,838.3 L1142.6,841.3 L1145.3,844.3 L1148.0,847.2 L1150.7,850.2 L1153.4,853.1 L1156.1,856.1 L1158.8,859.0 L1161.5,862.0 L1164.2,864.9 L1166.9,867.9 L1169.7,870.8 L1172.4,873.7 L1175.1,876.6 L1177.9,879.5 L1180.6,882.4 L1183.4,885.3 L1186.2,888.2 L1188.9,891.1 L1191.7,894.0 L1194.5,896.9 L1197.3,899.7 L1200.1,902.6 L1202.9,905.5 L1205.7,908.3 L1208.5,911.2 L1211.3,914.1 L1214.1,916.9 L1216.9,919.8 L1219.8,922.6 L1222.6,925.4 L1225.5,928.1 L1228.4,930.9 L1231.4,933.6 L1234.3,936.3 L1237.3,939.0 L1240.3,941.6 L1243.4,944.2 L1246.4,946.8 L1249.5,949.4 L1252.6,951.9 L1255.7,954.4 L1258.9,956.9 L1262.0,959.3 L1265.2,961.7 L1268.5,964.1 L1271.8,966.3 L1275.1,968.6 L1278.5,970.7 L1281.9,972.8 L1285.4,974.8 L1288.8,976.8 L1292.3,978.7 L1295.8,980.7 L1299.4,982.6 L1302.9,984.5 L1306.4,986.4 L1310.0,988.2 L1313.6,990.0 L1317.1,991.8 L1320.7,993.5 L1324.4,995.2 L1328.0,996.9 L1331.6,998.6 L1335.3,1000.2 L1339.0,1001.8 L1342.6,1003.4 L1346.3,1004.9 L1350.0,1006.5 L1353.8,1007.9 L1357.5,1009.4 L1361.2,1010.8 L1365.0,1012.2 L1368.7,1013.6 L1372.5,1014.9 L1376.3,1016.3 L1380.0,1017.7 L1383.8,1019.0 L1387.6,1020.4 L1391.3,1021.8 L1395.1,1023.2 L1398.8,1024.6 L1402.6,1026.0 L1406.3,1027.5 L1410.0,1029.0 L1413.7,1030.5 L1417.4,1032.0 L1421.1,1033.6 L1424.8,1035.1 L1428.5,1036.7 L1432.2,1038.2 L1435.9,1039.7 L1439.6,1041.2 L1443.3,1042.7 L1447.0,1044.2 L1450.8,1045.6 L1454.5,1047.0 L1458.3,1048.3 L1462.1,1049.6 L1465.9,1050.9 L1469.7,1052.1 L1473.5,1053.2 L1477.4,1054.4 L1481.2,1055.5 L1485.1,1056.5 L1489.0,1057.5 L1492.8,1058.5 L1496.7,1059.5 L1500.6,1060.5 L1504.5,1061.5 L1508.4,1062.5 L1512.3,1063.4 L1516.1,1064.4 L1520.0,1065.4 L1523.9,1066.4 L1527.8,1067.4 L1531.6,1068.5 L1535.5,1069.5 L1539.4,1070.5 L1543.2,1071.6 L1547.1,1072.6 L1551.0,1073.6 L1554.8,1074.7 L1558.7,1075.7 L1562.6,1076.8 L1566.4,1077.8 L1570.3,1078.8 L1574.2,1079.9 L1578.0,1080.9 L1581.9,1082.0 L1585.8,1083.0 L1589.6,1084.1 L1593.5,1085.1 L1597.4,1086.1 L1601.2,1087.2 L1605.1,1088.2 L1608.0,1089.0" stroke="#7800d2"/></g>
<path d="M192.0,41.0799999999997 V1132.6 H1622.0" fill="none" stroke="#000" stroke-width="4.4" stroke-linejoin="miter"/><g stroke="#000" stroke-width="4.4" stroke-linecap="round"><line x1="192.0" y1="1132.60" x2="155.3" y2="1132.60"/><line x1="192.0" y1="859.72" x2="155.3" y2="859.72"/><line x1="192.0" y1="586.84" x2="155.3" y2="586.84"/><line x1="192.0" y1="313.96" x2="155.3" y2="313.96"/><line x1="192.0" y1="41.08" x2="155.3" y2="41.08"/><line x1="192.0" y1="996.16" x2="174.7" y2="996.16"/><line x1="192.0" y1="723.28" x2="174.7" y2="723.28"/><line x1="192.0" y1="450.40" x2="174.7" y2="450.40"/><line x1="192.0" y1="177.52" x2="174.7" y2="177.52"/><line x1="192.00" y1="1132.6" x2="192.00" y2="1170"/><line x1="477.60" y1="1132.6" x2="477.60" y2="1170"/><line x1="763.20" y1="1132.6" x2="763.20" y2="1170"/><line x1="1048.80" y1="1132.6" x2="1048.80" y2="1170"/><line x1="1334.40" y1="1132.6" x2="1334.40" y2="1170"/><line x1="1620.00" y1="1132.6" x2="1620.00" y2="1170"/><line x1="334.80" y1="1132.6" x2="334.80" y2="1150.5"/><line x1="620.40" y1="1132.6" x2="620.40" y2="1150.5"/><line x1="906.00" y1="1132.6" x2="906.00" y2="1150.5"/><line x1="1191.60" y1="1132.6" x2="1191.60" y2="1150.5"/><line x1="1477.20" y1="1132.6" x2="1477.20" y2="1150.5"/></g>
<g font-family="'Liberation Serif', serif" font-weight="bold" font-size="45" fill="#000"><text transform="translate(137,1149.6) scale(0.94,1)" text-anchor="end">0</text><text transform="translate(137,876.7) scale(0.94,1)" text-anchor="end">0.4</text><text transform="translate(137,603.8) scale(0.94,1)" text-anchor="end">0.8</text><text transform="translate(137,331.0) scale(0.94,1)" text-anchor="end">1.2</text><text transform="translate(137,58.1) scale(0.94,1)" text-anchor="end">1.6</text><text transform="translate(192.0,1232) scale(0.94,1)" text-anchor="middle">300</text><text transform="translate(477.6,1232) scale(0.94,1)" text-anchor="middle">400</text><text transform="translate(763.2,1232) scale(0.94,1)" text-anchor="middle">500</text><text transform="translate(1048.8,1232) scale(0.94,1)" text-anchor="middle">600</text><text transform="translate(1334.4,1232) scale(0.94,1)" text-anchor="middle">700</text><text transform="translate(1620.0,1232) scale(0.94,1)" text-anchor="middle">800</text></g>
<text x="694" y="1294" font-family="'Liberation Serif', serif" font-weight="bold" font-size="52" textLength="397" lengthAdjust="spacingAndGlyphs">Wavelength [nm]</text><text transform="translate(53.6,722) rotate(-90)" font-family="'Liberation Serif', serif" font-weight="bold" font-size="52" textLength="273" lengthAdjust="spacingAndGlyphs">Absorbance</text>
</svg></body></html>
